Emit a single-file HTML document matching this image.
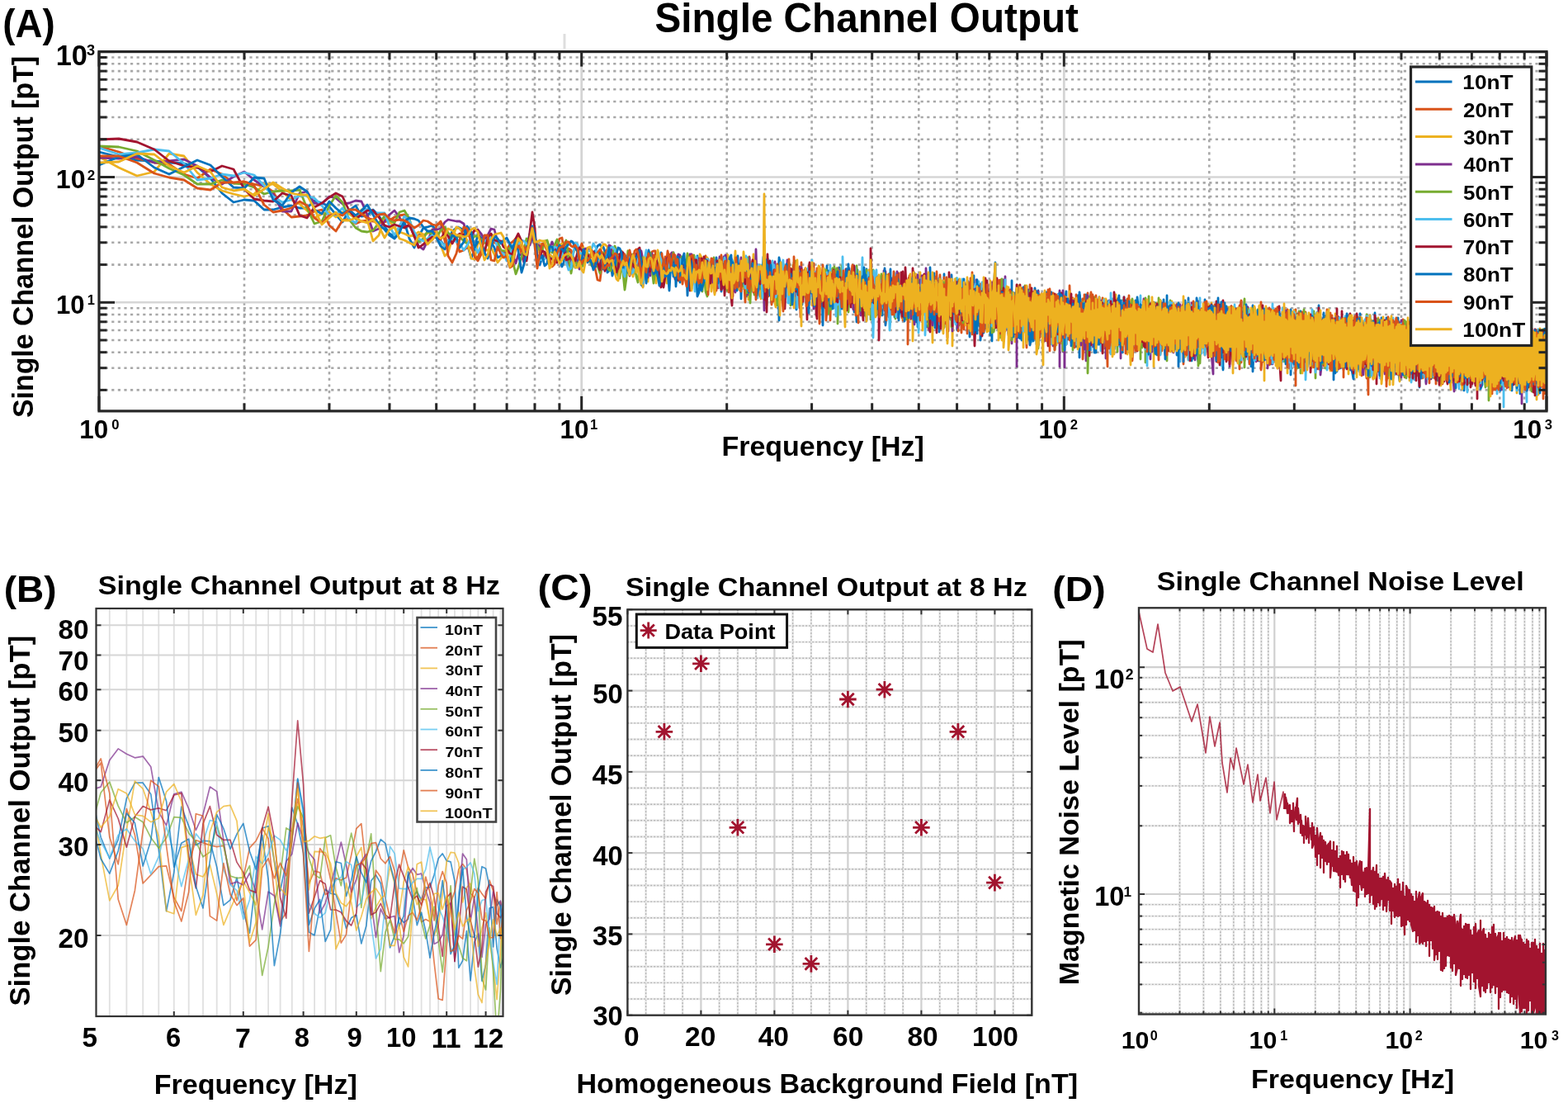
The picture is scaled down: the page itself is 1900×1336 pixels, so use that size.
<!DOCTYPE html>
<html><head><meta charset="utf-8"><title>Single Channel Output</title>
<style>html,body{margin:0;padding:0;background:#fff;overflow:hidden;}svg{display:block;}</style>
</head><body>
<svg width="1900" height="1336" viewBox="0 0 1900 1336" font-family="'Liberation Sans', Arial, Helvetica, sans-serif" font-weight="bold" fill="#000">
<defs>
<clipPath id="clipA"><rect x="120" y="62.6" width="1754" height="435.3"/></clipPath>
<clipPath id="clipB"><rect x="116.5" y="737" width="493" height="494"/></clipPath>
<clipPath id="clipD"><rect x="1380" y="736.3" width="492.9" height="492.2"/></clipPath>
</defs>
<rect width="1900" height="1336" fill="#fff"/>
<line x1="296" y1="62.6" x2="296" y2="497.9" stroke="#a8a8a8" stroke-width="2.6" stroke-dasharray="3.2 4.4"/>
<line x1="399" y1="62.6" x2="399" y2="497.9" stroke="#a8a8a8" stroke-width="2.6" stroke-dasharray="3.2 4.4"/>
<line x1="472" y1="62.6" x2="472" y2="497.9" stroke="#a8a8a8" stroke-width="2.6" stroke-dasharray="3.2 4.4"/>
<line x1="528.7" y1="62.6" x2="528.7" y2="497.9" stroke="#a8a8a8" stroke-width="2.6" stroke-dasharray="3.2 4.4"/>
<line x1="575" y1="62.6" x2="575" y2="497.9" stroke="#a8a8a8" stroke-width="2.6" stroke-dasharray="3.2 4.4"/>
<line x1="614.1" y1="62.6" x2="614.1" y2="497.9" stroke="#a8a8a8" stroke-width="2.6" stroke-dasharray="3.2 4.4"/>
<line x1="648" y1="62.6" x2="648" y2="497.9" stroke="#a8a8a8" stroke-width="2.6" stroke-dasharray="3.2 4.4"/>
<line x1="677.9" y1="62.6" x2="677.9" y2="497.9" stroke="#a8a8a8" stroke-width="2.6" stroke-dasharray="3.2 4.4"/>
<line x1="880.7" y1="62.6" x2="880.7" y2="497.9" stroke="#a8a8a8" stroke-width="2.6" stroke-dasharray="3.2 4.4"/>
<line x1="983.6" y1="62.6" x2="983.6" y2="497.9" stroke="#a8a8a8" stroke-width="2.6" stroke-dasharray="3.2 4.4"/>
<line x1="1056.7" y1="62.6" x2="1056.7" y2="497.9" stroke="#a8a8a8" stroke-width="2.6" stroke-dasharray="3.2 4.4"/>
<line x1="1113.3" y1="62.6" x2="1113.3" y2="497.9" stroke="#a8a8a8" stroke-width="2.6" stroke-dasharray="3.2 4.4"/>
<line x1="1159.6" y1="62.6" x2="1159.6" y2="497.9" stroke="#a8a8a8" stroke-width="2.6" stroke-dasharray="3.2 4.4"/>
<line x1="1198.8" y1="62.6" x2="1198.8" y2="497.9" stroke="#a8a8a8" stroke-width="2.6" stroke-dasharray="3.2 4.4"/>
<line x1="1232.7" y1="62.6" x2="1232.7" y2="497.9" stroke="#a8a8a8" stroke-width="2.6" stroke-dasharray="3.2 4.4"/>
<line x1="1262.6" y1="62.6" x2="1262.6" y2="497.9" stroke="#a8a8a8" stroke-width="2.6" stroke-dasharray="3.2 4.4"/>
<line x1="1465.3" y1="62.6" x2="1465.3" y2="497.9" stroke="#a8a8a8" stroke-width="2.6" stroke-dasharray="3.2 4.4"/>
<line x1="1568.3" y1="62.6" x2="1568.3" y2="497.9" stroke="#a8a8a8" stroke-width="2.6" stroke-dasharray="3.2 4.4"/>
<line x1="1641.3" y1="62.6" x2="1641.3" y2="497.9" stroke="#a8a8a8" stroke-width="2.6" stroke-dasharray="3.2 4.4"/>
<line x1="1698" y1="62.6" x2="1698" y2="497.9" stroke="#a8a8a8" stroke-width="2.6" stroke-dasharray="3.2 4.4"/>
<line x1="1744.3" y1="62.6" x2="1744.3" y2="497.9" stroke="#a8a8a8" stroke-width="2.6" stroke-dasharray="3.2 4.4"/>
<line x1="1783.4" y1="62.6" x2="1783.4" y2="497.9" stroke="#a8a8a8" stroke-width="2.6" stroke-dasharray="3.2 4.4"/>
<line x1="1817.3" y1="62.6" x2="1817.3" y2="497.9" stroke="#a8a8a8" stroke-width="2.6" stroke-dasharray="3.2 4.4"/>
<line x1="1847.2" y1="62.6" x2="1847.2" y2="497.9" stroke="#a8a8a8" stroke-width="2.6" stroke-dasharray="3.2 4.4"/>
<line x1="120" y1="472.4" x2="1874" y2="472.4" stroke="#a8a8a8" stroke-width="2.6" stroke-dasharray="3.2 4.4"/>
<line x1="120" y1="445.7" x2="1874" y2="445.7" stroke="#a8a8a8" stroke-width="2.6" stroke-dasharray="3.2 4.4"/>
<line x1="120" y1="426.7" x2="1874" y2="426.7" stroke="#a8a8a8" stroke-width="2.6" stroke-dasharray="3.2 4.4"/>
<line x1="120" y1="412" x2="1874" y2="412" stroke="#a8a8a8" stroke-width="2.6" stroke-dasharray="3.2 4.4"/>
<line x1="120" y1="400" x2="1874" y2="400" stroke="#a8a8a8" stroke-width="2.6" stroke-dasharray="3.2 4.4"/>
<line x1="120" y1="389.8" x2="1874" y2="389.8" stroke="#a8a8a8" stroke-width="2.6" stroke-dasharray="3.2 4.4"/>
<line x1="120" y1="381" x2="1874" y2="381" stroke="#a8a8a8" stroke-width="2.6" stroke-dasharray="3.2 4.4"/>
<line x1="120" y1="373.2" x2="1874" y2="373.2" stroke="#a8a8a8" stroke-width="2.6" stroke-dasharray="3.2 4.4"/>
<line x1="120" y1="320.6" x2="1874" y2="320.6" stroke="#a8a8a8" stroke-width="2.6" stroke-dasharray="3.2 4.4"/>
<line x1="120" y1="293.8" x2="1874" y2="293.8" stroke="#a8a8a8" stroke-width="2.6" stroke-dasharray="3.2 4.4"/>
<line x1="120" y1="274.9" x2="1874" y2="274.9" stroke="#a8a8a8" stroke-width="2.6" stroke-dasharray="3.2 4.4"/>
<line x1="120" y1="260.2" x2="1874" y2="260.2" stroke="#a8a8a8" stroke-width="2.6" stroke-dasharray="3.2 4.4"/>
<line x1="120" y1="248.1" x2="1874" y2="248.1" stroke="#a8a8a8" stroke-width="2.6" stroke-dasharray="3.2 4.4"/>
<line x1="120" y1="238" x2="1874" y2="238" stroke="#a8a8a8" stroke-width="2.6" stroke-dasharray="3.2 4.4"/>
<line x1="120" y1="229.2" x2="1874" y2="229.2" stroke="#a8a8a8" stroke-width="2.6" stroke-dasharray="3.2 4.4"/>
<line x1="120" y1="221.4" x2="1874" y2="221.4" stroke="#a8a8a8" stroke-width="2.6" stroke-dasharray="3.2 4.4"/>
<line x1="120" y1="168.7" x2="1874" y2="168.7" stroke="#a8a8a8" stroke-width="2.6" stroke-dasharray="3.2 4.4"/>
<line x1="120" y1="142" x2="1874" y2="142" stroke="#a8a8a8" stroke-width="2.6" stroke-dasharray="3.2 4.4"/>
<line x1="120" y1="123" x2="1874" y2="123" stroke="#a8a8a8" stroke-width="2.6" stroke-dasharray="3.2 4.4"/>
<line x1="120" y1="108.3" x2="1874" y2="108.3" stroke="#a8a8a8" stroke-width="2.6" stroke-dasharray="3.2 4.4"/>
<line x1="120" y1="96.3" x2="1874" y2="96.3" stroke="#a8a8a8" stroke-width="2.6" stroke-dasharray="3.2 4.4"/>
<line x1="120" y1="86.1" x2="1874" y2="86.1" stroke="#a8a8a8" stroke-width="2.6" stroke-dasharray="3.2 4.4"/>
<line x1="120" y1="77.3" x2="1874" y2="77.3" stroke="#a8a8a8" stroke-width="2.6" stroke-dasharray="3.2 4.4"/>
<line x1="120" y1="69.5" x2="1874" y2="69.5" stroke="#a8a8a8" stroke-width="2.6" stroke-dasharray="3.2 4.4"/>
<line x1="704.7" y1="62.6" x2="704.7" y2="497.9" stroke="#d4d4d4" stroke-width="2.8"/>
<line x1="1289.3" y1="62.6" x2="1289.3" y2="497.9" stroke="#d4d4d4" stroke-width="2.8"/>
<line x1="120" y1="366.3" x2="1874" y2="366.3" stroke="#d6d6d6" stroke-width="2.6"/>
<line x1="120" y1="214.5" x2="1874" y2="214.5" stroke="#d6d6d6" stroke-width="2.6"/>
<path d="M120 184l24 6 22 4 21 1 18 2 18 1 16 4 16 14 14 18 14 11 13-3 12 1 12 11 11 0 11-3 11-2 10 3 9 0 9-9 9 3 9 4 8 10 8 9 8-14 8-6 7 13 7-1 7-7 7 7 7 13 6 9 6 3 6-10 6-7 6 20 6 11 5-13 6-11 5-1 6-2 5 7 5 12 5 6 4-6 5-12 5-4 4 0 5 3 4 16 5 18 4-11 4-19 4 5 4 6 4-1 4 0 4 7 4 12 4-2 3-6 4 9 4 7 3-17 4-14 3-1 4 11 3 8 3-8 4-16 3 5 3 8 3 24 3 1 3-9 3-5 3 1 3 0 3 5 3 5 3-3 3 0 3 8 2-5 3-14 3-1 3 2 2 10 3 9 3-3 2-6 3 2 2-1 3-7 2-1 3 2 2-4 2 0 3-3 2-5 3-2 2 3 2 0 2 6 3 25 2-2 2-9 2 15 3-11 2-3 2 14 2-5 2-16 2-1 2 12 2 6 2-4 2-6 2 11 2-4 2 4 2-17 2-3 2 2 2 32 2 2 2-19 2-17 2 15 1-15 2 5 2 1 2-1 2 16 1 1 2 3 2-16 2-14 1 15 2-4 2 0 2 3 1 2 2-12 2 11 1 6 2-15 2 1 1 6 2 3 1-13 2 14 2 7 1-11 2 8 1-1 2 3 1 1 2 16 1-8 2-1 1 7 2-13 1-6 2 11 1-26 2 17 1-3 2 17 1-3 2-25 1 7 1 10 2 14 1-30 1 26 2-5 1-4 2-6 1 4 1 0 2-17 1 16 1-3 2 23 1-26 1 31 2-14 1-27 1 29 1-10 2 16 1 0 1-29 1 19 2-4 1 3 1 17 1-19 2-15 1 24 1-16 1-7 1 30 2-28 1 40 1-37 1 13 1 11 2-13 1 7 1 16 1-38 1 0 1 28 1-8 2 1 1-3 1 15 1-30 1 11 1 14 1-6 1 4 1-8 2-11 1 0 1 24 1-17 1 14 1 14 1-10 1-16 1 23 1-12 1-16 1 16 1 0 1 4 1 15 1-25 1-4 1-1 1 17 1-1 1-24 1 24 1-9 1 44 1-33 1 0 1 8 1-41 1 23 1 25 1-30 1 1 1 0 1-17 1 18 1-1 1 10 1 5 1-14 1 1 1 12 1-6 0-8 1-1 1 10 1 25 1-35 1 8 1 8 1-6 1 10 1-20 0 9 1 20 1-30 1-1 1 8 1-9 1 30 1-39 0 12 1-9 1 36 1-14 1-4 1-27 1 23 0 18 1-25 1 5 1 13 1-21 1-4 0 18 1 11 1-23 1 4 1 9 1 8 0-8 1-10 1 6 1 48 1-56 0-13 1 17 1-6 1 11 1-25 0 25 1-18 1-1 1 21 1-13 0 34 1-28 1 29 1-30 0 13 1-3 1 10 1-16 0-6 1 23 1-9 1-8 0 12 1-24 1-9 1 22 0 4 1-3 1 14 1 10 0-11 1-14 1 8 0 8 1 3 1-15 1 5 0-15 1 25 1-45 1 32 0-27 1 30 1-11 0 14 1-29 1 13 0 19 1-7 1-12 0 36 1-16 1-2 1 30 0-42 1-21 1 53 0-10 1-19 1-4 0 1 1 8 1 4 0 19 1-49 1 6 0 26 1-9 1 4 0 2 1 10 1-43 0 30 1-12 1 12 0-6 1-16 0 18 1-17 1 28 0-18 1-9 1 8 0 19 1 4 1-8 0 4 1-13 0 7 1 8 1 8 0-9 1-9 1-10 0 4 1-3 0-7 1 10 1 28 0-19 1 18 0-23 1 29 1-26 0-2 1-6 0 8 1-31 1 37 0-17 1 17 0 8 1-8 1 16 0-25 1 31 0-39 1 12 1-10 0 26 1-36 0 4 1 3 0 14 1-12 1 11 0-16 1 43 0-28 1-17 0 7 1-1 1 1 0 8 1 16 0-20 1 13 0-2 1-3 0-1 1 14 1-23 0 6 1-12 0-10 1 15 0 9 1 21 0-19 1-3 1-2 0 4 1 8 0-19 1 9 0-11 1 24 0-15 1-11 1 32 0-15 1 4 0-20 1 9 1 15 0-9 1 7 0-7 1 6 0-9 1-12 0-12 1 17 0-12 1 54 0-40 1-1 0 3 1 8 0 36 1-22 0-12 1-8 0 18 1-13 0 2 1 0 0-2 1-8 0 13 1-3 0 12 1-8 0 6 1-17 0-19 1 2 0 32 1-15 0 5 1 29 0 8 1-26 0-7 1 19 0-6 1-2 0 2 1 5 0-16 1-13 0 5 1 18 0-11 1-3 0 31 0-43 1 33 1-51 0 46 1-11 0 7 1-24 0 17 1 19 0 13 1-28 0-32 1 40 1-32 0 40 0 16 1-37 0-6 1 5 0 32 1-24 0-14 1 13 0-14 1 27 1-52 0 47 0-14 1-13 0 16 1-6 0 2 1-7 1 7 0-12 0-7 1 28 0-1 1 0 0 2 1-1 1-19 0 19 0-15 1 12 0-37 1 28 0-7 0 25 1-17 1 13 0-10 1-15 1 27 0-14 0 6 1-12 0 10 1 14 0 19 0-39 1 3 1 30 0-17 0-25 1 0 1-2 0 16 1-13 1 8 0 12 0 5 1-25 1 13 0 11 0-34 1 45 1-40 0 41 0-40 1 26 0-14 1-11 0 17 1 4 1 0 0-23 0 15 1 45 1-36 0 1 0-32 2 44 0-29 0 24 1-24 1 6 0-28 0 34 1-13 1 20 0-16 0 2 1-13 1 42 0-10 0-26 0 16 1-5 1 3 0 26 0-37 1 1 1-4 0 6 0 52 2-22 0-44 0 25 1-14 1 4 0-9 0 19 0-14 1 31 1-9 0 15 0-31 2 29 0-35 0 32 0-24 1 19 1-22 0-1 0 37 2-38 0 46 0-19 0-33 1 8 1 51 0-30 0-33 2 20 0 27 0-12 0-31 2-36 0 71 0 2 0-40 1 37 1-35 0 12 0-4 2 6 0 31 0-5 0-28 2 18 0-22 0-8 0-1 2 17 0 13 0-13 0 13 2 20 0-47 0 33 0-25 2 18 0-22 0 3 0 24 2-8 0-15 0-12 0 3 2 37 0-39 0 11 0 23 2-15 0 24 0-37 0 21 2 21 0-60 0 52 0-37 2 25 0 8 0 5 0-19 2 17 0-35 0-1 0 33 2-12 0-25 0 1 0 33 2 16 0-37 0-15 0 31 2-10 0 37 0-6 0-25 2 18 0-35 0 14 0 39 2-21 0-19 0 15 0-32 2 34 0-17 0-10 0 26 2-37 0 33 0-10 0-1 2 5 0 33 0-40 0 19 2-15 0 10 0-19 0 38 2-21 0 28 0-12 0-16 2-13 0 19 0-27 0 27 2-26 0 16 0 12 0-23 2 6 0 15 0 28 0-35 2 10 0-40 0 6 0 47 2-41 0 36 0-12 0-19 2 17 0-20 0 29 0-25 2 17 0-19 0 46 0-24 2 7 0-27 0 11 0-23 2 5 0 22 0-31 0 44 2-33 0 24 0-16 0 26 2 2 0-25 0-8 0 17 2-19 0 10 0 2 0 10 2-31 0 43 0-4 0-23 2 46 0-44 0 26 0-37 2 19 0-3 0 15 0-12 2-26 0 26 0-5 0 19 2-26 0 32 0-10 0-29 2 12 0 9 0-11 0 12 2 8 0-28 0 17 0 18 2-26 0 20 0-12 0-16 2-14 0 64 0-38 0 18 2 7 0-28 0-5 0 40 2-39 0 21 0 14 0-39 2 6 0 17 0 4 0-30 2 14 0 26 0-27 0 33 2-11 0-37 0 35 0-26 2-11 0 59 0-30 0-12 2 1 0 27 0-33 0 23 2-25 0 62 0-26 0-50 2 10 0 15 0 23 0-27 2 1 0 36 0-15 0-31 2 28 0-9 0-10 0 33 2-14 0-28 0 38 0-50 2 45 0-39 0 12 0 43 2-58 0 38 0 18 0-31 2 13 0-36 0 15 0 25 2-1 0-37 0 38 0-17 2 11 0-19 0-6 0 23 2-23 0 26 0 19 0-43 2 22 0-23 0 3 0 23 2-7 0-31 0 20 0 28 2 1 0-36 0-3 0 24 2-26 0 18 0-9 0 16 2-17 0 36 0-7 0-25 2 14 0-14 0 12 0-21 2 28 0-34 0 10 0 10 2 28 0-36 0-9 0 37 2 4 0-28 0 18 0-22 2-3 0 12 0 5 0-27 2 2 0 57 0-2 0-59 2 18 0 35 0-40 0 29 2 4 0-31 0 18 0-24 2-1 0 16 0 7 0-24 2 15 0 16 0 11 0-30 2 17 0-21 0 28 0-21 2 22 0-41 0-5 0 49 2-37 0 27 0-35 0 49 2-7 0-27 0 18 0 12 2-46 0 29 0-14 0 23 2 6 0-19 0 28 0-33 2 26 0-35 0 38 0-27 2 23 0-17 0 8 0-25 2 1 0 30 0 3 0-29 2-1 0 28 0 5 0-51 2 19 0 28 0 14 0-40 2 18 0-13 0-16 0 29 2 5 0-34 0 12 0 34 2-44 0 34 0-27 0 31 2-19 0 16 0-32 0 25 2-23 0 43 0-4 0-48 2 41 0-39 0 56 0-42 2-16 0 48 0-9 0-24 2 28 0-36 0 6 0 27 2 0 0-30 0-10 0 38 2-39 0 24 0-9 0 23 2-7 0-28 0 38 2-28 0 32 0-2 0-27 2-19 0 41 0-25 0 18 2 8 0-30 0 23 0-26 2 39 0-29 0-20 0 50 2-8 0-31 0 12 0 21 2-30 0 33 0 9 0-40 2 27 0-30 0 42 0-43 2 38 0-34 0-3 0 47 2-30 0 6 0-8 0 17 2-40 0 40 0-23 0 25 2-2 0-33 0 13 0 19 2-15 0 31 0-3 0-38 2-6 0 54 0-55 0 52 2-50 0 29 0-28 0 27 2-27 0 43 0-37 0 28 2-10 0-28 0 16 0 26 2-44 0 38 0-29 0 45 2-41 0 23 0 6 0-37 2 5 0 17 0-38 0 54 2 0 0-31 0 29 0-31 2-1 0 56 0-59 0 29 2 8 0-44 0 63 0-56 2 33 0-28 0 21 0-35 2 49 0-18 0-31 0 55 2 14 0-63 0 5 0 58 2-39 0 20 0-43 0 50 2-43 0 40 0-37 0 34 2-38 0 33 0-33 0 24 2 3 0-34 0 6 0 31 2-44 0 35 0 6 0-28 2 46 0-55 0 7 0 30 2-25 0 32 0-3 0-29 2-4 0 31 0-21 0 29 2-33 0 25 0-40 2 31 0-21 0 38 2-50 0 47 0-39 0 35 2-3 0-32 0 41 0-40 2 6 0 40 0-50 0 28 2-31 0 34 0 24 0-44 2 45 0-48 0 66 0-60 2 23 0-34 0 11 0 36 2-11 0-23 0 14 0-18 2-7 0 33 0 11 0-40 2 31 0-39 0 53 0-46 2 2 0 32 0 12 0-42 2 25 0-34 0 9 0 27 2 18 0-58 0 43 0-28 2 29 0-30 0-6 0 53 2-54 0 59 0-9 0-51 2-4 0 40 0-22 0 34 2 3 0-44 0-5 0 42 2-4 0-30 0 35 0-41 2 1 0 38 0-3 0-28 2 40 0-42 0 29 0-30 2 36 0-44 0 47 0-31 2 22 0-40 0 2 0 59 2-47 0 24 0-35 0 39 2-39 0 33 0-44 0 80 2-41 0-26 0 46 0-39 2 44 0-51 0 22 0-18 2-3 0 40 0-35 0 35 2-42 0 33 0-38 0 31 2 4 0-25 0-3 0 37 2-27 0 28 0-36 0 48 2-11 0-40 0-6 0 37 2 4 0-35 0 29 0-28 2 3 0 43 0-13 0-24 2 18 0-34 0 41 0-34 2 42 0-38 0 53 0-44 2-12 0 44 0-1 0-46 2 1 0 37 0-31 0 47 2-43 0 38 0-36 0 43 2-58 0 49 0-40 0 54 2-61 0 45 0-43 0 41 2-35 0 32 0 12 0-41 2 32 0-31 0-16 0 42 2-2 0-25 0 32 0-44 2 10 0 35 0-41 0 43 2-44 0 38 0 10 0-52 2 56 0-49 0-4 0 46 2-47 0 52 0-52 0 72 2-76 0 53 0-44 0 42 2-7 0-37 0 9 0 43 2-13 0-38 0 35 0-39 2 9 0 37 0-17 0-23 2-2 0 34 0-28 0 41 2-49 0 46 0-17 0-36 2 47 0-25 0 24 0-39 2 10 0 45 0-57 0 46 2-43 0 47 0 7 0-52 2 42 0-38 0 2 0 35 2 8 0-37 0 31 0-33 2-8 0 33 0-29 0 38 2-38 0 29 0-34 0 39 2 11 0-44 0 40 0-38 2 42 0-54 0 5 0 38 2 14 0-42 0-3 0 32 2-4 0-54 0 60 0-50 2 65 0-55 0-5 0 40 2-37 0 39 0-38 0 35 2 3 0-43 0 8 0 29 2 4 0-31 0-11 0 56 2-55 0 45 0-32 0 34 2 4 0-48 0 48 0-50 2 13 0 27 0 21 0-52 2 0 0 47 0-51 0 43 2-43 0 38 0-32 0 29 2 10 0-42 0 59 0-57 2 55 0-56 0-4 0 41 2-39 0 47 0-10 0-29 2 46 0-52 0 2 0 32 2 8 0-33 0 36 0-52 2 12 0 34 0-10 0-24 2 28 0-34 0 52 0-45 2 25 0-36 0 3 0 38 2-34 0 37 0 1 0-42 2 37 0-38 0-8 0 65 2-13 0-48 0 9 0 52 2 11 0-68 0 35 0-32 2 4 0 32 0-38 2 49 0-50 0 1 0 53 2-51 0 30 0-39 0 37 2 7 0-49 0 66 0-51 2 2 0 53 0-60 0 51 2-44 0 34 0-39 0 44 2-15 0-30 0 2 0 30 2-28 0 53 0-57 0 46 2-45 0 47 0-42 0 34 2 17 0-54 0 50 0-62 2 61 0-37 0-11 0 48 2-50 0 43 0-39 0 47 2 6 0-71 0 9 0 46 2-48 0 53 0-41 0 37 2-32 0 36 0-39 0 29 2-36 0 45 0-5 0-37 2 5 0 38 0-1 0-53 2 49 0-33 0 33 0-35 2-9 0 41 0 6 0-43 2 1 0 41 0 6 0-57 2 12 0 49 0-2 0-57 2 1 0 56 0-49 0 40 2-39 0 57 0-57 0 50 2-6 0-38 0 33 0-42 2-3 0 50 0-45 0 41 2 5 0-41 0 33 0-37 2 37 0-29 0-5 0 48 2 14 0-65 0 6 0 52 2-24 0-35 0 5 0 48 2-48 0 51 0-17 0-42 2 11 0 28 0-24 0 34 2-46 0 49 0-44 0 36 2 10 0-48 0 47 0-47 2 36 0-38 0 49 0-51 2 44 0-44 0 50 0-41 2 36 0-38 0 46 0-56 2 10 0 50 0-52 0 48 2-15 0-37 0 52 0-52 2 10 0 36 0-42 0 42 2 1 0-34 0 61 0-66 2-2 0 35 0 6 0-39 2 45 0-49 0 48 0-46 2 41 0-39 0 44 0-46 2 4 0 44 0-50 0 64 2-64 0 35 0-4 0-34 2 47 0-43 0 52 0-52 2 35 0-31 0-3 0 45 2-8 0-29 0-17 0 57 2-56 0 50 0-39 0 41 2-40 0 33 0-9 0-27 2 59 0-61 0 38 0-36 2-8 0 58 0-3 0-54 2 5 0 54 0-51 0 46 2-47 0 50 0-1 0-51 2 5 0 56 0-25 0-41 2 53 0-50 0 38 2 8 0-44 0 45 0-48 2 7 0 46 0-47 0 50 2 0 0-52 0 2 0 37 2-44 0 48 0-42 0 41 2-42 0 66 0-67 0 30 2 33 0-62 0-7 0 54 2 4 0-50 0-7 0 50 2 5 0-56 0 43 0-37 2 58 0-56 0-1 0 64 2-7 0-55 0 34 0-25 2 41 0-49 0-3 0 72 2-72 0 50 0-39 0 30 2-32 0 49 0 6 0-63 2 46 0-44 0 44 0-40 2 37 0-35 0 48 0-50 2 45 0-48 0-9 0 60 2-4 0-48 0 49 0-54 2 37 0-28 0 55 0-59 2 45 0-44 0-6 0 49 2-45 0 47 0-43 0 49 2-48 0 62 0-70 0 71 2-5 0-53 0 53 0-61 2 50 0-48 0-6 0 54 2-6 0-48 0 5 0 46 2 4 0-51 0-4 0 41 2 17 0-49 0 31 0-29 2 42 0-54 0 50 2 8 0-60 0 1 0 46 2-38 0 44 0 7 0-57 2 11 0 36 0-40 0 39 2-43 0 47 0 1 0-44 2-7 0 60 0-58 0 58 2-56 0 50 0-45 0 63 2-13 0-59 0 57 0-50 2-4 0 48 0-44 0 51 2-54 0 48 0-2 0-48 2 1 0 35 0 19 0-54 2 7 0 46 0-52 0 47 2-3 0-54 0 14 0 43 2-43 0 48 0-50 2 1 0 50 0-52 0 47 2 12 0-52 0 1 0 33 2-31 0 47 0-53 0 40 2-40 0 49 0-59 0 48 2 12 0-54 0 1 0 70 2-66 0 50 0-50 0 53 2-56 0 44 0 6 0-55 2 1 0 54 0-2 0-53 2 51 0-47 0-2 0 56 2 5 0-61 0 54 0-46 2 40 0-39 0-2 0 48 2-1 0-52 0 45 0-37 2-12 0 51 0-42 0 42 2-40 0 39 0-43 0 58 2-59 0 38 0-47 0 67 2-6 0-48 0 44 2 7 0-62 0 52 0-53 2 66 0-64 0 5 0 46 2-4 0-40 0 47 2-47 0 58 0-14 0-39" fill="none" stroke="#0072BD" stroke-width="2.8" stroke-linejoin="round" clip-path="url(#clipA)"/>
<path d="M120 177l24 7 22 8 21 5 18 2 18 12 16 5 16-11 14 6 14 11 13-2 12 3 12 3 11 6 11 21 11 10 10-1 9-1 9-5 9-2 9 19 8 7 8-13 8-2 8 6 7-3 7-1 7 1 7 2 7-1 6-2 6-4 6-2 6-1 6 11 6 16 5-2 6 1 5 8 6-4 5-17 5-3 5 22 4 8 5-17 5 8 4 14 5-2 4-3 5 0 4 9 4 4 4-14 4-6 4 0 4 1 4 0 4 0 4 9 3 7 4-6 4-9 3-2 4-4 3 3 4 16 3 9 3-3 4-24 3-10 3 9 3 16 3-3 3 0 3 7 3-1 3-4 3 0 3 0 3-7 3-8 3-1 2 13 3 14 3-14 3 2 2 7 3 5 3 5 2-17 3-8 2 6 3 1 2 6 3 9 2-1 2 1 3 12 2 10 3 1 2-16 2-13 2-3 3-7 2-1 2 1 2 7 3 1 2-2 2 1 2 2 2-6 2 3 2 10 2-6 2 9 2-2 2-10 2 6 2 0 2-4 2 14 2 4 2-1 2-8 2 6 2 3 2-11 1-4 2 0 2-8 2-1 2 0 1 10 2 7 2 18 2-19 1-13 2 18 2-14 2 3 1-10 2 10 2 14 1-18 2 7 2-3 1 18 2 1 1 7 2-8 2-18 1 1 2 12 1-4 2 10 1-15 2 20 1-2 2 0 1-23 2 24 1-17 2 5 1-1 2 22 1-15 2-8 1-6 2 16 1-3 1-20 2 24 1-5 1 0 2-3 1-3 2 1 1 8 1 23 2-24 1 2 1 8 2-4 1-16 1 7 2 20 1-16 1-15 1 12 2-20 1 10 1 13 1 8 2 2 1-16 1 33 1-35 2-3 1 5 1 9 1 11 1 1 2 5 1-12 1-17 1 6 1 0 2 37 1-44 1 1 1 9 1-10 1-11 1 31 2-18 1 15 1 5 1-13 1-7 1-3 1 16 1-15 1 31 2 6 1-27 1 4 1-13 1 15 1-19 1 2 1 16 1 0 1 6 1 16 1-6 1-5 1-11 1 18 1-17 1-19 1 13 1 6 1-10 1 11 1-4 1-10 1 27 1-10 1-13 1 21 1-10 1 8 1-15 1 9 1 14 1-7 1-15 1 2 1 27 1-35 1-3 1 14 1 19 1-10 1-22 0 24 1-11 1-11 1 7 1 4 1 4 1-5 1 5 1 41 1-66 0 33 1 11 1-22 1 4 1 7 1 4 1-2 1-5 0-9 1 33 1-50 1 18 1 2 1-5 1-15 0 4 1 9 1-16 1 50 1-15 1-1 0-18 1 1 1 14 1-20 1 13 1 15 0-13 1 20 1-34 1 7 1 16 0-12 1-2 1 3 1-11 1-2 0 36 1-16 1-12 1 27 1-27 0 50 1-39 1-5 1-16 0 15 1-11 1 10 1 19 0-27 1 4 1 12 1 7 0-1 1-23 1-5 1 1 0 10 1 10 1-23 1 19 0 7 1 15 1-2 0-27 1 15 1 20 1-42 0 20 1 15 1-25 1 27 0-6 1 3 1-4 0 5 1 0 1-45 0 21 1 9 1 5 0 13 1-27 1-10 1 17 0 3 1 7 1-16 1 3 1-6 0 19 1 3 1-26 0 7 1 0 1 24 0-27 1-3 1 15 0 10 1-14 1 15 0-1 1-21 1 16 0 23 1-29 0-1 1 11 1 6 0-10 1 7 1-18 0-12 1 21 1-13 0 16 1-20 0 18 1 8 1 12 0-25 1-7 1-7 0 5 1 9 0-17 1 29 1-19 0 14 1 0 0-18 1-3 1 28 0-29 1 2 0 24 1-11 1 23 0 18 1-42 0 6 1 4 1-11 0 17 1-15 0-12 1-7 1 25 0 10 1-8 0-6 1-3 0 24 1-36 1-2 0 16 1 9 0-6 1-18 0 7 1 4 1 31 0-14 1-4 0 15 1-45 0 28 1-12 0 4 1 13 1-7 0 14 1-23 0 37 1-7 0 10 1-17 0-28 1 13 1 2 0-6 1 13 0 5 1-26 0 33 1-9 0 49 1-77 0 6 1 9 0 29 1-40 0 14 1-4 1 10 0-13 1 19 0-22 1-19 0 32 1 22 0-20 1 5 0-18 1 10 0-8 1 9 0 5 1-9 0-9 1 39 0-46 1 28 0 18 1-47 0-7 1 11 0 11 1-6 0 9 1 2 0 11 1-21 0 9 1 14 0-2 1-18 0 21 1-36 0-5 1 20 0-21 1 21 0 16 1 29 0-24 1-32 0 33 1-12 0-14 1 14 0-7 1-7 0 11 1-4 0 23 0-25 1 2 1 11 0-7 1 4 0-13 1-16 0 14 1 11 0-31 1 47 0-17 1 19 1-14 0-19 0 13 1 15 0-19 1 23 0-15 1 6 0-23 1 2 0 17 1 11 1 21 0-36 0-24 1 25 0 7 1-7 0-6 1 16 1 38 0-48 0 6 1 4 0-12 1 9 0-11 1-8 1 10 0-13 0 12 1 11 0-14 1 20 0 12 0-26 1 17 1-10 0-2 1 3 1-16 0 18 0-22 1 43 0-41 1 14 0-11 0-9 1 56 1-46 0 38 0-32 1-10 1 32 0-20 1 40 1-41 0 35 0-15 1-8 1-22 0 23 0 24 1-43 1 15 0-7 0 22 1-35 0 18 1-24 0 7 0 52 1-37 1-5 0-2 0 18 1 4 1-7 0-19 0 41 2-21 0-46 0 58 1-27 1-15 0 26 0 2 1-18 1 23 0-34 0 4 1 14 1-3 0 14 0-13 0 8 1-2 1 4 0-18 0 6 1 14 1 29 0-20 0-38 2 27 0-15 0 18 1-12 1 16 0-20 0-9 0 44 1-21 1-3 0 29 0-42 2 29 0-17 0-3 0 5 1-5 1 9 0 10 0 9 2-20 0-9 0 1 0 16 1-28 1-4 0 24 0-24 2 22 0-25 0 55 0-43 2 23 0-20 0 35 0-28 1 10 1 2 0-15 0 15 2-17 0 15 0 5 0-43 2-1 0 38 0-20 0 30 2-11 0-6 0 18 0-25 2 25 0-20 0-2 0 11 2-20 0 10 0 3 0 17 2-7 0-6 0 16 0-31 2 6 0 18 0 23 0-35 2 31 0-29 0 25 0-39 2 22 0 13 0-12 0-17 2 13 0-13 0 33 0-28 2 1 0 5 0-10 0-5 2 14 0 18 0-35 0 44 2-35 0 25 0 10 0-49 2 38 0-28 0 9 0 8 2-22 0 42 0-20 0-22 2 25 0-34 0 33 0 9 2-19 0 19 0-29 0 16 2 43 0-44 0-8 0 16 2-13 0 35 0-27 0 10 2-10 0-11 0-24 0 72 2-60 0 32 0-2 0-11 2-16 0 43 0-6 0-23 2 24 0-30 0 1 0 14 2 13 0-34 0-6 0 31 2 8 0-23 0 20 0-33 2 23 0-15 0 15 0 25 2-20 0-29 0 5 0 22 2-18 0 21 0-4 0-11 2-16 0 21 0-9 0 8 2-21 0 56 0-48 0 27 2-19 0-6 0 20 0-30 2 42 0-11 0-5 0-32 2 43 0-5 0 28 0-45 2 3 0 13 0-17 0 24 2-31 0 24 0-23 0 39 2-20 0 23 0-44 0 30 2 23 0-43 0 17 0-16 2 1 0 19 0-8 0-23 2 34 0-31 0 6 0 24 2-5 0-15 0 14 0 34 2-41 0 14 0-13 0 29 2 5 0-50 0 38 2-7 0-27 0 34 0-31 2 24 0-22 0 18 0-48 2 65 0-35 0 22 0 17 2-17 0-29 0-8 0 48 2 5 0-50 0 32 0-33 2 45 0-40 0 1 0 26 2-22 0 24 0-7 0 21 2-44 0 45 0-21 0-12 2 8 0 29 0-33 0 24 2-45 0 37 0-8 0 44 2-33 0-45 0 30 0-12 2 29 0-26 0 31 0-39 2 39 0-36 0-18 0 35 2 14 0-30 0-4 0 17 2 2 0-18 0 24 0-32 2 4 0 41 0-35 0 24 2-23 0 45 0-15 0-30 2-4 0 45 0-28 0-15 2 16 0 24 0-22 0-15 2 13 0-9 0 21 0-21 2 18 0-19 0-12 0 22 2 0 0-27 0 20 0 21 2-31 0 25 0-15 0 41 2-43 0 13 0-24 0 38 2-32 0 39 0 5 0-44 2 12 0-12 0 43 0-31 2 2 0-20 0 16 0 44 2-45 0 37 0-40 0 27 2-26 0 15 0-29 0 39 2 11 0-46 0 12 0 11 2 8 0-24 0-16 0 47 2 5 0-45 0 19 0 16 2-1 0-24 0-6 0 26 2-8 0-17 0 28 0-15 2-11 0 34 0-9 0-36 2 46 0-32 0 39 0-49 2 5 0 18 0 11 0-17 2-28 0 34 0 4 0-25 2 10 0 17 0-28 0 36 2-17 0 15 0-28 0 61 2-26 0-36 0 39 0-47 2 9 0 20 0 29 0-47 2 37 0-37 0 42 0-45 2 36 0-32 0 2 0 19 2 20 0-44 0 24 0-19 2 18 0-17 0-9 0 39 2-31 0 18 0-22 0 33 2-33 0 30 0-38 0 36 2 1 0-40 0 10 0 50 2-47 0 33 0-39 2 31 0-27 0 1 0 43 2-28 0-26 0 7 0 29 2-13 0 23 0-36 2 22 0-29 0 2 0 26 2-27 0 45 0-1 0-41 2 34 0-30 0 32 0-31 2 36 0-31 0 30 0-34 2 28 0-29 0 46 0-51 2 43 0-38 0 25 0-25 2 1 0 25 0-12 0-21 2 7 0 15 0-16 0 33 2-11 0-13 0 21 0-27 2 2 0 26 0 9 0-31 2 38 0-50 0 28 0-33 2 42 0-34 0 30 0-32 2 31 0-24 0 25 0-34 2 3 0 35 0-32 0 42 2-16 0-19 0 40 0-46 2 26 0-25 0 43 0-44 2 3 0 38 0-32 0 21 2-30 0 20 0 40 0-69 2 60 0-60 0 45 0-32 2-3 0 35 0-44 0 32 2-26 0 30 0-30 0 55 2-8 0-34 0-14 0 25 2 0 0-28 0 41 0-34 2 38 0-41 0 23 0-13 2 28 0-34 0 33 0-18 2 9 0-30 0 39 0-38 2 3 0 26 0-39 0 35 2 16 0-35 0 28 0-34 2 30 0-29 0 39 0-38 2 26 0-29 0 36 0-37 2-5 0 59 0-19 0-28 2-11 0 50 0-42 0 29 2 18 0-43 0 45 0-54 2 9 0 41 0-54 0 40 2-7 0-22 0 39 0-36 2-1 0 27 0-24 0 19 2-18 0 23 0-42 0 51 2-44 0 48 0-18 0-23 2 26 0-40 0 15 0 35 2-46 0 47 0-40 0 30 2 14 0-49 0 15 0 26 2-3 0-26 0-8 0 36 2-37 0 30 0-18 0 26 2 13 0-51 0 28 0-27 2 33 0-15 0 28 0-40 2 7 0 32 0 2 0-46 2-4 0 34 0-25 0 40 2-15 0-28 0 37 2-42 0 30 0 9 0-39 2 39 0-29 0 1 0 32 2-28 0 37 0 2 0-48 2 64 0-63 0 38 0-26 2-3 0 46 0-5 0-52 2-1 0 43 0-49 0 41 2 1 0-34 0-2 0 35 2 8 0-47 0 53 2-48 0 40 0-39 0 24 2-25 0 43 0-40 0 38 2 9 0-51 0-5 0 56 2-18 0-29 0 1 0 23 2 2 0-26 0-9 0 47 2-31 0 34 0-38 0 31 2-38 0 53 0-44 0 40 2-13 0-46 0 46 0-31 2 41 0-52 0-9 0 48 2-30 0 51 0-48 0 33 2-25 0 34 0-20 0-21 2-7 0 43 0 3 0-41 2-10 0 45 0-46 0 52 2-34 0 20 0-31 0 60 2-3 0-52 0 1 0 18 2 9 0-33 0 45 0-45 2 42 0-33 0-12 0 59 2-13 0-44 0 51 0-51 2 43 0-39 0-13 0 60 2-52 0 61 0-24 0-35 2 12 0 52 0-30 0-34 2 44 0-38 0 38 0-42 2-2 0 31 0 20 0-61 2 65 0-49 0 2 0 36 2 16 0-53 0-14 0 36 2-19 0 54 0-26 0-35 2 40 0-40 0 39 0-45 2 1 0 29 0-26 0 32 2 17 0-46 0-4 0 49 2-7 0-49 0 74 0-65 2 41 0-32 0-9 0 45 2-10 0-32 0 5 0 33 2 8 0-37 0 33 0-46 2 39 0-44 0 12 0 48 2-10 0-31 0-13 0 46 2-52 0 54 0-39 0 26 2 12 0-46 0 5 0 40 2 4 0-49 0 1 0 38 2-30 0 34 0-35 0 38 2-2 0-34 0-8 0 40 2-3 0-31 0-4 0 52 2-60 0 62 0-12 0-32 2 44 0-53 0 3 0 41 2-42 0 38 0-38 0 32 2-29 0 29 0 10 0-50 2 32 0-18 0-8 0 43 2 10 0-57 0 57 0-53 2 45 0-46 0 40 0-33 2 1 0 35 0-39 0 37 2 9 0-50 0 9 0 42 2-11 0-39 0-2 0 47 2-53 0 58 0-43 0 30 2-37 0 33 0-34 0 58 2-13 0-39 0 48 0-54 2 56 0-53 0 5 0 48 2-10 0-43 0 45 0-46 2 46 0-44 0 38 0-40 2 35 0-34 0 37 0-30 2-13 0 71 0-61 0 48 2-51 0 50 0-13 0-28 2-11 0 39 0 5 0-39 2 34 0-33 0-7 0 52 2-54 0 35 0 15 0-43 2-6 0 49 0-38 0 42 2-44 0 33 0-40 0 41 2-31 0 34 0-1 0-45 2 43 0-43 0-5 0 48 2 4 0-44 0 5 0 50 2-48 0 36 0 8 0-47 2 36 0-38 0-5 0 66 2-61 0 46 0-43 0 42 2-40 0 35 0-42 0 50 2 16 0-73 0 48 0-46 2 91 0-75 0-17 0 50 2-45 0 49 0-38 0 33 2 1 0-39 0-8 0 53 2 17 0-62 0-8 0 67 2-59 0 41 0-39 0 36 2 3 0-51 0 58 0-41 2-10 0 56 0-19 0-40 2 46 0-46 0 6 0 35 2 28 0-55 0-7 0 31 2 9 0-44 0 5 0 42 2-48 0 53 0-6 0-49 2 6 0 49 0-49 0 71 2-84 0 74 0-60 0 55 2-63 0 54 0-46 0 39 2 15 0-47 0 33 0-40 2-9 0 50 0 3 0-42 2-9 0 58 0-6 0-36 2 22 0-32 0 47 0-58 2 56 0-37 0 34 0-42 2 59 0-59 0-1 0 50 2-40 0 21 0-25 0 39 2-35 0 40 0-59 0 57 2-42 0 55 0-6 0-58 2-2 0 48 0-38 0 36 2 10 0-48 0-1 0 53 2-20 0-32 0 4 0 33 2 12 0-52 0 7 0 43 2-42 0 55 0-57 0 34 2 1 0-42 0 47 2 6 0-51 0 36 0-37 2 51 0-50 0-6 0 55 2-43 0 36 0-41 0 55 2 5 0-58 0 38 0-39 2 59 0-57 0 43 0-47 2 37 0-36 0 5 0 39 2 3 0-44 0 36 2-40 0 50 0-45 0 47 2-11 0-34 0-12 0 52 2-1 0-46 0 6 0 44 2-4 0-36 0 24 0-25 2 2 0 49 0 1 0-66 2 10 0 63 0-18 0-55 2 51 0-37 0 47 0-58 2 11 0 53 0-52 0 37 2-35 0 39 0 3 0-50 2 43 0-47 0 37 0-32 2 47 0-46 0-6 0 45 2-3 0-40 0 7 0 42 2-3 0-44 0 51 0-55 2 13 0 32 0 6 0-48 2 38 0-39 0 4 0 41 2-45 0 47 0-41 0 51 2-62 0 49 0-2 0-40 2 5 0 33 0-30 0 33 2-36 0 44 0-45 0 38 2-42 0 41 0-36 0 31 2-37 0 44 0 11 0-48 2-1 0 41 0-9 0-28 2 40 0-47 0 47 0-51 2 50 0-49 0 6 0 34 2 6 0-44 0 45 0-49 2 6 0 43 0 4 0-43 2-3 0 56 0-52 0 49 2-50 0 51 0-57 0 52 2-12 0-44 0 64 0-55 2-3 0 42 0 19 0-54 2-4 0 45 0-4 0-41 2 2 0 32 0 15 0-48 2-6 0 49 0-51 0 55 2-6 0-40 0 34 0-41 2 8 0 40 0-47 0 50 2-47 0 57 0-60 0 49 2 15 0-61 0 47 0-49 2 55 0-54 0 49 0-48 2-4 0 74 0-39 0-34 2 64 0-59 0 4 0 51 2-11 0-43 0-11 0 51 2-40 0 50 0-1 0-52 2 65 0-63 0 2 0 57 2-70 0 67 0-22 0-40 2 48 0-43 0-9 0 62 2 2 0-55 0 39 0-38 2 49 0-57 0 11 0 43 2-45 0 59 0-60 0 53 2-11 0-41 0 58 0-58 2 52 0-50 0-8 0 45 2-50 0 53 0-39 0 40 2-44 0 49 0 13 0-65 2 8 0 41 0-46 0 38 2-42 0 60 0-59 0 52 2-63 0 65 0-2 0-51 2-2 0 48 0 6 0-46 2 46 0-47 0-1 0 40 2 7 0-50 0 50 0-46 2-3 0 52 0-53 2 4 0 39 0-36 0 56 2-58 0 45 0-43 0 39 2-43 0 51 0-51 0 43 2-40 0 52 0-56 0 52 2-53 0 54 0-3 0-51 2 5 0 40 0-1 0-39 2 60 0-63 0 40 0-45 2-5 0 66 0-55 0 47 2 19 0-68 0 3 0 60 2-3 0-54 0-2 0 43 2 5 0-52 0 6 0 42 2 10 0-53 0 39 0-44 2 51 0-48 0 57 0-54" fill="none" stroke="#D95319" stroke-width="2.8" stroke-linejoin="round" clip-path="url(#clipA)"/>
<path d="M120 190l24 13 22 10 21-5 18-22 18 3 16 20 16 14 14 8 14 4 13 3 12-3 12-12 11 0 11 9 11 10 10 5 9 8 9 9 9-5 9-2 8 6 8-6 8 2 8 6 7-11 7 12 7 26 7-7 7-21 6 4 6 8 6 5 6 2 6 3 6-1 5-4 6 3 5-1 6-5 5 2 5 17 5 13 4-4 5-17 5-14 4 2 5 7 4 7 5 22 4 1 4-19 4-1 4 9 4 0 4-3 4 8 4 10 4-5 3-5 4-3 4 3 3 4 4-18 3-9 4 14 3 18 3-13 4-12 3-10 3 4 3 21 3-11 3 0 3 0 3 3 3 9 3 3 3 1 3-2 3-13 3-2 2 11 3 10 3-4 3-2 2-1 3-9 3 5 2 9 3-9 2-5 3 7 2 5 3-2 2 0 2 6 3 5 2-3 3-10 2-9 2-3 2 0 3 3 2 12 2-4 2-2 3 6 2 13 2-6 2-4 2 8 2 7 2 11 2-15 2-21 2 7 2 10 2 14 2-11 2-1 2 4 2-17 2 8 2 30 2-22 2-10 2 25 1-11 2-17 2 12 2 4 2-1 1 15 2-15 2 3 2 6 1 0 2-12 2 1 2 17 1-11 2 11 2-27 1 2 2 9 2 5 1 0 2-15 1 1 2 14 2-17 1 5 2 11 1-8 2 10 1-24 2 6 1 2 2 3 1 25 2-16 1 3 2-17 1 14 2-2 1-19 2 4 1 7 2-4 1 0 1 9 2-12 1 19 1 6 2 1 1 15 2-14 1-11 1 3 2 0 1 10 1-4 2-24 1 8 1 16 2-14 1 24 1-17 1-8 2 29 1-42 1 5 1 9 2 18 1-19 1 9 1-1 2-26 1 32 1 9 1 3 1 2 2 0 1-33 1 14 1 18 1-22 2 13 1 5 1 2 1-28 1 44 1-28 1-14 2-4 1 13 1-22 1 27 1-7 1 4 1-3 1-3 1 4 2 14 1 18 1-38 1 2 1 10 1-36 1 13 1 31 1-8 1 7 1-11 1 8 1 11 1-7 1-1 1 2 1-24 1 34 1 12 1 5 1-40 1-1 1 2 1 2 1-12 1 20 1-17 1 35 1-4 1 6 1-29 1-2 1 2 1 21 1-27 1 15 1-2 1 19 1 0 1-16 1-23 1 20 0 32 1-43 1-4 1 6 1 32 1-4 1-18 1 4 1-4 1 20 0-31 1 15 1-15 1 19 1-10 1-9 1 8 1-6 0-2 1 13 1-18 1 26 1 6 1-13 1 17 0 8 1-29 1 15 1-8 1-5 1 8 0-10 1-11 1 15 1 15 1-37 1 4 0 36 1-7 1 9 1-29 1 8 1 27 1-16 1-14 1-9 0 20 1 4 1-4 1 7 1-18 0 16 1-11 1-20 1 14 0 10 1-15 1-4 1 9 0-8 1 6 1 21 1-12 0-22 1 19 1 2 1 7 1-6 1 19 1-11 0-6 1-7 1 34 0-22 1-19 1 6 1 16 0-4 1 4 1-4 1-9 0 3 1 6 1-3 0-12 1 2 1 3 0 21 1-16 1 1 0 19 1 2 1-26 1-3 0 23 1-3 1-27 0 23 1 4 1-8 0-22 1 19 1 11 0 14 1-10 1-12 0 10 1-28 1 26 0 20 1 2 1-36 0 22 1-18 1 5 0-5 1-24 0 17 1 16 1-3 0-14 1 27 1-40 0 30 1-7 1-18 0 39 1-43 0 37 1-9 1-7 0 18 1-23 1 1 0 12 1 19 0-28 1 14 1 16 0-13 1 6 0-8 1 3 1-7 0-20 1 11 1-8 1 9 0-1 1-8 0 33 1-12 1-26 0 10 1 21 0 3 1-11 1-12 0-1 1-5 0 11 1 1 0 19 1-15 1-18 0-8 1 31 0 4 1-15 0 1 1 18 1 3 0-24 1 26 0-38 1 10 0 25 1-25 0 4 1 7 1 1 0-14 1-13 0 35 1-27 1 23 0 20 1-35 1 22 0-21 1 11 0-8 1 4 0-17 1 14 0 5 1-17 0-2 1 26 0-30 1 48 0-35 1 4 1-4 0 28 1-29 0 62 1-53 1-6 0 18 1 1 0-20 1-21 0 21 1 0 0 14 1-13 0 3 1 3 0-15 1 12 0 15 1-42 0 33 1-18 0 34 1-29 0 14 1 7 0 11 1-1 0-39 1 24 0-7 1-9 0 20 1 1 0-24 1 1 0 7 1 26 0 11 1-27 0 10 1-19 0-1 1 1 1 4 0 4 1-9 0 12 1 48 0-76 0 11 1 12 1 1 0 8 1 6 0-10 1 4 0-4 1 0 0-9 1 15 0-32 1 25 1 18 0-46 0 37 1-2 0 6 1-29 0-5 1 26 0-29 1 19 0 6 1-19 1-8 0 25 0-20 1 0 0 21 1-13 0 23 1-2 1 5 0-26 0 3 1 7 0-16 1 32 0-22 1-17 1 37 0-34 0 3 1 17 0-7 1 21 0-15 0 57 1-71 1 7 0-4 1-4 1 4 0 25 0 9 1-17 0 3 1-19 0 3 0 21 1-20 1 33 0-2 0-20 1 4 1-5 0 4 1-14 1 1 0 15 0-6 1 7 1-22 0 18 0-15 1 22 1-14 0 32 0-21 1-18 0-12 1 21 0 20 0-48 1 27 1 13 0 22 0-24 1-15 1 20 0-13 0 20 2-15 0-25 0 17 1-16 1-2 0 35 0-15 1-7 1-2 0 32 0-11 1-30 1 15 0 21 0-28 0 7 1-2 1 5 0-9 0 15 1 9 1 14 0-35 0 16 2-10 0-7 0 10 1-26 1 24 0 15 0-36 0 44 1-20 1 4 0-2 0-18 2 24 0-26 0 26 0-21 1 1 1 7 0-6 0 43 2-48 0 12 0-5 0 19 1-8 1-12 0 3 0 11 2-14 0 26 0-3 0-12 2-1 0 28 0-29 0 20 1-3 1-25 0 25 0-9 2-13 0-9 0 29 0-39 2 47 0-15 0-6 0 7 2 2 0 22 0-42 0 17 2-9 0 2 0 8 0-21 2 9 0 14 0 15 0-33 2 19 0-14 0 5 0 3 2 11 0-37 0 33 0-18 2 25 0-8 0-9 0 3 2 33 0-46 0 11 0 24 2-3 0-15 0-22 0 35 2 1 0 22 0-24 0-23 2 1 0 21 0-20 0 22 2-33 0 33 0-45 0 20 2 3 0 14 0-8 2 1 0-12 0 20 0-7 2 13 0-27 0 58 0-67 2 28 0 18 0-29 0 31 2-14 0-27 0 17 0-22 2 25 0-24 0 16 0 15 2-28 0 40 0-10 0-19 2-15 0 40 0-16 0-28 2 24 0 10 0-11 0 15 2-22 0 15 0 3 0-14 2 24 0-21 0 13 0-17 2-1 0 30 0-46 0 36 2-20 0 27 0-30 0 29 2 5 0-25 0-13 0 14 2-20 0 32 0-28 0 23 2 8 0-31 0 14 0 13 2 11 0-39 0 27 0-11 2-1 0-7 0 29 0-33 2 38 0-39 0 6 0 19 2-17 0 26 0-20 0-17 2-1 0 45 0-35 0 13 2 6 0-28 0 40 0-38 2 28 0-24 0 6 0 46 2-41 0-15 0-3 0 28 2-12 0 35 0-52 0 41 2-28 0 17 0 28 0-42 2 11 0-21 0 7 0 21 2-23 0 19 0-26 0 27 2-29 0 38 0-9 0-15 2-7 0 20 0 7 0-26 2 13 0 14 0-42 0 34 2 22 0-38 0 31 0-17 2-14 0 37 0-46 0 27 2 22 0-28 0 11 0-18 2 10 0-18 0 4 0 32 2 5 0-42 0 32 0-33 2 2 0 52 0-33 0 19 2-12 0-26 0 28 0-31 2 25 0-19 0-1 0 43 2-48 0 54 0-35 0 24 2-17 0-10 0 20 0-23 2 28 0-39 0 12 0 13 2 37 0-56 0-2 0 23 2-18 0 32 0-8 0-29 2 31 0-37 0 5 0 25 2 7 0-40 0 57 0-42 2-2 0 25 0-7 0-27 2 9 0 26 0 6 0-37 2 14 0 10 0-16 0 33 2-20 0-21 0 8 0 18 2 30 0-51 0-10 0 25 2-28 0 46 0-37 0 28 2-7 0-29 0 37 0-32 2 39 0-33 0 32 0-30 2 28 0-23 0-6 0 26 2-6 0-25 0 32 2 10 0-40 0 38 0-38 2 27 0-37 0 36 0-23 2-6 0 35 0-47 0 47 2-32 0 37 0-29 0 28 2-42 0 42 0-1 0-39 2-2 0 37 0-35 0 21 2 14 0-20 0-3 0 35 2-34 0 33 0-16 0-20 2 10 0-10 0-3 0 45 2-46 0 46 0-55 0 64 2-16 0-36 0 37 0-40 2 46 0-38 0 14 0-32 2 6 0 40 0-15 0-32 2 33 0-30 0 34 0-21 2 11 0-15 0-5 0 19 2 36 0-53 0 9 0 14 2-16 0 20 0 14 0-31 2-1 0 13 0-24 0 38 2-22 0 12 0-8 0-18 2 43 0-35 0-3 0 35 2 9 0-43 0-3 0 35 2-27 0 23 0-31 0 46 2-16 0-20 0 14 0-22 2 1 0 19 0-18 0 18 2-10 0 37 0-36 0 18 2-35 0 73 0-46 0-32 2 61 0-47 0-11 0 30 2 9 0-41 0 39 0-26 2 8 0 41 0-18 0-38 2-5 0 43 0-37 0 30 2 13 0-36 0 17 0-26 2 2 0 27 0 3 0-23 2 31 0-32 0 47 0-51 2 33 0-23 0 3 0 33 2-39 0 30 0-18 0-14 2-10 0 35 0-23 0 32 2 5 0-34 0-21 0 47 2-22 0 18 0 5 0-42 2 8 0 20 0 20 0-38 2 35 0-35 0-13 0 43 2-29 0 35 0-22 0-25 2 8 0 28 0-34 0 30 2 8 0-30 0 32 0-38 2 35 0-28 0 41 0-49 2 3 0 26 0 30 0-52 2 36 0-30 0 29 0-44 2 36 0-41 0 18 0 52 2-21 0-33 0 22 0-34 2 14 0 25 0 4 0-38 2 14 0 26 0-40 0 32 2 8 0-48 0 61 0-47 2-1 0 22 0-21 0 31 2-1 0-36 0 37 0-34 2 35 0-28 0-12 0 46 2-28 0 13 0-3 0-27 2 40 0-40 0 43 0-33 2-15 0 52 0-36 0 28 2 9 0-34 0-9 0 32 2-43 0 43 0-4 0-15 2-17 0 30 0 15 0-39 2 2 0 42 0-9 0-49 2 53 0-39 0 32 0-34 2 2 0 34 0 8 0-48 2 4 0 44 0-50 0 42 2 5 0-41 0 39 0-38 2 24 0-22 0 6 0 32 2-39 0 25 0-28 0 40 2-13 0-32 0 5 0 49 2-49 0 29 0 4 0-21 2 14 0-20 0 29 0-26 2-15 0 62 0-49 0 31 2 14 0-39 0 27 0-42 2 30 0-23 0-12 0 51 2-47 0 46 0-2 0-38 2 9 0 27 0-31 0 37 2-41 0 37 0-5 0-29 2 36 0-29 0-14 0 36 2-6 0-24 0-3 0 36 2-41 0 39 0 1 0-23 2-20 0 48 0-3 0-34 2 35 0-30 0-11 0 56 2-46 0 28 0 3 0-29 2-16 0 24 0 25 0-35 2 36 0-31 0-4 0 35 2-40 0 45 0-4 0-41 2 1 0 32 0 7 0-38 2-10 0 51 0-39 0 36 2-32 0 17 0-24 0 32 2-34 0 46 0 1 0-40 2 37 0-53 0 61 0-48 2-13 0 36 0-15 0 30 2-41 0 26 0 22 0-39 2-3 0 37 0 34 0-73 2 26 0-30 0 1 0 37 2 20 0-49 0-7 0 27 2 17 0-54 0 51 0-52 2 4 0 47 0-4 0-37 2 1 0 39 0-37 0 46 2 0 0-47 0 29 0-25 2-5 0 45 0-46 0 33 2-36 0 34 0-3 0-27 2 2 0 40 0-46 0 35 2-33 0 26 0-14 0 27 2 4 0-36 0 46 0-55 2-3 0 54 0-9 0-29 2 27 0-35 0 33 0-29 2 44 0-53 0 70 0-59 2 44 0-55 0-4 0 46 2-5 0-30 0 27 0-33 2 7 0 33 0-40 0 46 2 10 0-50 0-13 0 36 2 11 0-44 0 13 0 42 2 4 0-43 0 35 0-48 2 19 0 23 0-27 0 28 2 8 0-46 0 44 0-44 2-2 0 47 0-40 0 41 2-43 0 27 0 8 0-41 2 10 0 31 0-30 0 21 2-31 0 35 0-29 0 53 2-29 0-21 0-7 0 44 2-47 0 42 0 9 0-47 2-2 0 45 0-44 0 58 2-24 0-29 0-4 0 36 2-36 0 37 0-38 0 53 2-15 0-37 0 6 0 37 2 3 0-39 0-4 0 43 2-42 0 36 0-34 0 32 2-34 0 26 0-25 0 30 2-32 0 38 0-4 0-32 2-3 0 41 0-47 0 47 2 8 0-40 0 33 0-38 2-3 0 45 0-4 0-32 2-3 0 52 0-3 0-51 2-8 0 44 0 6 0-47 2 3 0 46 0-4 0-42 2 43 0-40 0 29 0-45 2 11 0 43 0-44 0 54 2-15 0-36 0-3 0 40 2-36 0 36 0-1 0-40 2 5 0 40 0-42 0 37 2 1 0-41 0-2 0 48 2-18 0-24 0 43 0-36 2-8 0 49 0-10 0-38 2 32 0-31 0 59 0-56 2-1 0 40 0-41 0 41 2-5 0-33 0 30 0-42 2 4 0 41 0 1 0-47 2 62 0-43 0 25 0-34 2 3 0 43 0-58 0 43 2 7 0-34 0 42 0-52 2 18 0 33 0-56 0 41 2 17 0-54 0 52 0-48 2 42 0-45 0 11 0 46 2-55 0 43 0-38 0 45 2-16 0-41 0 72 0-59 2 2 0 55 0-25 0-37 2 32 0-34 0 53 0-47 2 6 0 35 0-5 0-44 2 8 0 63 0-67 0 38 2 3 0-39 0 45 0-42 2-9 0 48 0-37 0 37 2-44 0 41 0-48 0 62 2-18 0-31 0-6 0 38 2-40 0 43 0 2 0-36 2 47 0-62 0 58 0-45 2 31 0-28 0-4 0 45 2-8 0-34 0 30 0-38 2 60 0-56 0 45 0-49 2-5 0 80 0-69 0 47 2-6 0-35 0-2 0 34 2-38 0 38 0-41 0 51 2-1 0-39 0 34 0-39 2-10 0 55 0-7 0-37 2 51 0-47 0-13 0 61 2-55 0 64 0-67 0 46 2-44 0 37 0-44 0 50 2 9 0-53 0 36 0-33 2 34 0-35 0 54 0-51 2 3 0 32 0 2 0-47 2 53 0-53 0 64 0-61 2 5 0 42 0 20 0-70 2 10 0 44 0 10 0-64 2 53 0-39 0-1 0 29 2 14 0-54 0 2 0 63 2-11 0-50 0-11 0 56 2 1 0-43 0-9 0 48 2-42 0 57 0-50 0 46 2-52 0 58 0 1 0-47 2-4 0 46 0-47 0 37 2-43 0 48 0-42 0 40 2 13 0-66 0 3 0 42 2-40 0 36 0-36 0 36 2 6 0-41 0 51 0-50 2 51 0-60 0 7 0 53 2 0 0-52 0-3 0 43 2-38 0 41 0 12 0-50 2 37 0-46 0 57 0-55 2 49 0-39 0-11 0 51 2-44 0 61 0-71 0 60 2-54 0 69 0-76 0 56 2-52 0 64 0-59 0 45 2-42 0 42 0-46 0 33 2 27 0-54 0 44 0-43 2-1 0 42 0-47 0 63 2-9 0-55 0 47 2 26 0-81 0 54 0-38 2-6 0 62 0-64 0 44 2 21 0-58 0-3 0 41 2-44 0 52 0-6 0-47 2 0 0 50 0-54 0 50 2-46 0 62 0-12 0-41 2 3 0 54 0-65 0 53 2 18 0-66 0 43 0-47 2 44 0-46 0 3 0 56 2-8 0-48 0 39 0-38 2 53 0-43 0 36 0-43 2 53 0-50 0-8 0 55 2-54 0 56 0-51 0 42 2-41 0 42 0-47 0 57 2-59 0 47 0-5 0-45 2-1 0 44 0-41 0 62 2-14 0-39 0-7 0 45 2-46 0 49 0-39 0 36 2-38 0 57 0-59 0 52 2-11 0-39 0-11 0 51 2-43 0 53 0-56 0 47 2-39 0 39 0 8 0-50 2 38 0-44 0 53 0-46 2 56 0-60 0 4 0 34 2-37 0 46 0-38 0 54 2-21 0-40 0-13 0 58 2 9 0-50 0 51 0-63 2 2 0 48 0 4 0-44 2 41 0-43 0-2 0 51 2-61 0 55 0-44 0 51 2-6 0-39 0 47 0-55 2 55 0-60 0 56 0-55 2 66 0-63 0 6 0 54 2-50 0 39 0-47 0 48 2 6 0-53 0 49 0-53 2 1 0 60 0-6 0-48 2-8 0 71 0-9 0-54 2-4 0 42 0-36 0 39 2 5 0-42 0 28 0-33 2 45 0-43 0 37 0-37 2-6 0 72 0-17 0-57 2 53 0-53 0 1 0 61 2-54 0 53 0-11 0-44 2 2 0 47 0-46 0 52 2-59 0 46 0-37 0 47 2-52 0 53 0-7 0-43 2-7 0 56 0-53 0 40 2 13 0-50 0-12 0 46 2-43 0 59 0 11 0-56 2 46 0-53 0 53 0-57 2 48 0-50 0 17 0 40 2-50 0 57 0-58 0 42 2-38 0 72 0-28 0-42 2 64 0-64 0 41 2 6 0-52 0 56 2-65 0 61 0-9 0-40 2-3 0 54 0-44 0 43 2 8 0-61 0 2 0 49" fill="none" stroke="#EDB120" stroke-width="2.8" stroke-linejoin="round" clip-path="url(#clipA)"/>
<path d="M120 191l24 1 22-2 21 7 18-2 18-2 16 8 16 14 14 8 14-9 13-6 12 10 12 8 11 9 11 21 11 0 10-22 9-2 9 14 9 1 9-9 8 2 8 7 8-1 8-3 7 1 7 16 7 20 7-3 7-9 6-8 6-5 6 8 6 12 6-2 6 10 5 15 6 4 5-10 6-14 5 0 5-1 5-8 4-3 5 1 5 1 4 0 5 3 4 13 5 4 4-9 4-1 4 5 4 7 4-5 4-8 4 1 4 15 4 12 3 0 4 1 4-4 3 6 4 11 3-11 4 1 3 9 3-19 4-2 3-10 3 5 3 4 3 2 3 16 3-3 3-5 3-6 3-7 3 7 3 8 3-4 3-5 2-2 3 14 3 10 3-8 2 3 3-1 3 0 2 11 3-5 2-18 3-2 2 2 3-1 2 5 2 4 3 12 2-1 3-2 2-8 2-1 2 17 3-18 2-13 2 1 2 18 3-7 2 10 2 8 2-10 2-1 2-8 2 4 2-2 2 7 2 11 2-2 2-10 2 4 2 9 2-2 2-11 2-12 2 11 2-2 2 9 2 14 1-13 2 11 2-27 2 10 2 14 1-2 2-3 2 1 2 8 1-13 2 3 2 0 2-12 1 13 2-5 2-13 1-2 2 0 2 14 1-3 2-6 1-3 2 1 2 12 1-2 2-5 1 1 2 3 1 8 2 4 1-22 2 0 1 17 2-3 1-1 2-6 1 1 2-3 1 15 2 8 1 7 2-5 1 3 1 4 2-19 1 22 1-15 2-11 1 5 2 15 1-9 1-17 2 15 1 5 1 13 2-38 1 4 1 30 2 4 1-38 1 3 1-5 2 11 1 1 1 17 1-11 2-14 1 3 1 16 1 19 2 3 1-20 1-7 1 11 1 9 2-28 1-7 1 20 1 7 1 6 2-20 1-13 1 9 1 36 1-41 1-4 1 31 2-7 1 13 1-5 1-18 1 25 1-49 1 30 1 0 1 20 2-10 1 5 1-4 1-1 1-20 1 54 1-29 1-32 1 7 1 8 1-5 1 15 1-6 1 6 1 0 1-22 1 28 1 12 1-41 1 32 1-6 1-6 1-5 1-8 1 29 1-31 1 14 1 3 1 3 1 19 1-35 1 14 1-4 1-21 1 34 1 3 1-7 1 8 1-12 1 6 1-5 1 1 0-9 1-11 1 19 1 17 1 0 1-2 1-22 1-12 1 21 1 7 0-27 1 23 1-10 1 13 1-16 1 4 1 1 1-5 0 17 1-25 1 35 1-26 1 8 1-8 1 4 0 19 1-16 1 32 1-11 1-27 1 20 0 3 1 11 1-31 1-5 1 2 1 10 0-6 1 6 1-12 1 21 1-5 0 20 1-16 1-19 1 18 1-19 0 4 1 12 1 22 1-25 1 18 0-15 1 10 1 4 1-13 0 22 1-33 1 3 1 1 0 12 1-14 1-4 1-13 0 44 1-1 1-1 1-23 0 17 1-12 1 1 1 14 0-6 1-26 1 27 0-4 1-11 1 10 1-3 0 2 1-1 1-20 1 20 0 2 1-22 1 5 0 6 1 6 1 11 0-25 1 40 1-31 0 17 1-30 1 26 1 6 0 7 1-15 1 13 0-15 1-12 1 2 0 7 1 32 1-10 0-18 1-21 1 22 0-3 1 25 1-28 0-2 1 6 1 21 0-18 1 8 1-23 0 13 1 2 0-5 1-3 1-7 0-1 1 15 1 3 0 21 1-29 1-16 0 28 1-4 0 2 1 14 1-23 0 1 1 21 1-17 0 5 1-1 0-7 1-12 1 34 0-13 1-15 0 7 1-8 1 14 0 11 1-23 0-20 1 48 1-47 0 7 1 25 0 12 1-9 1-11 0-11 1 14 1-20 1 15 0 9 1 6 0-22 1-6 0 18 1-16 1 21 0-11 1-19 0 33 1 2 0-31 1 43 1-28 0-21 1 17 0 39 1-21 1-4 0-1 1 2 1 5 0-2 1-18 0 1 1 3 0 12 1-19 0 9 1-16 1 35 0-12 1-20 0 29 1-4 0-6 1-6 0 2 1-11 0 13 1 17 0-32 1-6 0 6 1 45 1-43 0-2 1 11 0 19 1-2 0-13 1 37 0-24 1-7 0-16 1 32 0-38 1 10 0 8 1-1 0-24 1 57 0-33 1 4 0-5 1 9 0-26 1 25 0 10 1-13 0-27 1 31 0-30 1 31 0-8 1 4 0-6 1 18 0-9 1-15 0-25 1 28 0 37 1-42 0 7 1-13 0 18 1-2 0 42 1-9 0-31 1 1 0 12 1-27 0 31 1-21 0-16 0 54 1-40 1-6 0 18 1-9 0-1 1-6 0 13 1 12 0-16 1-15 0 34 1 8 1-28 0 15 0-33 1 18 0 15 1-33 0 5 1 13 0 7 1-8 0-1 1-7 1 24 0-28 0 7 1 7 0 19 1-27 1 13 1-18 0 23 0-5 1 17 0-36 1 17 0 8 1-14 1 30 0-18 0-13 1-3 0 9 1-7 0 47 0-52 1-1 1 18 0-2 1-6 1-4 0 24 0 9 1-25 0-10 1 23 0 22 0-47 1 23 1-7 0-3 0-16 1-2 1 25 0-5 1-9 1-6 0 12 0 13 1-28 1 28 0-12 0 17 1-17 1 14 0-19 0 3 1-16 0 7 1 17 0-10 0-7 1-11 1 24 0-9 0 18 1-2 1-18 0 38 0-21 2 11 0-35 0 48 1-24 1-26 0 51 0-30 1-10 1-1 0 45 0-31 1-30 1 25 0 14 0-18 0 18 1-8 1 23 0-44 0 29 1-10 1-10 0 9 0 29 2-25 0 10 0-20 1 8 1 9 0 6 0 11 0-31 1 15 1 12 0-17 0-15 2 10 0 18 0-25 1 15 1-7 0 13 0-13 2-26 0 33 0 10 0-26 1 4 1-5 0-18 0 25 2 13 0-2 0-1 0-15 2 24 0-36 0 13 0-6 1 14 1-20 0 12 0 21 2-7 0-25 0 10 0 31 2-19 0-22 0-1 0 35 2-1 0-16 0-14 0 10 2 2 0-28 0 29 0 13 2-8 0-38 0 26 0 38 2-25 0 25 0-46 0 24 2 1 0 18 0-13 0-27 2 33 0-28 0 16 0-26 2 65 0-21 0-39 0 21 2 14 0 14 0-17 0-33 2 14 0 16 0-1 0 13 2-23 0 70 0-77 0 22 2-29 0 19 0 1 0-10 2 15 0-3 0 9 0-38 2 12 0 19 0-11 0 18 2-30 0 6 0 23 0-27 2 16 0-31 0 51 0-40 2 34 0-28 0-6 0 12 2 2 0-22 0 41 0-24 2 42 0-39 0-11 0 54 2-39 0 8 0 22 0-38 2 26 0-29 0 3 0 22 2-10 0-16 0 18 0-4 2 4 0-2 0 3 0-25 2 13 0-17 0 21 0 10 2-12 0 22 0-31 0 14 2 0 0 18 0-18 0-15 2 10 0 23 0-26 0 8 2-19 0 27 0 28 0-44 2 37 0-40 0-2 0 18 2 1 0-19 0 19 0-10 2 37 0-34 0-8 0 44 2-50 0 23 0-22 0 33 2-18 0 41 0-45 0 19 2-6 0-12 0 17 0-26 2 40 0-40 0 9 0 17 2 2 0 11 0-48 0 40 2-45 0 92 0-72 0 13 2-4 0-7 0 19 0-30 2-3 0 66 0-39 0-35 2 70 0-36 0 59 0-73 2-1 0 24 0-21 0 33 2-9 0-18 0-12 0 26 2-4 0-22 0-3 0 27 2 1 0-20 0 18 0 13 2-21 0-18 0-1 0 43 2-27 0-6 0-9 0 40 2-32 0 29 0-39 0 40 2-18 0-22 0 5 0 23 2 16 0-40 0 37 0-5 2 19 0-50 0 43 0-29 2-10 0 20 0-7 0-9 2 47 0-39 0 24 0-31 2-9 0 69 0-59 0 13 2 6 0-39 0 45 0-26 2 16 0-18 0-9 0 31 2-27 0 27 0-7 0 26 2-40 0 44 0-33 0 19 2-10 0-35 0 26 0-9 2 24 0-32 0-1 0 22 2 3 0 16 0-40 0 16 2 19 0-39 0 40 0-27 2 1 0-16 0 37 0-32 2 24 0 23 0-31 0 9 2-23 0 32 0 4 0-19 2 0 0 46 0-69 0 43 2-30 0 22 0 15 0-42 2 11 0 19 0-39 0 43 2-43 0 51 0-25 0-25 2 38 0-30 0 24 0-27 2 50 0-55 0 15 0 18 2 6 0-31 0 4 0 29 2-26 0 12 0 11 0-19 2 16 0-17 0-17 0 34 2-14 0 48 0-20 0-33 2-5 0 25 0-33 0 33 2-25 0 26 0 1 0-24 2 1 0 4 0 16 0-22 2-13 0 45 0-26 0 24 2 3 0-30 0-4 0 30 2 9 0-47 0 59 0-48 2 16 0-13 0 6 0 28 2-44 0 29 0-7 0-22 2 20 0-10 0 29 0-34 2 25 0-23 0 17 0-25 2 29 0-24 0-1 0 23 2 8 0-31 0 37 0-40 2 30 0-21 0 23 0-17 2 13 0-39 0 39 0-23 2-9 0 34 0-6 0-16 2 4 0 21 0-31 0 29 2-31 0 35 0 8 0-27 2 46 0-53 0 2 0 20 2-22 0 44 0-60 0 39 2-14 0 22 0-31 0 16 2 14 0-23 0 19 0-37 2 48 0-35 0-2 0 41 2-55 0 38 0 12 0-41 2 9 0 25 0-15 0-16 2-1 0 27 0 11 0-50 2 43 0-25 0 33 0-31 2 43 0-42 0 17 0-25 2-6 0 35 0-33 0 43 2-44 0 17 0 19 0-38 2 24 0-20 0 7 0 33 2-33 0 26 0-30 0 35 2-45 0 57 0-23 0-24 2 24 0-27 0-1 0 23 2-30 0 45 0-30 0 35 2 3 0-35 0 1 0 34 2 2 0-38 0 19 0-36 2 37 0-28 0 42 0-40 2 48 0-50 0 22 0-28 2 34 0-39 0 12 0 37 2-39 0 26 0-21 0 37 2-49 0 38 0-9 0-20 2 24 0-14 0 20 0-34 2 52 0-41 0-19 0 33 2 11 0-33 0 38 0-38 2 14 0 41 0 3 0-55 2 2 0 47 0-48 0 20 2 23 0-60 0 39 0-36 2 13 0 21 0 15 0-35 2 1 0 38 0-14 0-31 2 45 0-41 0 22 0-10 2 7 0-27 0 21 0 11 2 2 0-19 0-6 0 41 2-19 0-20 0-9 0 52 2-14 0-34 0 13 0 14 2-23 0 27 0-25 0 44 2 25 0-62 0-10 0 44 2-51 0 25 0 10 0-29 2 35 0-38 0 36 0-28 2 38 0-50 0 12 0 37 2-7 0-32 0 27 0-24 2 29 0-45 0 23 0 36 2-19 0-35 0 12 0 44 2-27 0-27 0 12 0 31 2-34 0 31 0-13 0-9 2-21 0 35 0-23 0 38 2-38 0 58 0-33 0-28 2 39 0-35 0 40 0-56 2 12 0 44 0-37 0 26 2 5 0-35 0-7 0 47 2-40 0 36 0-40 0 38 2-18 0-19 0 44 0-45 2-1 0 44 0-40 0 45 2-65 0 53 0-44 0 28 2-24 0 39 0-28 0 37 2 11 0-60 0 29 0-23 2 39 0-31 0-3 0 31 2-12 0-25 0-10 0 44 2-30 0 31 0 13 0-47 2 4 0 26 0 13 0-33 2-2 0 22 0-29 0 41 2-45 0 44 0-40 0 31 2 17 0-45 0 51 0-50 2 27 0-36 0 57 0-35 2-14 0 50 0-17 0-34 2 4 0 38 0-43 0 43 2-41 0 37 0 6 0-52 2 35 0-24 0 13 2-15 0 48 0-45 0 30 2-37 0 63 0-54 0 39 2-43 0 32 0 3 0-37 2 32 0-30 0 39 2-48 0 62 0-16 0-33 2 24 0-33 0-4 0 37 2-1 0-37 0 8 0 45 2-43 0 37 0-42 0 39 2-36 0 37 0-28 0 25 2 5 0-35 0-9 0 52 2-2 0-48 0 4 0 31 2 3 0-44 0 44 0-30 2-13 0 47 0-12 0-37 2 54 0-39 0 38 0-51 2 61 0-58 0 8 0 36 2-39 0 41 0 18 0-56 2-5 0 42 0-36 0 33 2 17 0-55 0 27 0-24 2 3 0 36 0 8 0-50 2-5 0 39 0 7 0-35 2 40 0-42 0 32 0-33 2 35 0-32 0-10 0 58 2-11 0-48 0 49 0-41 2-6 0 32 0-28 0 37 2-28 0 40 0-40 0 40 2-15 0-31 0 34 0-32 2 5 0 34 0 2 0-39 2 1 0 31 0-38 0 45 2-23 0-24 0 49 0-49 2 53 0-53 0 1 0 39 2-31 0 45 0-46 0 44 2 10 0-68 0 46 0-43 2 6 0 26 0-18 0 28 2-35 0 57 0-52 0 60 2-18 0-41 0 39 0-41 2 33 0-24 0-17 0 47 2-42 0 42 0 5 0-43 2 41 0-39 0-3 0 36 2 11 0-58 0 7 0 41 2-38 0 42 0-50 0 47 2 14 0-49 0 34 0-39 2 0 0 40 0-31 0 26 2 4 0-40 0 34 0-32 2-2 0 38 0 4 0-49 2 1 0 61 0 2 0-42 2 28 0-38 0-5 0 44 2 10 0-58 0 5 0 43 2 12 0-45 0 38 0-47 2 43 0-42 0-1 0 37 2 1 0-31 0 33 0-41 2 33 0-41 0 9 0 44 2-35 0 40 0-53 0 46 2-46 0 60 0-17 0-39 2-3 0 33 0-31 0 46 2-44 0 38 0-42 0 52 2 1 0-58 0-3 0 52 2-32 0 24 0 4 0-41 2 37 0-40 0 2 0 64 2-3 0-52 0-3 0 52 2 9 0-62 0 39 0-36 2 51 0-41 0-13 0 48 2-46 0 45 0-49 0 55 2-46 0 31 0-37 0 50 2-47 0 44 0-42 0 29 2 18 0-48 0-1 0 34 2-40 0 43 0-1 0-38 2 2 0 52 0 7 0-53 2-7 0 41 0-40 0 51 2-13 0-47 0 56 0-55 2 49 0-49 0 66 0-56 2-1 0 40 0-43 0 63 2-31 0-27 0-6 0 43 2 6 0-45 0 3 0 53 2-27 0-24 0 32 0-39 2 46 0-48 0 35 0-36 2 48 0-43 0 2 0 39 2 8 0-43 0 24 0-31 2-5 0 52 0-42 0 57 2-61 0 45 0-41 0 34 2-35 0 46 0-56 0 41 2 19 0-49 0-1 0 37 2-4 0-42 0 2 0 47 2 17 0-54 0-15 0 45 2 1 0-30 0 26 0-28 2 40 0-46 0 53 0-56 2 51 0-47 0-1 0 40 2-46 0 57 0-55 0 41 2-30 0 31 0 17 0-50 2 49 0-47 0-2 0 43 2-3 0-41 0-9 0 64 2 0 0-55 0-7 0 66 2-60 0 53 0-57 0 51 2-49 0 47 0-3 0-40 2 45 0-51 0 6 0 49 2-17 0-32 0 40 0-38 2-11 0 51 0-46 0 54 2-14 0-31 0-10 0 46 2-46 0 69 0-55 0 36 2 3 0-50 0-1 0 41 2-40 0 46 0-39 0 44 2-10 0-44 0-2 0 56 2-51 0 58 0-54 0 47 2-1 0-48 0-6 0 55 2-3 0-53 0 16 0 30 2 5 0-44 0-11 0 57 2-2 0-48 0 7 0 42 2 10 0-53 0-3 0 42 2 9 0-50 0 48 0-49 2 50 0-40 0 34 0-47 2 43 0-41 0 7 0 41 2-46 0 60 0-15 0-46 2 43 0-47 0 50 0-47 2 10 0 32 0-41 0 46 2-3 0-38 0-3 0 35 2 37 0-69 0-5 0 51 2-8 0-37 0 57 0-61 2 46 0-43 0-5 0 48 2-50 0 44 0-32 0 44 2-50 0 38 0-36 0 55 2-58 0 40 0-9 0-31 2 38 0-41 0 37 0-34 2 2 0 58 0-60 0 50 2-47 0 42 0-8 0-34 2 4 0 46 0 6 0-55 2 31 0-29 0-8 0 44 2-45 0 52 0-45 0 53 2-19 0-40 0 9 0 39 2-60 0 53 0 23 0-57 2-6 0 63 0-17 0-47 2 46 0-41 0 48 0-52 2 47 0-42 0-13 0 74 2-59 0 45 0-48 0 48 2-4 0-47 0 6 0 41 2-45 0 48 0-52 0 52 2-1 0-44 0-5 0 61 2-24 0-28 0 3 0 35 2-34 0 35 0 6 0-59 2 68 0-59 0 49 0-47 2 55 0-60 0-3 0 45 2 20 0-62 0 5 0 43 2-4 0-43 0 56 0-59 2 9 0 40 0-50 0 50 2-42 0 58 0-61 0 45 2-44 0 44 0 21 0-68 2 1 0 57 0-1 0-55 2-4 0 61 0-2 0-55 2 59 0-52 0-4 0 47 2-49 0 52 0 10 0-72 2 62 0-54 0-3 0 61 2-54 0 38 0 10 0-49 2-11 0 49 0-41 0 40 2 14 0-48 0-9 0 51 2-3 0-41 0-2 0 42 2 2 0-44 0 46 0-44 2-2 0 47 0-46 0 50 2-44 0 75 0-11 0-72 2 56 0-53 0-7 0 55 2-43 0 55 0-1 0-63 2 36 0-29 0 45 0-58 2 12 0 43 0-4 0-46 2 5 0 46 0 3 0-44 2 39 0-40 0-4 0 42 2-43 0 61 0-9 0-52 2-1 0 60 0-1 0-54 2 55 0-49 0 40 0-56 2 12 0 51 0-64 0 62 2 0 0-55 0 55 0-46 2 37 0-43 0 49 0-50 2 56 0-57 0 2 0 40 2-41 0 48 0-45 0 53" fill="none" stroke="#7E2F8E" stroke-width="2.8" stroke-linejoin="round" clip-path="url(#clipA)"/>
<path d="M120 177l24 1 22 5 21 11 18 10 18 8 16 11 16 0 14-5 14 4 13 1 12 4 12 8 11-3 11-1 11 0 10-1 9 22 9 19 9-3 9-19 8-12 8 8 8 21 8 10 7 4 7 1 7-2 7-9 7-8 6 5 6 3 6-13 6-2 6 10 6 21 5 7 6-4 5-9 6 4 5 4 5-9 5-4 4 7 5 5 5-1 4 1 5 5 4 3 5-3 4-6 4 0 4 4 4 3 4 4 4-1 4-8 4 6 4 9 3 1 4 0 4-4 3 15 4 17 3-8 4-13 3-8 3-14 4 1 3-7 3 3 3 12 3 5 3 1 3-12 3-1 3 10 3 5 3-9 3-7 3 8 3 14 2-14 3-7 3 21 3 19 2-11 3-4 3 6 2 0 3 1 2-2 3-10 2-4 3 9 2 6 2-4 3-6 2 10 3 9 2-12 2-13 2 14 3 4 2 3 2 1 2-20 3-10 2 6 2 29 2 4 2-19 2 13 2 20 2-14 2-33 2 2 2 15 2-13 2 12 2 15 2 7 2-21 2 0 2-9 2 5 2 7 2-3 1-9 2-6 2 20 2 17 2-17 1 6 2 3 2-20 2 2 1 7 2 2 2 9 2-20 1 10 2 2 2-13 1 3 2-11 2 17 1-4 2 3 1 9 2 0 2-20 1 6 2 16 1-6 2-9 1-11 2 9 1 11 2 11 1-23 2-6 1 13 2-9 1 8 2-3 1 6 2 23 1 6 2-33 1 21 1 12 2 6 1-36 1 3 2 7 1-12 2 11 1-20 1 24 2-4 1 0 1-12 2 1 1 2 1 6 2 7 1 7 1-5 1 4 2 10 1-25 1 4 1-5 2 23 1-4 1 5 1-8 2-16 1 6 1-11 1 15 1 0 2-5 1 2 1-6 1 20 1-14 2-10 1 11 1 21 1-43 1 33 1-12 1 34 2-47 1 7 1 13 1 17 1-9 1-20 1 4 1 1 1 12 2-23 1 28 1-12 1 23 1-31 1 4 1-3 1 0 1 39 1-32 1-7 1 10 1-5 1-8 1 12 1 1 1-20 1 9 1 0 1 9 1 17 1 14 1-5 1-41 1 22 1-8 1 20 1-24 1 37 1-10 1-31 1 10 1 12 1 5 1-9 1-30 1 36 1 16 1-35 1 0 1 3 1 5 0-25 1 3 1-5 1 12 1-3 1 29 1-11 1 8 1 1 1-18 0 31 1-3 1-27 1 19 1-24 1 30 1-14 1-4 0 15 1-18 1 20 1-37 1 12 1 8 1 5 0-12 1-6 1 12 1-6 1 34 1-8 0-6 1 9 1-9 1-3 1-16 1 2 0 27 1-27 1 27 1-14 1 14 0-23 1 10 1 7 1-32 1 15 0 11 1-5 1 32 1-38 1 9 0-5 1 29 1-4 1-46 0 36 1-32 1-6 1 22 0 11 1-5 1-26 1 4 0 63 1-44 1 17 1-25 0 25 1-23 1-20 1 25 0 1 1-4 1 18 0-3 1-7 1 2 1-9 0 10 1-15 1 38 1-23 0-3 1-2 1 2 0-15 1 8 1 6 0 12 1-2 1-13 0-5 1-2 1 3 1 20 0-42 1 23 1 11 0-1 1 5 1-8 0-18 1 42 1-31 0 20 1-10 1-10 0 14 1 12 1 2 0 9 1-13 1-15 0-27 1 20 1 4 0 6 1 5 0-29 1 16 1-12 0 50 1-35 1 14 0-5 1-34 1 40 0-32 1 18 0 6 1-18 1 7 0 34 1-19 1-3 0-23 1 15 0 8 1 0 1-19 0 27 1-36 0 16 1 1 1 6 0-9 1 0 1 13 1 2 0-7 1 1 0-16 1-6 1 23 0-4 1 7 0-11 1-16 1 17 0 24 1-4 0-23 1 2 0-7 1 12 1-5 0 12 1-6 0-9 1 10 0 31 1-26 1-9 0 9 1 4 0-10 1-14 0 12 1 3 0 9 1-15 1 2 0 9 1 19 0-20 1 8 0-33 1 3 0 24 1-3 1 8 0 2 1 19 0-41 1 8 1 9 0-1 1 5 0-20 1 17 0-5 1-8 0 16 1-11 1-18 0 34 1 1 0-10 1 10 0-9 1 10 0-10 1-7 0-10 1 16 0 14 1-12 0-15 1-11 0 23 1-5 0 1 1 4 0-4 1-9 0-1 1 6 0 18 1-25 0 30 1-22 0 6 1-2 0 3 1 3 0-11 1 14 0-1 1-14 0-2 1-5 0 17 1 18 0-12 1-20 0 46 1-20 0-9 1 0 0 6 1-1 1-9 0 13 1-27 0 15 0-13 1 8 1-15 0 19 1 2 0 2 1 1 0-6 1 7 0 15 1-24 0 1 1 17 1-4 0-7 1-8 0 6 1 15 0 5 1-23 0-12 1 9 0-7 1-9 1 55 0-29 0-7 1 30 0-6 1-45 0 8 1 0 1 32 0-32 0 10 1-5 0 12 1 11 0-31 1 32 1 10 0-36 0 10 1-4 0 39 1-19 0-32 0 33 1-15 1-13 0 19 1 11 1 9 0-44 0 21 1 12 0-41 1 28 0 23 0-49 1 22 1-4 0 18 0-9 1 6 1-4 0-15 1 28 1-17 0 22 0-17 1 22 1-14 0-4 0-7 1 2 1-9 0 16 0 11 1-34 0 24 1 4 0-24 0 13 1-11 1 26 0-40 0 32 1 3 1-25 0 15 0 6 2-29 0 26 0-4 1-8 1 12 0 11 0-17 1 14 1-25 0 18 0-10 1-1 1 10 0-20 0 9 0 8 1 18 1-28 0-4 0 31 1-19 1 18 0 1 0-25 2 33 0-35 0-13 1 18 1 8 0-20 0 15 0 18 1-17 1-7 0 15 0-17 2 19 0-22 0 30 0-24 1 1 1 20 0-25 0 11 2 19 0-29 0-5 0 31 1-20 1-2 0 40 0-43 2 18 0-18 0 7 0 35 2-13 0-41 0 17 0 12 1 0 1-6 0-12 0 16 2-26 0 36 0-27 0 14 2 9 0 28 0-53 0 5 2-4 0 24 0-43 0 42 2 13 0-31 0 4 0 4 2 18 0-21 0 9 0-3 2-19 0 34 0-26 0 19 2-20 0 25 0-32 0 29 2 5 0-6 0 14 0-22 2 18 0-17 0-21 0 58 2-28 0-19 0-6 0 31 2 9 0-28 0-12 0 21 2-15 0 22 0-4 0-33 2 29 0-15 0 16 0 14 2 7 0-43 0 18 0-14 2 0 0 36 0-10 0-20 2 7 0-9 0 22 0-18 2 7 0 20 0-51 0 37 2 0 0-22 0 9 0 44 2-52 0 38 0-27 0 25 2 7 0-12 0 12 0-53 2 26 0-14 0 13 0 12 2 13 0-34 0 1 0 10 2-1 0-15 0 11 0-13 2 27 0-22 0 1 0 27 2-38 0 37 0-26 0 55 2-44 0 10 0-23 0 27 2-21 0 25 0-3 0-16 2 9 0-24 0 38 0-39 2 5 0 8 0-1 0-4 2-8 0 28 0-29 0 26 2-18 0 48 0-50 0 5 2 0 0 25 0-27 0 18 2 7 0-33 0 29 0-22 2 36 0-16 0 28 0-55 2 14 0 24 0-32 0 57 2-33 0-18 0 22 0-22 2 17 0 22 0-25 0-22 2 26 0 20 0-36 0 23 2-27 0 26 0-36 0 33 2 5 0-29 0 55 0-65 2 37 0-29 0-2 0 16 2-15 0 24 0-28 0 39 2-20 0 19 0-23 0 21 2-29 0 34 0-29 0 24 2-27 0 19 0 15 0-26 2-6 0 14 0 36 0-40 2 1 0-10 0 35 0-28 2 10 0-17 0 32 0-32 2-6 0 34 0-26 0 13 2 1 0-33 0 44 0-27 2-9 0 36 0-22 0 14 2 8 0-31 0 30 0-24 2 3 0 30 0-44 0 22 2 14 0-31 0 9 0 18 2 16 0-21 0-10 0 69 2-83 0 32 0-8 0-31 2-6 0 37 0-20 0 6 2-2 0 27 0-25 0 15 2 3 0-37 0 50 0-38 2 19 0-22 0 40 0-43 2 0 0 42 0-2 0-36 2 40 0-29 0 16 0-22 2-9 0 41 0-23 0 29 2-41 0 17 0-4 0 22 2 0 0-32 0 3 0 33 2-10 0-38 0 16 0 24 2-17 0-19 0 40 0-38 2 0 0 25 0 1 0-17 2 41 0-43 0-6 0 26 2 10 0-43 0 24 0 12 2-32 0 33 0-14 0 24 2-6 0-27 0 16 0-24 2 57 0-48 0-9 0 41 2-31 0 22 0-25 0 29 2-31 0 36 0-44 0 51 2-53 0 61 0-58 0 45 2-5 0-23 0-8 0 37 2-43 0 29 0-14 0 30 2-44 0 32 0 7 0-44 2 47 0-36 0 30 0-31 2-8 0 27 0-3 0 17 2-47 0 56 0-19 0-30 2 6 0 41 0-6 0-35 2 38 0-24 0-16 0 36 2 4 0-36 0-5 0 36 2-32 0 35 0-13 0-19 2 42 0-30 0 44 0-57 2 26 0-15 0-15 0 47 2-14 0-25 0-4 0 33 2-50 0 45 0 33 0-59 2-6 0 31 0-3 0-36 2 46 0-52 0-1 0 57 2-38 0 39 0-39 0 45 2-37 0 26 0-33 0 35 2-23 0-24 0 43 0-31 2-6 0 56 0-42 0 18 2-28 0 34 0-35 0 27 2-27 0 38 0-53 0 32 2 3 0-32 0 65 0-49 2-1 0 34 0-32 0 38 2-15 0-26 0 29 0-31 2 1 0 32 0-32 0 28 2-25 0 19 0 38 0-49 2 20 0-20 0-17 0 40 2-41 0 44 0-50 0 49 2-26 0 15 0-34 0 31 2 14 0-39 0 7 0 21 2-20 0 27 0-31 0 45 2-35 0 26 0 8 0-44 2 4 0 27 0 8 0-41 2 31 0-18 0-9 0 33 2-33 0 31 0-21 0 25 2-35 0 18 0-17 0 27 2 6 0-34 0 35 0-43 2 34 0-22 0 25 0-26 2-2 0 34 0 13 0-45 2 1 0 38 0 9 0-39 2 22 0-31 0 41 0-44 2-6 0 33 0-39 0 41 2-30 0 31 0-10 0-7 2 33 0-36 0 16 0-20 2-9 0 66 0-15 0-54 2 38 0-34 0 12 0 50 2-58 0 32 0-33 0 29 2 4 0-33 0 29 0-27 2-5 0 39 0-31 0 42 2-59 0 44 0 8 0-37 2 28 0-33 0 40 0-36 2 21 0-26 0 34 0-30 2 19 0-23 0 1 0 26 2 3 0-29 0 2 0 32 2-30 0 33 0-41 0 32 2 8 0-30 0 1 0 17 2 3 0-22 0 35 0-35 2 21 0-23 0-2 0 39 2 6 0-32 0 38 0-39 2-14 0 36 0-40 0 54 2-9 0-32 0 31 0-40 2 11 0 20 0-31 0 41 2-37 0 25 0 14 0-42 2 6 0 42 0-2 0-40 2 28 0-31 0 45 0-43 2 25 0-27 0 2 0 32 2-36 0 41 0 1 0-46 2 5 0 41 0-36 0 21 2 21 0-26 0 23 0-43 2 6 0 53 0-17 0-49 2 51 0-42 0 29 0-25 2-8 0 29 0 9 0-29 2-27 0 83 0-39 0-30 2 8 0 36 0 5 0-40 2 35 0-29 0 28 0-45 2 3 0 46 0-40 0 38 2 3 0-38 0 48 2-26 0-34 0 52 0-42 2 28 0-23 0-7 0 47 2-47 0 38 0 6 0-43 2 30 0-38 0 49 0-39 2 8 0 42 0-20 0-34 2 3 0 38 0-23 0 38 2-57 0 29 0 17 0-39 2 36 0-44 0 1 0 51 2-46 0 40 0-36 0 32 2 5 0-31 0-2 0 19 2 9 0-30 0-8 0 43 2-8 0-30 0-2 0 44 2-50 0 46 0-33 0 27 2-41 0 40 0-22 0 40 2-11 0-44 0 3 0 45 2-41 0 34 0-38 2 51 0-49 0-2 0 28 2-20 0 56 0-56 0 28 2-32 0 32 0-36 0 44 2-39 0 41 0-40 0 47 2-1 0-48 0 1 0 41 2-40 0 39 0-51 0 33 2 7 0-30 0 3 0 29 2 6 0-47 0 45 2 4 0-35 0-9 0 46 2 7 0-53 0 31 0-30 2-4 0 50 0-32 0 38 2-57 0 55 0 10 0-55 2 30 0-31 0 29 0-42 2 17 0 58 0-31 0-37 2 55 0-37 0-11 0 38 2-39 0 40 0-55 0 46 2-3 0-25 0-14 0 44 2 5 0-38 0 32 0-29 2 26 0-34 0 39 0-35 2 4 0 46 0-44 0 31 2 0 0-38 0-4 0 48 2-55 0 47 0-30 0 50 2-57 0 32 0 39 0-65 2 27 0-32 0 34 0-31 2 27 0-24 0-2 0 27 2-24 0 52 0-27 0-25 2 25 0-29 0 1 0 49 2-3 0-52 0 38 2-28 0 50 0-54 0 34 2-35 0 38 0 5 0-53 2 17 0 32 0-44 0 44 2-7 0-38 0 5 0 53 2-39 0 38 0-1 0-49 2 41 0-43 0 44 0-45 2 46 0-47 0-1 0 44 2 0 0-43 0 35 0-29 2 37 0-36 0 43 0-38 2 43 0-51 0 10 0 42 2-11 0-39 0 6 0 41 2-46 0 24 0-26 0 36 2-44 0 51 0-5 0-39 2-4 0 48 0-14 0-34 2 11 0 26 0-38 0 41 2-33 0 46 0-50 0 39 2-36 0 36 0-30 0 45 2-55 0 40 0 4 0-33 2 35 0-44 0-2 0 43 2-36 0 32 0-6 0-25 2-7 0 40 0-45 0 42 2-32 0 35 0-29 0 42 2-52 0 40 0-39 0 32 2 6 0-28 0-11 0 44 2-40 0 41 0-46 0 48 2-47 0 55 0-14 0-52 2 55 0-41 0 50 0-50 2 3 0 31 0-35 0 63 2-62 0 41 0 2 0-45 2 37 0-29 0 32 0-41 2 47 0-49 0 10 0 49 2-6 0-47 0 44 0-44 2 4 0 39 0 5 0-57 2 61 0-47 0 23 0-25 2 0 0 42 0-44 0 28 2 11 0-36 0 39 0-43 2 0 0 37 0-34 2-5 0 52 0-16 0-39 2-3 0 67 0-22 0-44 2 10 0 45 0-3 0-47 2 46 0-42 0 61 0-68 2 57 0-49 0-2 0 37 2 14 0-47 0 45 0-50 2-5 0 51 0-2 0-39 2-3 0 40 0-38 0 32 2 6 0-38 0 36 0-37 2 0 0 38 0-40 0 53 2-11 0-41 0-2 0 28 2 11 0-34 0 55 0-68 2 12 0 58 0-68 0 46 2 3 0-39 0 51 0-57 2 48 0-40 0-11 0 51 2 1 0-50 0 54 0-46 2 0 0 46 0-50 0 43 2-42 0 44 0-2 0-45 2 43 0-39 0-1 0 43 2-4 0-39 0 11 0 46 2-48 0 47 0-7 0-53 2 49 0-42 0 46 0-47 2 51 0-51 0 40 0-48 2 11 0 27 0 21 0-47 2 34 0-37 0 38 0-38 2-18 0 58 0-42 0 53 2 5 0-49 0 49 0-63 2 4 0 45 0-3 0-44 2-1 0 60 0-52 0 54 2-57 0 44 0-1 0-44 2 39 0-40 0 43 0-35 2 38 0-37 0 43 0-52 2 6 0 54 0-9 0-52 2 6 0 52 0-59 0 47 2 21 0-65 0 42 0-52 2 52 0-44 0 4 0 35 2-36 0 54 0-61 0 64 2 4 0-57 0-10 0 55 2-45 0 47 0-43 0 37 2 13 0-56 0-5 0 46 2-40 0 52 0-18 0-47 2 64 0-50 0 34 0-40 2 54 0-45 0 51 0-57 2 48 0-47 0 48 0-56 2 47 0-50 0 15 0 45 2 10 0-60 0 38 0-36 2 0 0 57 0-59 0 58 2-4 0-50 0-3 0 44 2-46 0 47 0-58 0 50 2-31 0 39 0-6 0-39 2 41 0-39 0 60 0-62 2 41 0-39 0 50 0-45 2-1 0 34 0-38 0 39 2 12 0-59 0 53 0-40 2-7 0 48 0-52 0 57 2-3 0-53 0 6 0 33 2 11 0-41 0 53 0-61 2 9 0 41 0-49 0 49 2-50 0 55 0-2 0-47 2-3 0 38 0-39 0 45 2 22 0-68 0 45 0-36 2 36 0-35 0 1 0 36 2-52 0 89 0-35 0-47 2 52 0-50 0 5 0 45 2-9 0-42 0-5 0 72 2-71 0 60 0-52 0 31 2-36 0 46 0-40 0 40 2 0 0-45 0 7 0 40 2 14 0-55 0 44 0-45 2 59 0-70 0 8 0 44 2-46 0 47 0 14 0-55 2 51 0-62 0 63 0-51 2-5 0 43 0-4 0-51 2 65 0-58 0 9 0 36 2 14 0-55 0 62 0-61 2 57 0-64 0 53 0-44 2 47 0-50 0 43 0-40 2 4 0 35 0-2 0-42 2 6 0 45 0 10 0-59 2 0 0 48 0 7 0-54 2 3 0 51 0-9 0-40 2 49 0-48 0-1 0 40 2-6 0-42 0-1 0 47 2-1 0-39 0-8 0 48 2 21 0-60 0 50 0-54 2 53 0-44 0 47 0-54 2 3 0 34 0 24 0-63 2 1 0 50 0-50 0 51 2-12 0-41 0-3 0 72 2-17 0-39 0 39 0-43 2-4 0 55 0-15 0-36 2 34 0-38 0-5 0 53 2 2 0-52 0 63 2-63 0 45 0-1 0-47 2 8 0 44 0-49 0 56 2-46 0 39 0-58 0 50 2 10 0-48 0 42 0-36" fill="none" stroke="#77AC30" stroke-width="2.8" stroke-linejoin="round" clip-path="url(#clipA)"/>
<path d="M120 179l24 8 22-2 21-4 18 2 18 15 16 20 16-2 14-5 14 2 13-4 12 3 12 13 11 13 11 7 11-3 10-5 9 0 9 3 9 9 9 12 8-1 8-8 8 13 8 5 7-13 7-4 7 5 7 0 7 0 6 16 6 11 6-11 6-12 6 5 6 14 5 8 6 3 5-3 6-4 5 2 5 6 5 5 4-7 5-2 5 4 4 2 5 8 4-6 5-9 4 9 4 9 4-8 4-7 4 2 4-6 4 0 4 14 4 5 3 1 4 9 4-6 3-13 4 2 3-3 4-5 3 1 3 4 4-4 3-17 3 10 3 26 3 3 3 1 3-1 3-7 3-3 3-1 3-4 3 1 3 12 3-1 2-8 3 14 3 10 3-2 2-14 3-17 3 2 2 11 3 0 2 0 3-2 2-1 3 0 2-3 2-6 3 5 2 12 3 3 2 4 2 5 2 2 3-18 2-7 2-1 2-1 3 3 2 11 2-3 2 0 2 9 2 9 2 7 2-22 2-3 2 5 2 16 2-1 2-9 2-2 2-7 2 3 2 7 2 21 2-29 2-11 2 8 1-2 2 20 2-5 2-1 2 6 1-10 2-15 2 5 2 6 1 22 2-15 2 0 2-5 1 6 2 0 2-9 1 16 2-2 2 4 1-21 2 6 1 0 2-3 2 10 1 3 2-11 1 9 2 4 1 2 2-10 1 4 2-3 1-9 2 10 1 30 2-42 1 6 2 20 1-10 2-2 1 8 2-8 1 15 1-8 2-18 1 3 1 18 2-12 1 3 2 1 1-11 1 13 2 16 1-26 1 1 2 28 1-19 1-8 2 15 1-18 1-6 1 7 2 1 1 19 1 2 1 8 2-20 1 0 1-13 1 14 2 18 1-11 1-21 1 32 1-26 2 17 1-9 1 12 1-13 1 3 2 17 1-39 1 4 1 37 1-10 1 3 1-16 2 4 1-4 1 11 1 7 1-24 1 33 1-8 1 14 1-40 2 11 1-11 1 16 1 24 1-4 1-19 1 2 1 17 1-14 1-5 1-24 1 14 1 22 1-13 1-15 1-6 1 24 1-19 1 14 1 25 1-4 1-24 1 16 1-19 1 4 1 22 1-18 1-17 1-5 1 17 1 14 1-14 1 26 1-9 1 18 1 0 1-34 1-1 1 20 1-3 1 16 1-35 0 9 1-4 1-1 1 0 1 39 1-9 1-36 1 14 1 3 1-16 0 12 1-1 1 13 1-19 1 3 1 14 1-18 1 29 0-36 1-1 1 30 1 2 1 5 1-19 1-28 0 21 1 8 1-8 1-6 1 39 1-14 0-26 1 22 1-2 1-12 1 13 1-12 0 9 1 4 1-12 1-3 1 23 0-5 1-8 1 0 1-12 1 9 0-13 1 15 1 13 1-13 1-24 0 28 1-3 1-5 1-3 0 7 1 10 1 17 1-8 0-24 1 43 1-38 1-5 0 29 1-29 1-3 1 44 0-34 1 24 1-31 1 24 0-53 1 49 1 2 0-27 1 8 1 2 1 23 0-23 1 10 1-18 1 14 0-2 1 2 1 18 0-28 1-3 1 5 0 7 1 0 1 0 0 3 1-29 1 44 1-4 0-19 1 4 1-2 0-10 1 11 1 10 0-9 1-9 1 10 0 5 1-43 1 58 0-20 1-7 1 2 0 2 1 5 1 9 0-19 1 5 1-17 0 50 1-47 0-1 1 37 1-19 0 9 1-10 1 38 0-17 1 39 1-40 0-41 1 16 0 25 1 2 1-11 0-33 1 39 1-18 0 19 1-17 0 18 1-21 1 0 0 4 1 15 0-26 1 32 1-22 0-7 1 4 0 15 1-2 1 1 1 28 0-18 1-15 1 7 0 6 1 5 0-18 1 44 1-12 0-21 1 12 0-13 1-12 0-12 1 0 1 4 0-12 1-3 0 46 1-24 0-11 1 42 1-45 0 8 1 12 0-7 1-6 0 4 1 1 0 2 1 27 1-27 0 4 1-16 0 32 1-16 0 6 1 16 0-26 1-15 1 21 0 13 1-15 0-7 1-4 0 15 1 10 0-16 1 9 0-20 1 20 0 8 1-20 0-13 1 21 1-15 0 6 1 14 0-11 1-1 0 8 1-8 0 1 1-6 0 2 1 16 0-20 1 5 0-4 1 11 0 2 1 15 0 28 1-45 0-10 1 8 0 15 1-4 0-1 1-29 0 35 1-26 0 29 1 4 0-39 1 11 0 17 1-27 0 65 1-34 0-2 1 1 0 13 1-7 0-13 1 1 0 8 1-10 0-12 1 25 0-26 1 7 0-9 1 15 0-18 1 15 0-15 0 22 1 7 1-14 0-16 1 18 0-13 1-7 0 30 1-19 0 16 1-1 0-11 1 11 1-31 0 16 0 12 1 28 0-58 1 31 0-9 1-16 0 14 1 18 0 6 1 5 1-16 0 19 0 3 1-23 0-19 1 5 0 14 1 1 1-19 0 12 0 4 1-18 0 9 1-7 0 2 1 23 1-2 0-25 0 34 1-31 0 24 1 6 0 1 0-21 1 31 1-45 0 33 1-16 1 30 0-40 0 21 1-10 0 7 1-34 0 2 0 45 1-9 1-6 0-18 0 29 1-14 1 4 0 6 1-16 1-22 0 50 0-10 1-14 1-16 0 28 0-12 1 19 1-32 0 22 0 4 1-16 0-10 1 23 0-6 0 22 1-49 1 24 0-1 0 5 1-3 1-10 0 12 0-22 2 13 0 15 0 18 1-33 1 26 0-26 0 7 1-18 1-4 0 45 0-28 1 25 1-45 0 40 0-8 0-11 1 9 1-30 0 30 0 13 1 12 1-29 0-10 0 23 2 26 0-54 0-10 1 62 1-34 0-15 0 3 0 27 1-40 1 33 0-22 0 34 2-10 0-16 0-7 0 35 1-20 1-6 0-8 0 13 2 8 0-13 0 2 0-16 1 27 1 9 0 7 0-29 2 7 0 4 0-8 0 17 2-19 0 11 0-19 0 26 1-23 1 11 0-1 0-6 2 35 0-39 0 21 0-16 2 17 0-18 0 37 0-32 2 19 0-28 0-1 0 19 2 11 0-17 0-15 0 22 2 5 0-47 0 61 0-25 2-13 0 36 0-40 0 19 2-16 0 20 0 6 0-19 2-12 0 21 0 1 0-18 2 5 0 10 0 24 0-26 2-5 0-11 0 35 0-35 2 11 0 10 0-14 0 16 2-14 0 24 0-31 0 22 2 8 0-27 0 10 0 7 2-13 0 23 0-1 0-22 2 15 0-20 0 27 0-38 2 6 0 45 0-36 0 16 2 7 0-20 0-11 0 18 2-8 0 15 0-11 0 14 2 17 0-37 0 17 0-23 2 23 0-13 0-4 0 15 2-25 0 59 0-48 0-2 2 30 0-35 0 8 0 32 2-15 0-23 0 30 0-30 2 20 0 28 0-43 0 15 2-17 0 17 0-8 0 13 2-26 0 34 0-22 0 13 2-28 0 25 0-21 0 46 2-15 0-20 0 5 0 4 2-3 0-14 0 26 0-10 2 20 0-28 0 22 0-34 2 8 0 17 0 18 0-33 2 2 0 30 0-26 0 23 2-43 0 26 0 35 0-43 2-7 0 47 0-26 0-19 2 42 0-48 0 32 0-28 2-1 0 13 0 22 0-33 2 11 0-22 0 57 0-37 2-11 0 40 0-2 0-30 2 39 0-34 0-16 0 34 2-8 0-18 0 32 0-34 2 20 0-16 0 48 0-60 2 56 0-28 0-15 0 23 2 0 0-22 0-8 0 37 2-9 0-13 0 21 0-32 2 13 0 12 0 5 0-19 2 20 0-31 0 6 0 30 2-27 0 15 0-13 0 17 2-17 0 35 0-19 0-32 2 11 0 37 0-15 0-33 2 31 0-22 0 17 0-9 2 29 0-28 0 17 0-22 2 6 0-16 0 7 0 20 2-15 0-14 0 6 0 32 2-39 0 46 0-39 0 18 2-15 0 32 0-34 0 8 2-12 0 43 0-33 0 26 2-31 0 49 0-18 0-23 2-9 0 39 0-19 0-6 2-10 0 33 0-43 2 27 0-19 0 23 0-22 2-9 0 21 0 10 0-31 2 49 0-51 0 41 0-46 2 64 0-42 0 2 0 35 2-47 0 16 0 33 0-44 2 18 0-24 0-9 0 23 2 30 0-41 0 38 2-15 0-25 0 35 0-35 2 27 0-35 0 25 0-25 2 64 0-29 0-45 0 37 2-26 0 32 0-8 0-28 2 41 0-27 0 32 0-40 2 12 0 12 0-26 0 46 2-36 0 24 0-23 0 27 2-37 0 30 0 22 0-46 2 1 0 25 0-23 0 28 2-39 0 23 0 38 0-49 2 11 0-16 0 19 0-18 2 26 0-27 0 9 0 24 2 2 0-24 0 29 0-37 2 4 0 21 0 9 0-40 2 13 0 33 0-34 0 26 2 11 0-40 0 31 0-37 2 26 0-21 0 27 0-30 2 46 0-32 0-22 0 33 2-23 0 29 0-20 0 14 2 16 0-27 0-17 0 32 2-45 0 49 0-4 0-33 2 33 0-22 0-5 0 26 2-21 0 23 0-34 0 25 2-15 0 41 0-40 0 42 2-54 0 74 0-69 0 48 2-16 0-31 0 8 0 47 2-5 0-45 0 15 0-20 2-2 0 33 0-23 0 14 2 15 0-31 0 11 0-20 2 36 0-33 0 4 0 30 2-29 0 47 0-6 0-42 2 2 0 26 0-8 0-17 2 48 0-53 0 10 0 21 2-4 0-26 0-9 0 30 2 17 0-39 0 31 0-37 2 9 0 15 0 28 0-54 2 56 0-52 0-6 0 31 2 18 0-36 0-1 0 31 2-2 0-42 0 44 0-34 2-9 0 55 0-49 0 28 2 13 0-43 0 41 0-34 2 31 0-26 0 23 0-16 2-5 0 34 0-35 0 29 2-45 0 43 0-8 0-20 2-3 0 58 0-52 0 44 2-49 0 30 0-38 0 39 2-2 0-41 0 22 0 26 2-40 0 31 0 16 0-42 2-3 0 39 0-17 2 24 0-59 0 70 0-61 2-2 0 48 0-45 2 30 0-36 0 7 0 40 2-32 0 26 0-34 0 33 2-4 0-39 0 38 0-31 2 12 0 33 0-3 0-33 2-4 0 42 0-44 0 25 2 22 0-45 0-18 0 55 2 12 0-38 0-1 0 28 2-3 0-27 0 29 0-28 2 5 0 37 0-27 0-26 2 3 0 37 0-44 0 36 2 1 0-30 0 5 0 30 2 2 0-37 0 34 2-44 0 42 0-29 0 24 2 12 0-30 0 22 0-24 2-2 0 32 0-27 0 22 2 0 0-30 0 4 0 35 2 11 0-37 0-23 0 33 2-22 0 39 0-3 0-34 2 58 0-77 0 47 0-32 2 34 0-32 0 30 0-29 2 40 0-43 0-5 0 53 2-10 0-43 0 47 0-40 2-1 0 36 0-34 0 40 2-1 0-39 0 23 0-17 2-7 0 34 0 14 0-51 2 54 0-56 0 6 0 37 2-52 0 49 0 11 0-58 2 8 0 38 0 4 0-38 2 4 0 30 0-38 0 59 2-66 0 45 0-35 0 30 2-38 0 57 0 5 0-54 2-2 0 35 0-30 0 29 2 12 0-45 0 7 0 34 2-37 0 22 0-19 0 38 2-35 0 44 0-54 0 37 2-4 0-30 0-8 0 47 2 3 0-34 0 30 0-33 2-3 0 32 0 15 0-45 2 2 0 36 0 11 0-49 2 2 0 40 0-39 0 45 2-18 0-36 0 42 0-29 2 36 0-50 0 52 0-47 2 37 0-34 0 33 0-32 2 44 0-52 0 34 0-36 2 39 0-39 0 41 0-43 2 37 0-30 0-3 0 46 2 4 0-44 0 49 0-47 2 4 0 31 0-6 0-37 2 16 0 36 0-58 0 43 2-51 0 61 0-29 0 40 2-46 0 34 0 9 0-62 2 7 0 34 0 9 0-42 2 4 0 51 0-45 0 31 2-7 0-23 0-1 0 31 2-2 0-40 0 3 0 36 2 6 0-41 0-13 0 65 2-46 0 35 0-30 0 25 2-27 0 27 0-31 0 41 2-36 0 30 0 19 0-54 2-14 0 62 0-17 0-34 2-9 0 68 0-26 0-29 2 34 0-33 0 37 2-12 0-24 0 49 0-65 2 18 0 33 0 12 0-59 2 37 0-30 0-1 0 31 2-2 0-21 0 35 2-47 0 36 0-34 0 60 2-10 0-48 0 9 0 22 2-31 0 45 0-9 0-31 2-8 0 49 0-47 0 73 2-66 0 41 0-46 0 56 2-7 0-28 0 13 0-24 2 0 0 23 0-1 0-33 2 0 0 53 0-66 0 46 2-36 0 51 0-9 0-35 2 59 0-56 0 44 0-56 2-5 0 49 0 4 0-27 2 23 0-37 0-1 0 39 2 11 0-47 0-8 0 48 2 1 0-41 0 40 0-41 2 4 0 34 0-5 0-28 2-2 0 38 0-39 0 36 2 19 0-58 0 44 0-35 2-16 0 53 0-41 0 42 2-49 0 55 0-53 0 29 2-22 0 30 0-33 0 38 2 8 0-52 0 11 0 48 2-21 0-41 0 5 0 33 2 6 0-38 0-3 0 48 2-8 0-33 0 43 0-53 2 0 0 37 0 8 0-44 2 46 0-48 0 35 0-29 2 42 0-37 0-9 0 61 2-16 0-37 0 40 0-51 2 47 0-36 0 41 0-43 2 43 0-45 0 1 0 53 2-6 0-43 0-7 0 55 2-49 0 34 0-38 0 51 2 8 0-51 0 5 0 32 2 17 0-60 0-8 0 48 2 13 0-53 0 4 0 49 2 4 0-55 0-1 0 36 2-28 0 45 0-54 0 38 2 10 0-48 0 1 0 31 2-26 0 25 0-29 0 42 2 7 0-45 0 41 0-52 2 47 0-51 0 46 0-37 2 50 0-43 0 46 0-50 2 3 0 49 0-56 0 37 2 12 0-49 0 6 0 58 2-19 0-42 0-3 0 55 2-47 0 33 0 15 0-51 2 3 0 39 0 7 0-39 2-7 0 30 0 16 0-44 2-11 0 45 0 23 0-57 2-10 0 43 0 10 0-46 2 1 0 44 0-49 0 45 2 3 0-47 0 6 0 36 2-4 0-29 0 31 0-34 2 28 0-35 0 47 0-50 2 44 0-43 0 9 0 42 2-41 0 29 0-36 0 43 2-53 0 40 0 21 0-43 2-3 0 54 0-60 0 49 2-50 0 33 0 9 0-35 2 6 0 38 0-48 0 44 2-6 0-40 0 47 0-48 2-1 0 47 0-41 0 32 2 20 0-56 0 8 0 42 2-41 0 38 0-39 0 33 2 6 0-35 0 36 0-39 2 40 0-48 0 1 0 55 2-10 0-53 0 15 0 36 2-5 0-32 0-3 0 64 2-14 0-52 0 37 0-43 2 69 0-56 0-4 0 56 2-22 0-37 0 36 0-37 2 51 0-45 0 34 0-39 2 7 0 45 0-50 2 2 0 57 0-61 0 39 2 5 0-47 0 12 0 47 2-62 0 66 0-54 0 35 2 7 0-47 0 2 0 40 2 13 0-52 0-3 0 61 2-11 0-46 0-11 0 61 2-8 0-42 0 1 0 42 2-11 0-31 0 1 0 52 2-51 0 49 0-56 2 8 0 42 0-11 0-33 2 40 0-46 0 13 0 41 2-61 0 44 0 5 0-42 2-2 0 49 0-46 0 45 2-47 0 50 0-50 0 51 2-49 0 38 0-38 0 60 2-5 0-53 0-1 0 45 2-3 0-35 0-9 0 63 2-54 0 40 0-44 0 49 2 7 0-57 0 35 0-34 2-4 0 42 0 5 0-46 2 40 0-34 0 31 0-39 2 60 0-55 0 50 0-46 2 50 0-49 0-2 0 41 2 24 0-68 0 7 0 29 2-5 0-34 0 46 0-51 2 5 0 47 0-53 0 49 2-42 0 45 0-51 0 67 2-12 0-53 0 1 0 41 2 36 0-82 0 11 0 44 2 13 0-58 0 45 0-38 2-4 0 50 0-56 0 59 2-57 0 52 0-45 0 41 2 8 0-61 0 9 0 51 2 0 0-66 0 68 0-49 2-7 0 51 0-53 0 53 2 8 0-52 0-16 0 54 2-45 0 61 0-18 0-45 2-3 0 51 0-5 0-40 2-6 0 61 0-6 0-46 2 47 0-57 0 8 0 38 2 7 0-51 0 13 0 48 2-62 0 60 0-56 0 51 2-55 0 46 0-40 0 49 2 6 0-48 0 39 0-50 2 57 0-50 0 53 0-49 2-10 0 52 0-1 0-45 2 5 0 46 0-50 0 69 2-76 0 60 0-4 0-51 2 42 0-31 0 45 0-59 2 63 0-61 0 41 0-49 2 8 0 88 0-52 0-31 2 53 0-61 0 55 0-47 2-2 0 51 0-10 0-44 2-3 0 55 0-9 0-43 2-2 0 49 0-44 0 53 2-6 0-50 0 5 0 34 2 7 0-45 0-3 0 47 2 3 0-49 0 38 0-35 2 48 0-50 0 2 0 66 2-23 0-45 0 9 0 53 2-69 0 58 0 3 0-57 2 5 0 39 0 17 0-59 2 45 0-43 0 54 0-57 2 48 0-37 0 48 0-48 2 73 0-79 0 44 0-44 2 43 0-44 0 49 0-46 2 43 0-43 0-4 0 46 2-45 0 44 0 16 0-58 2 59 0-56 0 52 0-61 2 51 0-41 0-6 0 43 2 5 0-48 0 71 0-71 2 60 0-68 0 57 0-48 2 55 0-62 0 55 0-38 2-9 0 47 0-49 0 55 2-12 0-43 0 57 0-56 2 52 0-49 0 6 0 44" fill="none" stroke="#4DBEEE" stroke-width="2.8" stroke-linejoin="round" clip-path="url(#clipA)"/>
<path d="M120 169l24-1 22 4 21 9 18 14 18 6 16 2 16 5 14-7 14 4 13 24 12 12 12 2 11 1 11-10 11 3 10 24 9 3 9-13 9-5 9-7 8-5 8 4 8 17 8 10 7-5 7-5 7 0 7 8 7 10 6 2 6-3 6 2 6 2 6-4 6 14 5 14 6-4 5-5 6-4 5 1 5 2 5-9 4 5 5 9 5-9 4-3 5 1 4-1 5 1 4-5 4 0 4 18 4 10 4-19 4-5 4 8 4 1 4 0 3 7 4 3 4 5 3 1 4-19 3-6 4 9 3 17 3 7 4-35 3-24 3 19 3 38 3-5 3-5 3 1 3 8 3 0 3 1 3 2 3 2 3-4 3-15 2 2 3 14 3-1 3-3 2 4 3 1 3-11 2-5 3 3 2 3 3 4 2-1 3 3 2-4 2-3 3 4 2 9 3 9 2-18 2-1 2 20 3-8 2-14 2 1 2 9 3 5 2 9 2-6 2-16 2-2 2 0 2 8 2 1 2-2 2 21 2-16 2 3 2 3 2-15 2-7 2-2 2 14 2 11 2-3 2-7 2-3 1 17 2 0 2-13 2-1 2-6 1 2 2 15 2 16 2 6 1-12 2 12 2-13 2-18 1-5 2 3 2 2 1 5 2-4 2 20 1-22 2 23 1-2 2-3 2-3 1-11 2 4 1-1 2 0 1 14 2 1 1 14 2-37 1-3 2 9 1-6 2 0 1 18 2-4 1-7 2-9 1 14 2-16 1 5 1-1 2 1 1 13 1 2 2 12 1-12 2 0 1 5 1-1 2 1 1-20 1 4 2 17 1-5 1 19 2-12 1-14 1 33 1-26 2 2 1 4 1 1 1-4 2 25 1 10 1-26 1-10 2 11 1-21 1-8 1 14 1-8 2-3 1 28 1-6 1-3 1-2 2 8 1-9 1-13 1 7 1-1 1 2 1 8 2 2 1-25 1 3 1 23 1-13 1 0 1 19 1-14 1 9 2 2 1-21 1 7 1 2 1-11 1 16 1 26 1-22 1 37 1-70 1 37 1 3 1-32 1 28 1-2 1 5 1-7 1-13 1 12 1 8 1 1 1-8 1 3 1-5 1-3 1 19 1-16 1 11 1-12 1 0 1 37 1-30 1-23 1 22 1 5 1-1 1-13 1 0 1-8 1 20 1-1 1-24 0 5 1 18 1 0 1 9 1-5 1 9 1-22 1 5 1 29 1-40 0-3 1 40 1-1 1-27 1-11 1 0 1 14 1 46 0-53 1-4 1 11 1-23 1 22 1-16 1 31 0-1 1-9 1 21 1-24 1-9 1 26 0 20 1 7 1-54 1 5 1 3 1 31 0-34 1-3 1 20 1 4 1-9 0 22 1-24 1 26 1-12 1-18 0-8 1 2 1 6 1 3 1 0 0-10 1-4 1 8 1 18 0-11 1-20 1 18 1 7 0-2 1 15 1-30 1 31 0-14 1 5 1 1 1-7 0-15 1 20 1-5 1 3 1-10 1 31 0-12 1 1 1-38 1 18 0 32 1-13 1-20 1-15 0 21 1-4 1 16 0 11 1-34 1 29 0-13 1 3 1-20 0-15 1 40 1-5 1-23 0 29 1-12 1 23 0-10 1-24 1 21 0-12 1-8 1 0 0-2 1 37 1 12 0-28 1 9 1-26 0 8 1 11 1 5 0-18 1-3 1-2 0 9 1-5 1 21 1-9 0-59 1 41 1 23 0-14 1-6 1 22 0-16 1-4 0 13 1-11 1 25 0-18 1 8 1-24 0 9 1 17 0 46 1-68 1 15 0 6 1-5 0-6 1-9 1 13 0-14 1 12 0 13 1-19 1 0 0 21 1 4 0 8 1-15 1-25 0 9 1 8 0-2 1-1 1-1 0-14 1 33 0-36 1 12 0 9 1 2 1-11 0 13 1 7 0-23 1-6 0 36 1-10 1-18 0-6 1 27 0-13 1-3 0-10 1 3 0 16 1 14 1-42 0-6 1 53 0-51 1 8 0-11 1 26 0 29 1-19 1 10 0-51 1 21 0 15 1-18 0 21 1-14 0 5 1-17 0 23 1-2 0 3 1 6 0-7 1-8 1 19 0-13 1 5 0-38 1 45 0-13 1-17 0-5 1 6 0 18 1-5 0 9 1-7 0 1 1-6 0-3 1 16 0-14 1-2 0 9 1-2 1 25 0-22 1 7 0-7 1 14 0-4 1-26 0-8 1-2 0 30 1-4 0 12 1-12 0-13 1 25 0-4 1 3 0 10 1-10 0-24 1 40 0-31 1 48 0-31 1-24 0 19 1-23 1 18 0-16 0 40 1-9 1-20 0-2 1 1 0-2 1 14 0 13 1-2 0 25 1-47 0 12 1 16 1-44 0 7 0 25 1-2 0-17 1 45 0-36 1 19 0-30 1 17 0-8 1-11 1 20 0-17 0 27 1-3 0-15 1 2 0 20 1-11 1-4 0 4 0-13 1 42 0-34 1-7 0-30 1 29 1 3 0-10 0 32 1-7 0-23 1 14 0 27 0-45 1-5 1 10 0-3 1-10 1-1 0 27 0-8 1 0 0 9 1-21 0 42 0-48 1 16 1 23 0-26 0 11 1-13 1 0 0 9 1-12 1 2 0 36 0-20 1-17 1-9 0 32 0-8 1-1 1-6 0 27 0-38 1 20 0-18 1 0 0 16 0 25 1-14 1-8 0-25 0 32 1-9 1 25 0-37 0 23 2-29 0 27 0-9 1-6 1 31 0-41 0 37 1 31 1-29 0-40 0 25 1 1 1-12 0-7 0 2 0 8 1 12 1-7 0 13 0-24 1 19 1-13 0 10 0-14 2-10 0 54 0-23 1-11 1-23 0 35 0-27 0 25 1-12 1-4 0 21 0-51 2 33 0-25 0 13 0-18 1 26 1-9 0-3 0 9 2 23 0-21 0 21 0-11 1 10 1-8 0-30 0 27 2 7 0-25 0 18 2-16 0 19 0 13 0-24 1 31 1-25 0 6 0-41 2 17 0 30 0-4 0-18 2 12 0-11 0 41 0-34 2 15 0-26 0-6 0 36 2-22 0 16 0-34 0 13 2 39 0-46 0 23 0-24 2 19 0 10 0 8 0-29 2 22 0-9 0-14 2 30 0-29 0 18 0-8 2 15 0-19 0 30 0-34 2 19 0 22 0-40 0 20 2-22 0-2 0 43 2-26 0-33 0 41 0-29 2 32 0-32 0 16 0 5 2-33 0 52 0-5 0-16 2 6 0-11 0 18 0-20 2-10 0 16 0 12 0-29 2 23 0 10 0-30 2 43 0-16 0-3 0-26 2 36 0-22 0-1 0 3 2-20 0 19 0 26 0-24 2-27 0 34 0-3 0-6 2 9 0-29 0 29 0-22 2-4 0 25 0-21 0 28 2-11 0-11 0 44 0-50 2 8 0 27 0-11 0-15 2-3 0 6 0-2 0 6 2 13 0-34 0 11 0 35 2-39 0 31 0-22 0 43 2-51 0 20 0 5 0-11 2 16 0-18 0-8 0 27 2 10 0-25 0 39 0-55 2-4 0 46 0-26 0 6 2 13 0-35 0 9 0 14 2 19 0-29 0-12 0 28 2-37 0 53 0-46 0 14 2 18 0-22 0 24 0-32 2 23 0-19 0 12 0 24 2-4 0-38 0 30 0-24 2 12 0 6 0 13 0-45 2 40 0-25 0-2 0 34 2-25 0 30 0-29 0 17 2-6 0-27 0 13 0 23 2 1 0-32 0 39 0-21 2-9 0 21 0-24 0 19 2-36 0 46 0 1 0-18 2 13 0-26 0-4 0 28 2-25 0 19 0-25 0 27 2-4 0-7 0 8 0-25 2 26 0-27 0 5 0 45 2-19 0-17 0 16 0-32 2 39 0-11 0 15 0-33 2 2 0 29 0-24 0 17 2-18 0 17 0 17 0-26 2 9 0-18 0-11 0 30 2 4 0-27 0 14 0-6 2 21 0-26 0 56 0-54 2-2 0 43 0-47 0 30 2 0 0-28 0 37 0-51 2 20 0 28 0-31 0 12 2 23 0-48 0 30 0-24 2 44 0-38 0 6 0 9 2-22 0 33 0-13 0-23 2 32 0-29 0-2 0 49 2-48 0 49 0 12 0-52 2 26 0-26 0 19 0-18 2-11 0 36 0 4 0-29 2 1 0 32 0-40 0 31 2-4 0-14 0 27 0-27 2 1 0 14 0-33 0 23 2 17 0-31 0 38 0-43 2 10 0 22 0-4 0-43 2 33 0-23 0 15 0 18 2-22 0 30 0 13 0-46 2 0 0 45 0-43 0 33 2-6 0-16 0-15 0 37 2 9 0-38 0 22 0-14 2 15 0-41 0 10 0 46 2-2 0-46 0 42 0-39 2 35 0-26 0-2 0 25 2 6 0-31 0 6 0 36 2-10 0-13 0 2 0-22 2-7 0 32 0 7 0-30 2-2 0 29 0-25 0 19 2-8 0-27 0 31 0-21 2-4 0 38 0 16 0-48 2 0 0 21 0-23 0 38 2-30 0 28 0-28 0 20 2 1 0-27 0 4 0 33 2-39 0 31 0-15 0 28 2 2 0-32 0 2 0 24 2-18 0-26 0 16 0 18 2-24 0 14 0-24 0 19 2-22 0 31 0-12 0 33 2-43 0 36 0 3 0-27 2-22 0 31 0-18 0 31 2-29 0 37 0-4 0-43 2 49 0-53 0 19 0 27 2-33 0 27 0-31 2 7 0 23 0-18 0 22 2-30 0 26 0-26 0 22 2 15 0-38 0 41 0-41 2 39 0-37 0-3 0 24 2-3 0-24 0-2 0 29 2 22 0-48 0 28 0-27 2 37 0-37 0 5 0 28 2-41 0 52 0-15 0-21 2 39 0-51 0 15 0 12 2 14 0-39 0 4 0 25 2 9 0-31 0 17 0-21 2 38 0-28 0-21 0 28 2 21 0-39 0 1 0 32 2-7 0-23 0 30 0-38 2-5 0 48 0 3 0-46 2 33 0-30 0 1 0 35 2-4 0-31 0 43 0-36 2 2 0 27 0-43 0 43 2 13 0-42 0-1 0 54 2-23 0-42 0 39 0-28 2-10 0 58 0-45 0 34 2-10 0-33 0 22 0-22 2 35 0-38 0 35 0-26 2 2 0 11 0 4 0-15 2-7 0 34 0-31 0 37 2-15 0-15 0-4 0 33 2-34 0 28 0-9 0-25 2-7 0 42 0 1 0-46 2 42 0-37 0 48 0-38 2 8 0 23 0 20 0-61 2 28 0-15 0-14 0 42 2 19 0-63 0 12 0 38 2-39 0 24 0-19 0 42 2-41 0 29 0-34 0 36 2-52 0 43 0-24 0 54 2-55 0 32 0-26 0 31 2-42 0 64 0-9 0-64 2 15 0 26 0 6 0-37 2 5 0 36 0 7 0-63 2 27 0 20 0-6 0-31 2 40 0-17 0-19 0 60 2-47 0 35 0-19 0-27 2 5 0 30 0-37 0 63 2-40 0-19 0 2 0 26 2 28 0-49 0 1 0 28 2 13 0-39 0 32 0-41 2-9 0 40 0 7 0-38 2 35 0-41 0 4 0 36 2-4 0-36 0 43 0-43 2 11 0 26 0-37 0 50 2-36 0 27 0-29 0 21 2-24 0 28 0-21 0 27 2-4 0-46 0 62 0-55 2 43 0-35 0 28 0-20 2 33 0-35 0-10 0 43 2-9 0-34 0 9 0 30 2-13 0-18 0 37 0-44 2 4 0 41 0-9 0-39 2 30 0-18 0 23 0-34 2 11 0 46 0-13 0-33 2-7 0 24 0 23 0-42 2-2 0 34 0-39 0 32 2 24 0-68 0 10 0 43 2-34 0 29 0 7 0-42 2 6 0 46 0-14 0-33 2 1 0 33 0-7 0-28 2-6 0 42 0-49 0 51 2 0 0-39 0-5 0 45 2-29 0 33 0-39 2-13 0 46 0-30 0 29 2-39 0 38 0 11 0-45 2 5 0 39 0-51 0 44 2 3 0-57 0 11 0 46 2 33 0-75 0 3 0 37 2 9 0-43 0-4 0 42 2-38 0 40 0-32 0 21 2-36 0 44 0-50 0 40 2 5 0-36 0-2 0 35 2 1 0-34 0 3 0 39 2-15 0-31 0 42 0-46 2-1 0 39 0 6 0-43 2 1 0 39 0-35 0 33 2 12 0-41 0 37 2-4 0-22 0-14 0 47 2-49 0 55 0-14 0-37 2 51 0-51 0 37 0-38 2 6 0 48 0-10 0-50 2 4 0 49 0 2 0-44 2 37 0-39 0 39 0-35 2 39 0-43 0 39 0-44 2 9 0 23 0 9 0-38 2 37 0-40 0-5 0 70 2-64 0 31 0-29 0 47 2 2 0-53 0 4 0 35 2-40 0 38 0 16 0-38 2-10 0 32 0-36 0 41 2-40 0 42 0-56 0 54 2-34 0 27 0-30 0 41 2-2 0-37 0 3 0 23 2-33 0 39 0 13 0-49 2 1 0 51 0-6 0-41 2 32 0-30 0-3 0 35 2-43 0 49 0 8 0-51 2 40 0-40 0 3 0 21 2-22 0 36 0 2 0-44 2 61 0-52 0-4 0 43 2-13 0-32 0-3 0 47 2-35 0 22 0-46 0 66 2-8 0-37 0 46 0-51 2 2 0 31 0-32 0 40 2 1 0-55 0 50 0-33 2-3 0 40 0-35 0 42 2-46 0 44 0-1 0-49 2 8 0 45 0-48 0 56 2-57 0 49 0-9 0-31 2-10 0 29 0-38 0 47 2-35 0 44 0-1 0-37 2 2 0 34 0 18 0-63 2 56 0-60 0 45 0-37 2 43 0-37 0 45 0-64 2 53 0-42 0 36 0-36 2 43 0-35 0 41 0-46 2 51 0-46 0-6 0 45 2-37 0 33 0-35 0 33 2 9 0-43 0 39 0-41 2-3 0 51 0-54 0 42 2 11 0-45 0 34 0-44 2 44 0-40 0 33 0-36 2 52 0-42 0 38 2-45 0 56 0-2 0-40 2-8 0 26 0 5 0-47 2 24 0 59 0-31 0-39 2 3 0 39 0 10 0-48 2 42 0-49 0 43 0-43 2 49 0-49 0 43 0-38 2 34 0-33 0 42 0-44 2 12 0 31 0-8 0-43 2 53 0-44 0-7 0 49 2-34 0 30 0 4 0-48 2 8 0 42 0-40 0 40 2-44 0 48 0-49 0 39 2 1 0-47 0 16 0 41 2-50 0 42 0-1 0-41 2 6 0 51 0-15 0-40 2 7 0 48 0-58 0 49 2-11 0-34 0 43 0-44 2-3 0 50 0-44 0 45 2-49 0 41 0-39 0 45 2-47 0 49 0-43 0 31 2-30 0 39 0-38 0 48 2-61 0 47 0 11 0-56 2 6 0 54 0-18 0-39 2 2 0 53 0-20 0-38 2 1 0 47 0 16 0-54 2 45 0-55 0 58 0-55 2 64 0-65 0 6 0 48 2-3 0-51 0 6 0 33 2 33 0-60 0-3 0 42 2-4 0-49 0 59 0-47 2 2 0 43 0-11 0-50 2 46 0-38 0 39 0-39 2 39 0-41 0 55 0-49 2 45 0-54 0 1 0 45 2-40 0 41 0-38 0 37 2-3 0-34 0 57 0-55 2 40 0-39 0-4 0 49 2-3 0-36 0 35 2 14 0-51 0 30 0-43 2 13 0 46 0-9 0-38 2-16 0 68 0-60 0 66 2-69 0 58 0-62 0 53 2-3 0-38 0 33 2-27 0 42 0 9 0-62 2 6 0 49 0-56 0 54 2 12 0-65 0 44 0-49 2 57 0-52 0 34 0-33 2 53 0-50 0 1 0 45 2-47 0 42 0 10 0-50 2 39 0-46 0 63 0-56 2-5 0 50 0-3 0-44 2 5 0 34 0 3 0-45 2 8 0 54 0-59 0 59 2-18 0-38 0-4 0 44 2-6 0-38 0 57 0-46 2-7 0 59 0-17 0-49 2 51 0-46 0 1 0 43 2-43 0 46 0 15 0-66 2 51 0-44 0 2 0 41 2-45 0 64 0-22 0-49 2 42 0-36 0-6 0 67 2-56 0 42 0-51 0 46 2 21 0-64 0-1 0 55 2-51 0 48 0 29 0-80 2 54 0-54 0 48 0-39 2-7 0 42 0-49 0 55 2-42 0 42 0-49 0 56 2-8 0-49 0 45 0-42 2-1 0 36 0-35 0 42 2-45 0 44 0-2 0-47 2 49 0-48 0 2 0 55 2 3 0-57 0-2 0 46 2 8 0-49 0 62 0-58 2 40 0-43 0 3 0 51 2-7 0-49 0 63 0-74 2 74 0-57 0-12 0 54 2-46 0 59 0-19 0-40 2 44 0-44 0 4 0 42 2-44 0 50 0-63 0 55 2-41 0 52 0-5 0-55 2 59 0-59 0-1 0 65 2-62 0 43 0-39 0 53 2-51 0 46 0-43 2 43 0-53 0 60 0-49 2-13 0 54 0 2 0-47 2 55 0-60 0 62 0-52 2 38 0-40 0-12 0 46 2-43 0 60 0-57 0 55 2-49 0 52 0-60 0 46 2-45 0 41 0 8 0-46 2 2 0 44 0-2 0-41 2 34 0-48 0 11 0 50 2-49 0 55 0-11 0-45 2 1 0 52 0-54 0 66 2-21 0-45 0-3 0 65 2-69 0 63 0-8 0-45 2 42 0-38 0 37 0-53 2 69 0-55 0 63 2-76 0 64 0 16 0-70 2 44 0-41 0-4 0 47 2-51 0 52 0 3 0-49 2 2 0 38 0 6 0-48 2 54 0-47 0-10 0 63 2-11 0-55 0 1 0 56 2-51 0 56 0-2 0-52" fill="none" stroke="#A2142F" stroke-width="2.8" stroke-linejoin="round" clip-path="url(#clipA)"/>
<path d="M120 200l24-10 22-3 21 16 18 8 18-9 16-8 16 6 14 14 14 13 13 1 12-13 12 1 11 26 11 7 11-16 10-7 9 6 9 22 9 5 9-15 8 8 8 7 8-5 8 7 7-6 7-7 7 12 7 12 7 6 6 7 6 4 6-7 6-14 6-4 6 1 5 2 6 8 5 5 6 0 5 8 5 10 5 4 4-6 5-11 5 2 4 13 5-7 4-19 5 7 4 19 4-7 4-1 4 14 4 7 4-14 4-14 4 4 4 6 3-4 4-3 4 8 3 5 4-10 3 13 4 26 3-10 3-14 4-14 3-18 3 10 3 33 3-4 3-3 3 12 3-3 3-20 3 0 3 10 3-5 3-7 3 5 2 3 3-6 3-3 3-4 2 1 3 7 3 5 2 13 3-3 2-13 3 7 2 9 3-4 2 5 2 8 3-7 2-6 3-10 2 10 2 12 2-3 3-12 2-11 2 15 2 6 3 0 2-13 2-8 2 1 2 5 2 18 2-14 2 2 2 18 2-13 2-8 2 2 2 1 2 0 2-4 2-5 2 15 2 6 2-6 2 25 2-22 1-18 2 10 2 8 2 11 2-2 1-9 2 13 2 12 2-12 1 3 2-18 2 16 2-3 1-4 2 24 2-36 1-5 2 24 2-20 1 32 2-36 1 1 2 30 2-18 1-11 2-6 1 16 2 7 1 28 2-36 1 1 2 27 1-34 2 2 1 14 2 6 1 21 2-5 1-13 2 11 1-4 2-7 1-19 1-7 2 7 1 9 1-4 2-7 1 10 2-15 1 14 1-5 2 14 1-19 1 24 2-14 1-10 1 6 2 13 1-18 1 15 1-17 2 24 1 0 1-8 1-21 2-4 1 28 1-19 1 18 2-6 1 3 1 19 1-42 1 36 2-6 1-1 1 5 1-15 1 7 2-11 1 9 1-14 1 5 1 29 1-11 1-5 2-1 1-18 1 9 1 7 1-11 1 17 1 17 1-5 1-18 2-5 1 8 1-4 1-7 1-16 1 42 1-15 1-23 1 17 1-11 1 11 1 0 1 26 1-37 1 24 1-11 1 27 1-13 1-15 1 4 1-7 1 7 1 2 1-27 1 5 1 39 1-18 1 1 1-8 1 27 1 2 1-27 1-13 1 10 1-9 1 10 1 15 1-14 1 11 1 26 1-20 1-24 0 5 1-7 1 25 1 2 1-21 1 27 1-20 1-3 1-3 1 28 0 1 1-4 1-8 1-2 1 0 1-14 1 8 1 5 0-11 1 30 1 16 1-50 1 18 1 8 1-1 0-4 1-13 1 29 1 5 1-10 1-16 0-11 1 6 1 5 1 16 1-6 1-3 0 1 1-18 1 12 1-11 1-10 0 18 1-4 1-4 1 36 1-32 0 4 1 20 1-20 1 1 1-8 0 34 1-21 1-8 1 32 0-29 1-3 1 10 1-3 0-2 1-14 1 17 1 10 0-31 1 27 1-5 1-10 0 1 1 11 1 21 1-33 0 16 1-20 1 12 0-3 1 2 1-18 1 13 0-17 1 17 1 3 1 0 0 21 1-33 1 10 0-14 1 15 1 5 0-2 1 4 1 2 0-4 1-13 1 6 1 27 0-35 1-3 1 5 0 24 1 16 1-41 1 8 1 14 0 8 1-31 1 15 0 4 1-30 1 12 0 15 1-18 1 55 0-50 1 25 1-14 0 5 1 20 0-38 1 21 1-27 0 25 1-9 1 20 0-24 1 4 1 12 0-10 1 7 0 1 1 6 1-6 0-19 1 37 1-7 0-9 1 8 0-32 1 22 1 20 0-22 1-8 0 5 1 5 1 4 0-3 1 15 0-32 1-12 1 40 0 26 1-40 0 6 1-6 1-10 0 14 1 6 0-1 1-8 1-29 0 27 1 8 0 9 1-8 0-1 1-10 1 24 0-22 1 4 0-4 1 7 0 6 1-23 1 30 0-17 1-18 0 6 1 11 0 33 1-34 0-2 1 5 1 5 0-15 1 23 0-15 1 3 0 14 1-12 0-4 1 33 1-44 0 10 1 9 0-15 1 21 0-22 1 10 0 7 1 20 0-45 1 15 0-14 1 1 0 9 1 14 1-23 0 38 1-26 0-17 1 12 0 38 1-31 0 2 1 12 0-29 1-1 0 48 1-38 0 20 1-16 0-8 1 14 0 12 1 4 0-17 1-2 0-5 1 13 0-5 1-14 0 26 1-12 0-7 1 8 0-13 1 1 0 23 1-12 0 15 1-11 0 11 1-27 0 26 1 0 0-19 1 6 0-19 1 3 0 35 1 6 0-62 1 36 0-8 1-8 0 17 1 27 0-21 0-23 1 11 1-7 0 27 1 22 0-44 1-9 0 26 1-3 0 13 1-3 0-29 1 3 1-3 0-4 0 7 1 19 0-33 1 11 0-6 1 26 0-15 1 11 0 1 1 8 1-21 0 24 0-20 1 2 0-12 1 26 0-8 1-10 1-7 0 32 0-17 1 15 0-16 1 20 1-23 1 12 0-8 0-3 1 9 0-13 1 15 0-23 0 22 1-3 1 14 0-21 1 9 1 1 0-17 0 3 1 29 0-26 1-3 0 24 0-13 1-23 1-4 0 19 0 9 1 7 1-1 0-1 1 7 1-11 0-11 0-8 1 4 1-15 0 35 0 5 1-18 1 14 0-15 0-3 1 21 0-14 1-4 0 14 0-13 1-18 1 29 0-22 0 32 1-14 1-12 0-1 0 25 2-13 0-7 0-5 1-1 1 18 0-14 0 46 1-45 1-7 0 49 0-32 1-15 1-2 0 53 0-65 0 19 1 13 1-18 0-7 0 24 1 25 1-16 0 7 0-28 2 15 0 10 0-29 1 6 1-11 0 26 0 28 0-37 1 3 1-5 0 13 0-19 2 7 0 32 0-28 0-11 1 10 1 5 0-7 0 2 2 9 0-15 0-10 0 31 1-9 1-18 0 18 0-11 2 18 0-8 0 13 0-27 2 24 0-18 0 5 0-12 1 16 1-15 0 8 0 25 2-42 0 22 0 8 0 6 2-11 0-12 0 5 2-3 0 25 0-10 0-26 2 27 0-26 0 44 0-42 2 35 0-33 0 13 0 16 2 2 0-24 0-3 0 23 2-22 0 10 0-1 0 31 2-14 0-20 0 13 0-17 2-5 0 28 0 17 0-38 2 40 0-53 0 20 0 18 2-27 0-4 0 29 0-20 2-5 0 23 0-25 0 37 2 8 0-33 0-18 0 24 2 28 0-52 0-1 0 23 2 4 0-12 0 13 0-28 2-3 0 25 0-31 0 29 2-7 0-7 0 7 0 12 2-11 0-24 0 28 0 23 2-33 0 32 0 8 0-44 2 16 0-13 0 9 0 45 2-12 0-37 0 1 0 24 2 19 0-35 0-2 0 4 2 8 0 13 0-19 0-33 2 17 0 42 0-55 0 35 2-6 0-26 0 13 0 19 2 4 0-32 0 17 0 17 2-31 0 40 0 1 0-27 2 22 0-30 0-6 0 15 2-3 0 10 0 22 0-29 2 8 0-14 0 37 0-41 2-3 0 6 0 17 0-22 2 39 0-38 0 2 0 16 2-31 0 50 0-28 0 32 2-26 0-5 0-7 0 30 2-17 0-7 0 3 0 31 2-44 0 16 0-5 0 4 2-8 0 18 0 11 0-36 2 22 0-12 0 8 0-29 2 22 0 9 0 19 0-48 2 18 0 12 0 4 0 18 2-13 0-24 0 52 0-51 2-5 0 23 0-4 0-20 2 3 0 34 0-42 0 36 2 12 0-36 0 3 0 32 2-22 0-12 0-2 0 46 2-27 0-24 0 38 0-36 2 10 0 23 0-30 0 23 2-9 0-17 0 27 2 13 0-52 0 44 0-23 2 5 0 11 0 3 0-44 2 21 0 7 0-2 0 33 2-6 0-5 0-3 0-31 2 0 0 37 0-27 0 24 2-29 0 23 0-28 0 45 2-37 0 15 0-19 0 40 2-46 0 58 0-51 0 27 2 10 0-35 0 6 0-21 2 7 0 19 0 13 0-18 2 1 0 45 0-48 0 36 2-40 0 30 0 22 0-50 2 24 0-31 0-1 0 48 2 0 0-35 0-2 0 34 2-13 0-26 0-5 0 31 2-27 0 16 0 12 0-32 2-1 0 28 0-13 2 22 0-30 0 18 0-15 2-10 0 17 0 10 0-14 2-3 0 12 0-12 0 17 2 5 0-14 0 24 0-38 2 29 0-26 0 33 0-34 2-1 0 49 0-21 0 8 2-31 0 21 0-21 0 30 2-36 0 32 0 1 0-37 2-11 0 44 0 14 0-39 2-8 0 52 0-57 0 50 2-4 0-30 0 47 0-57 2 30 0-30 0-3 0 25 2-15 0 15 0 9 0-29 2 51 0-39 0 34 0-53 2 33 0-33 0 48 0-18 2-1 0-15 0 25 0-22 2-6 0 42 0-23 0-20 2 13 0 19 0-36 0 29 2 3 0-19 0 10 0-30 2 13 0 42 0-19 0-20 2-2 0 30 0-21 0 36 2-19 0-18 0-17 0 31 2-21 0 25 0-26 0 26 2 8 0-23 0 2 0-16 2 35 0-36 0 4 0 34 2-28 0 22 0 5 0-32 2-1 0 51 0-23 0-26 2-1 0 27 0-29 0 49 2-47 0 22 0 17 0-32 2-10 0 34 0-31 0 23 2 26 0-41 0-4 0 24 2 1 0-36 0 58 0-52 2-2 0 33 0 1 0-37 2 36 0-41 0 15 0 28 2-43 0 41 0-2 0-29 2 12 0-22 0 39 0-30 2 58 0-63 0 53 0-48 2 1 0 30 0-50 0 64 2-50 0 38 0-3 0-34 2 35 0-34 0 22 0-26 2 14 0 23 0-30 0 17 2-18 0 35 0 12 0-35 2-15 0 27 0-17 0 39 2-36 0 30 0-31 0 45 2-63 0 42 0 35 0-60 2 3 0 36 0-19 0-21 2 9 0 16 0-26 0 32 2-2 0-28 0 54 0-60 2 0 0 33 0-47 0 51 2-41 0 36 0 10 0-47 2 1 0 48 0-12 0-43 2 12 0 31 0 9 0-38 2-1 0 40 0-43 2 3 0 16 0 16 0-31 2 41 0-37 0-3 0 35 2-45 0 57 0-12 0-56 2 16 0 41 0-47 0 49 2-31 0 29 0-37 2 5 0 30 0-10 0-24 2 33 0-34 0 22 0-22 2 36 0-54 0 17 0 32 2-33 0 36 0-34 0 38 2-10 0-35 0 39 0-30 2 42 0-51 0-1 0 45 2-8 0-30 0 24 0-34 2 22 0-17 0 35 0-28 2-9 0 46 0-47 0 40 2 25 0-52 0 22 0-22 2 27 0-51 0 21 0 32 2-35 0 43 0-18 0-24 2 53 0-67 0 21 0 27 2-5 0-24 0 36 0-47 2 0 0 26 0-33 0 57 2-5 0-40 0-8 0 37 2 11 0-29 0-8 0 49 2-46 0 25 0-37 0 39 2-21 0 34 0-16 0-19 2-9 0 34 0-32 0 41 2 1 0-38 0 3 0 27 2 9 0-40 0 31 0-29 2 1 0 28 0 5 0-34 2 39 0-55 0 16 0 25 2 12 0-43 0 35 0-40 2 47 0-31 0 23 0-30 2 2 0 23 0 13 0-45 2 37 0-47 0 61 0-42 2 39 0-45 0 34 0-30 2 33 0-30 0-4 0 34 2-8 0-19 0 52 0-62 2-1 0 35 0-35 0 32 2-17 0 29 0 6 0-48 2 3 0 32 0 11 0-35 2-18 0 47 0-39 0 47 2 1 0-57 0 62 0-57 2 50 0-52 0 10 0 29 2-28 0 38 0-9 0-41 2 49 0-52 0 24 0 38 2-21 0-31 0-6 0 27 2-21 0 46 0-42 0 21 2 7 0-28 0 36 0-40 2 42 0-33 0-2 0 30 2-30 0 33 0-38 0 36 2 13 0-54 0 3 0 28 2-24 0 31 0-35 0 45 2-20 0-18 0 26 0-36 2 7 0 49 0-14 0-45 2 41 0-22 0-7 0 46 2-9 0-37 0-6 0 48 2-42 0 27 0 12 0-44 2 0 0 30 0-18 0 44 2-51 0 33 0-30 0 36 2 3 0-46 0 10 0 28 2-40 0 40 0-49 0 41 2-27 0 42 0-39 0 32 2 17 0-51 0-2 0 43 2-8 0-30 0 32 0-40 2 46 0-47 0 3 0 50 2 8 0-53 0-3 0 36 2-3 0-40 0 8 0 38 2-37 0 52 0-61 0 47 2 1 0-49 0 11 0 26 2 20 0-41 0 35 2-40 0 39 0-36 0 35 2-2 0-37 0 40 0-36 2 46 0-44 0 23 0-33 2 35 0-35 0 31 0-35 2 54 0-41 0 39 0-48 2 6 0 36 0-34 0 41 2-3 0-44 0 45 0-40 2-15 0 42 0 10 0-43 2 60 0-52 0 27 0-36 2 37 0-29 0-7 0 51 2-21 0-39 0 50 0-42 2 5 0 40 0-2 0-44 2 39 0-30 0 37 0-54 2 45 0-28 0-6 0 42 2-41 0 40 0-40 0 44 2-47 0 35 0-35 0 44 2-32 0 61 0-22 0-47 2 4 0 26 0 14 0-46 2-3 0 41 0 2 0-42 2 3 0 30 0 8 0-32 2-2 0 34 0 1 0-34 2-8 0 28 0-20 0 34 2 4 0-37 0 1 0 41 2-36 0 30 0 13 0-53 2-6 0 44 0-50 0 57 2-46 0 36 0 12 0-40 2 37 0-38 0 25 0-36 2 12 0 39 0-44 0 34 2-33 0 47 0-47 0 37 2-37 0 38 0 4 0-41 2-4 0 43 0-4 0-44 2 0 0 44 0 16 0-49 2 42 0-49 0-5 0 49 2-7 0-38 0 43 0-39 2 7 0 29 0-1 0-32 2-5 0 42 0-39 0 36 2-38 0 44 0-45 0 37 2-36 0 34 0 28 0-63 2 47 0-47 0 44 0-49 2 11 0 45 0-49 0 44 2 1 0-45 0 47 0-52 2 38 0-29 0-3 0 39 2 11 0-52 0 44 0-38 2 50 0-57 0 45 0-39 2 57 0-65 0 59 2-55 0 51 0-56 0 45 2 2 0-35 0-2 0 37 2-37 0 38 0 6 0-50 2 7 0 46 0-11 0-29 2 31 0-39 0-7 0 47 2 2 0-50 0 52 0-52 2 69 0-56 0 32 0-37 2-1 0 45 0-51 0 55 2-3 0-50 0 50 0-43 2-3 0 48 0-48 0 34 2-46 0 52 0 3 0-52 2 11 0 55 0-61 0 59 2-54 0 46 0-48 0 42 2 7 0-50 0 59 0-53 2 0 0 52 0-48 0 33 2 2 0-40 0 38 0-37 2-1 0 42 0-42 0 43 2-1 0-44 0 50 0-38 2 42 0-54 0 39 0-26 2 26 0-49 0 14 0 47 2-15 0-36 0 2 0 48 2-46 0 35 0-41 0 42 2-40 0 50 0-61 0 53 2-46 0 44 0 2 0-41 2-3 0 54 0 8 0-61 2 50 0-57 0 54 0-41 2 48 0-52 0 37 0-38 2 7 0 38 0-40 0 42 2 4 0-57 0 5 0 40 2 12 0-52 0 43 0-44 2 2 0 42 0-42 0 60 2-19 0-35 0-11 0 49 2 5 0-44 0 4 0 40 2-49 0 38 0-3 0-30 2 0 0 43 0-51 0 56 2-1 0-46 0-8 0 57 2-52 0 43 0-38 0 31 2-39 0 48 0-45 0 46 2 2 0-44 0 34 0-39 2 45 0-44 0 44 0-41 2-1 0 43 0-45 0 50 2-4 0-46 0-5 0 67 2-16 0-51 0 46 0-33 2-5 0 50 0-56 0 57 2-7 0-46 0 5 0 31 2-41 0 64 0 9 0-65 2 1 0 48 0-53 0 50 2-46 0 51 0-1 0-45 2-3 0 36 0-44 0 56 2-6 0-48 0 49 0-57 2 64 0-47 0 39 2-51 0 54 0 6 0-53 2 49 0-51 0-4 0 46 2-46 0 58 0-14 0-40 2-1 0 53 0-52 0 47 2-51 0 52 0-46 0 55 2-51 0 31 0-43 0 52 2-44 0 49 0-4 0-48 2 7 0 34 0 8 0-49 2-4 0 50 0 11 0-56 2 42 0-37 0 35 0-42 2 49 0-41 0-12 0 46 2-33 0 40 0 7 0-51 2-1 0 57 0-66 0 58 2-50 0 38 0-39 0 42 2 12 0-51 0 47 0-44 2-12 0 52 0 3 0-48 2 6 0 46 0-47 0 46 2 1 0-46 0-11 0 45 2 28 0-60 0 39 0-43 2-7 0 48 0-40 0 47 2 9 0-58 0 54 0-54 2 46 0-44 0 55 0-58 2-2 0 42 0 5 0-41 2 37 0-46 0 54 0-49 2-3 0 38 0-33 0 57 2 1 0-61 0 1 0 53 2-54 0 50 0-50 0 50 2-3 0-39 0 49 0-52 2 63 0-64 0 55 0-52 2 36 0-35 0-13 0 51 2-48 0 56 0-12 0-43 2 53 0-49 0 2 0 60 2-60 0 45 0-41 2 49 0-59 0 54 0-53 2 59 0-59 0 10 0 47 2 0 0-60 0 4 0 62 2-65 0 56 0-57 0 49 2-38 0 32 0-29 0 57 2-9 0-51 0 38 0-51 2 61 0-55 0 46 0-44 2 50 0-51 0-3 0 50 2 11 0-51 0-8 0 55 2-4 0-50 0-7 0 49 2 15 0-56 0-1 0 48 2-53 0 55 0-45 0 49 2-3 0-41 0 59 0-61 2 48 0-55 0-2 0 53 2 8 0-60 0-2 0 48 2-47 0 43 0 13 0-65" fill="none" stroke="#0072BD" stroke-width="2.8" stroke-linejoin="round" clip-path="url(#clipA)"/>
<path d="M120 189l24 0 22 8 21 13 18 5 18 3 16 10 16 2 14-9 14 0 13-1 12 5 12 23 11 9 11-2 11-3 10-8 9 5 9 15 9 6 9-9 8-2 8 2 8-7 8 0 7 5 7 5 7 2 7-6 7-1 6 6 6 2 6-1 6 1 6 4 6 5 5-3 6-6 5 1 6 4 5 1 5-5 5 11 4 31 5 8 5-11 4-17 5-15 4 2 5 17 4 17 4 5 4-8 4-23 4 0 4 30 4 1 4-17 4 9 3 4 4-2 4 14 3-2 4-21 3-3 4 6 3-5 3 4 4-10 3-17 3 21 3 28 3-18 3-12 3 2 3 7 3 10 3 9 3-3 3-13 3-7 3-1 2-1 3-5 3 0 3 5 2 1 3-2 3 5 2 12 3 5 2-4 3-1 2 2 3-4 2-9 2 5 3 8 2-10 3-4 2 3 2 20 2 0 3-4 2 1 2-9 2-2 3-4 2 1 2 8 2 0 2 5 2 0 2-13 2 13 2-10 2-8 2 10 2 3 2-12 2-2 2 4 2 11 2 20 2-13 2-5 2 11 2-19 1-4 2 11 2 6 2-15 2 1 1 14 2 3 2-7 2 3 1 3 2-9 2 5 2 8 1-15 2-7 2 16 1-8 2-8 2 1 1 10 2-5 1 23 2 2 2-4 1 9 2-17 1 10 2 10 1-19 2-11 1-6 2-1 1-1 2 10 1 19 2-17 1 17 2 5 1-29 2 28 1-11 2-16 1 22 1 0 2-11 1 31 1-27 2-9 1-8 2 1 1 16 1 7 2 15 1-28 1 0 2 11 1 4 1-30 2 28 1 7 1-27 1-1 2 19 1-3 1 22 1-26 2-4 1 5 1 12 1-10 2 18 1-37 1 27 1 9 1-23 2 5 1 23 1-24 1 6 1-6 2 7 1-6 1 2 1 17 1-16 1 20 1-13 2 1 1 8 1 5 1-30 1 7 1 32 1-33 1 12 1-3 2-13 1-1 1 2 1 13 1 1 1 6 1 6 1-25 1 7 1 10 1 3 1-1 1-17 1 19 1 20 1-23 1 19 1-22 1-16 1 29 1-22 1-14 1 15 1 24 1-14 1-4 1-3 1 20 1 19 1-26 1-26 1-3 1 17 1-4 1 14 1-35 1 40 1-10 1 9 1-16 1 3 1 2 0-31 1 21 1 7 1-1 1 10 1-23 1 12 1 36 1-42 1 4 0 19 1-27 1 23 1-7 1-4 1-14 1 46 1-15 0 14 1-38 1 32 1-17 1-3 1-2 1 7 0-10 1 1 1 7 1-16 1 19 1-10 0 12 1-27 1 26 1 6 1 35 1-51 0 8 1 7 1-13 1-22 1 22 0 16 1-26 1-1 1 56 1-12 0-15 1-14 1-13 1 8 1-6 0 9 1 2 1 16 1-26 0 7 1-16 1 2 1 10 0 10 1-5 1 14 1-10 0-3 1-4 1 3 1 17 0-13 1 5 1 18 1-36 0 25 1-33 1 35 0-7 1 23 1-27 1-7 0 17 1-6 1-7 1 18 0 1 1-9 1 7 0-1 1-36 1-7 0 31 1-3 1-9 0-6 1 8 1 39 1-22 0-14 1-7 1 52 0-40 1 6 1-6 0 1 1-6 1 14 0-12 1-5 1 0 0 1 1 4 1-6 0 25 1-15 1 17 0-16 1-5 1 19 0-19 1-11 0 12 1 5 1-13 0 2 1 22 1-26 0-4 1 8 1 6 0 7 1 2 0 2 1-4 1 5 0 3 1-28 1 4 0 22 1 1 0-9 1 30 1-36 0 29 1-32 0 15 1-21 1 15 0-20 1 20 0-16 1 37 1-34 0 23 1 24 0-10 1-17 1-5 0 10 1-34 0 14 1 15 1-14 0 14 1 7 0-19 1 32 0-39 1 17 1-30 0 52 1-42 0 28 1 4 0-35 1 18 1-21 0 32 1-7 0 2 1 10 0-19 1 14 0-16 1 24 1 0 0-24 1 26 0-18 1 5 0-10 1-7 0 4 1-2 1 16 0 20 1-43 0 17 1 20 0-32 1 13 1-7 0-9 1-8 0 23 1-5 0 22 1-13 1-7 0-1 1 3 0 25 1-41 0 22 1 10 0-37 1 26 0 5 1-10 0-15 1-2 0 15 1-6 0 34 1-10 0-19 1 25 0-9 1 19 0-33 1 15 0 8 1-26 0 5 1-11 0-10 1 25 0 4 1-4 0 1 1-18 0 5 1-5 0 5 1 14 0-16 1 36 0-38 1 22 0-7 1 14 0-12 1 13 0-14 1-1 0 18 1-4 0-27 1 5 0 1 0 10 1-15 1 33 0-17 1 10 0-30 1 15 0 17 1-37 0 39 1-30 0 8 1-7 1 15 0 25 0-18 1-38 0 24 1-4 0 6 1-1 0-1 1-13 0 27 1 1 1 9 0-36 0 20 1-9 0 18 1 18 0-41 1-15 1 15 0 24 0-30 1-1 0 26 1-6 0-21 1 38 1-33 0 13 0 5 1 1 0 2 1 8 0-32 0 24 1-19 1 28 0-8 1-11 1 28 0-29 0 7 1-11 0 35 1-19 0-18 0 30 1-32 1 7 0-17 0 28 1-28 1 31 0-3 1-2 1-16 0 32 0-26 1 24 1-31 0 15 0-9 1 3 1-8 0 24 0-17 1 11 0 18 1-38 0 37 0-32 1-11 1 46 0-32 0 35 1-20 1-5 0-29 0 22 2 5 0 41 0-47 1 4 1 11 0-21 0 16 1 13 1-3 0 7 0-24 1 10 1 4 0-17 0 23 0-26 1 4 1-6 0 22 0-26 1 17 1-13 0 21 0 31 2-6 0-38 0-5 1 39 1-43 0 31 0-25 0 44 1-41 1 26 0-28 0 26 2 1 0-39 0-2 0 21 1 8 1-19 0 27 0-9 2-17 0 30 0 5 0-36 1 17 1-9 0 24 0-11 2-4 0-32 0 48 0-40 2 33 0-25 0-6 0 18 1 3 1-2 0 1 0 18 2 11 0-26 0 1 0-34 2 25 0 28 0-30 0 9 2-3 0 9 0 2 0-24 2 26 0-21 0-5 0 25 2-30 0 30 0 16 0-32 2 10 0-4 0 6 0 3 2-4 0-19 0 1 0 25 2-31 0 28 0-17 0 28 2-31 0 14 0 3 0 18 2-17 0-4 0 21 0-28 2-8 0 16 0 11 0-7 2 0 0 18 0-35 0 46 2-20 0-26 0 9 0 12 2 20 0-30 0-22 0 23 2-14 0 23 0-7 0-27 2 8 0 4 0 19 0-19 2 9 0 10 0 6 0-39 2 12 0 11 0 12 0-27 2 29 0-22 0 21 2-17 0 27 0-32 0 40 2-15 0-21 0 14 0-10 2 20 0-20 0 18 0-26 2 13 0 32 0 4 0-58 2 22 0 21 0-3 0-28 2 54 0-43 0 28 0-45 2 0 0 51 0-27 0-15 2-9 0 35 0 9 0-40 2 30 0-28 0 32 0-18 2-20 0 13 0 26 0-42 2 9 0 49 0-43 0 11 2 8 0-25 0 24 0-37 2 10 0 64 0-72 0 43 2-6 0-16 0 17 0-17 2-4 0 24 0-39 0 42 2 0 0-28 0-10 0 65 2-67 0 39 0-18 2 12 0-31 0 13 0 21 2-26 0 23 0 25 0-46 2-8 0 52 0-15 0-18 2-10 0 15 0-1 0-18 2 3 0 40 0-30 0-20 2 28 0-7 0 15 0-15 2 11 0-15 0 7 0-14 2 43 0-42 0 28 0-20 2-4 0 29 0-7 0-18 2-4 0 36 0-15 0-17 2 4 0 39 0-25 0-25 2 21 0-12 0 22 0-45 2 26 0 13 0-27 0 37 2-29 0 36 0-37 0 21 2-8 0-20 0-2 0 28 2-20 0 23 0 11 0-25 2 26 0-30 0-2 0 12 2 2 0-22 0 22 0 23 2-51 0 27 0 32 0-45 2-13 0 31 0 8 0-20 2-11 0 24 0-6 0-37 2 56 0-39 0 34 0-48 2 38 0-31 0 39 0-18 2 6 0-33 0 43 0-23 2-15 0 34 0-25 0 11 2 12 0-15 0 13 0-23 2 31 0-27 0 12 0 28 2-24 0-19 0 38 2-1 0-19 0 22 0-42 2 3 0 45 0 2 0-46 2 71 0-73 0 35 0-19 2-6 0 33 0-24 0 32 2-14 0-28 0-7 0 41 2-13 0-30 0 5 0 43 2-28 0-17 0 24 0-14 2 25 0-35 0 24 2 2 0-28 0-1 0 15 2-17 0 25 0 15 0-41 2 31 0 10 0 4 0-30 2 26 0-32 0 47 0-35 2-16 0 43 0-46 0 45 2-36 0 49 0-5 0-50 2 6 0 28 0-45 0 44 2-5 0-19 0-7 0 20 2 35 0-61 0 32 0-20 2 3 0 34 0 2 0-47 2 10 0 27 0-37 0 36 2-34 0 34 0 12 0-52 2 0 0 55 0-54 0 50 2-23 0-25 0 29 0-19 2 22 0-27 0 26 0-20 2 17 0-15 0 20 0-20 2 8 0-29 0 9 0 40 2-41 0 42 0-48 0 37 2-23 0 46 0-5 0-50 2 0 0 32 0 5 0-33 2 9 0 14 0 8 0-29 2-5 0 38 0-25 0 28 2-34 0 41 0-31 0 27 2-39 0 42 0-42 0 38 2-15 0-16 0 18 0-25 2 59 0-49 0-5 0 24 2 5 0-38 0 7 0 15 2 23 0-42 0 34 0-20 2-16 0 34 0-40 0 39 2 11 0-50 0 13 0 36 2-22 0 35 0-45 0 33 2-38 0 31 0-32 0 31 2-31 0 25 0-6 0-25 2 26 0-27 0 20 0 31 2 2 0-40 0-12 0 32 2-28 0 30 0-37 0 46 2-6 0-32 0 4 0 23 2 15 0-48 0 7 0 22 2-26 0 26 0-1 0-19 2 7 0 29 0-32 0 17 2-28 0 45 0-31 0 14 2 27 0-43 0 21 0-30 2 27 0-18 0-12 0 56 2-48 0 35 0-44 0 36 2-27 0 21 0 2 0-22 2 48 0-44 0 3 0 35 2-5 0-41 0 26 0-40 2 48 0-34 0 39 0-43 2 46 0-27 0 19 0-29 2 27 0-28 0 26 0-25 2 37 0-37 0 21 0-28 2-3 0 40 0-37 0 32 2-12 0 17 0-26 0 16 2-22 0 17 0 7 0-40 2 14 0 40 0-55 0 54 2-2 0-36 0 3 0 34 2-34 0 28 0-29 0 30 2-34 0 28 0-21 0 21 2-21 0 36 0-41 0 31 2 3 0-33 0 1 0 48 2-47 0 40 0-40 0 29 2-44 0 29 0 41 0-62 2 2 0 38 0 20 0-54 2 32 0-38 0 35 0-38 2 9 0 35 0-4 0-46 2 22 0 45 0-54 0 26 2-23 0 43 0-12 0-25 2 2 0 44 0-22 0-32 2 1 0 32 0-12 0-24 2 32 0-22 0 17 0-35 2 71 0-56 0 45 0-44 2 35 0-36 0 3 0 22 2-22 0 48 0-50 0 31 2-36 0 34 0-25 0 22 2 5 0-48 0 42 0-20 2-28 0 64 0-49 0 37 2 11 0-37 0-2 0 18 2-25 0 43 0-40 0 24 2-17 0 24 0 2 0-35 2 7 0 33 0-36 0 28 2-27 0 54 0-52 0 32 2-34 0 23 0-1 0-29 2 47 0-44 0-4 0 35 2-21 0 41 0-5 0-39 2 0 0 40 0-45 0 35 2-8 0-28 0 1 0 43 2-47 0 40 0-6 0-31 2 39 0-43 0-3 0 71 2-20 0-34 0-9 0 44 2-17 0-27 0 43 0-46 2 2 0 34 0-41 0 46 2-40 0 36 0 15 0-54 2 10 0 48 0-25 0-40 2 7 0 42 0-47 0 39 2-28 0 25 0 2 0-33 2 40 0-44 0 4 0 56 2-17 0-45 0 48 0-31 2-3 0 46 0-59 0 71 2-61 0 41 0-37 0 43 2-45 0 50 0-3 0-48 2 3 0 26 0-23 0 40 2-18 0-30 0 49 0-42 2-6 0 44 0 4 0-51 2-4 0 42 0 25 0-57 2 30 0-33 0 29 0-28 2 51 0-51 0 39 0-41 2 6 0 48 0-16 0-40 2 48 0-48 0-1 0 37 2-30 0 54 0 25 0-74 2-6 0 32 0 1 0-36 2 51 0-45 0-11 0 45 2 6 0-30 0 45 0-61 2 58 0-56 0-6 0 47 2-37 0 59 0-27 0-40 2 37 0-31 0 5 0 36 2 7 0-46 0 43 0-47 2 3 0 24 0-17 0 24 2-36 0 41 0-7 0-28 2 40 0-41 0 42 0-43 2 5 0 44 0-49 0 57 2-52 0 32 0-41 0 46 2 0 0-39 0 34 0-34 2 56 0-68 0 14 0 39 2-40 0 38 0-15 0-28 2 2 0 38 0-26 0 28 2-37 0 45 0-1 0-47 2 3 0 42 0-6 0-34 2 44 0-63 0 19 0 34 2-33 0 28 0 5 0-47 2-2 0 68 0-60 0 45 2-34 0 24 0 27 0-61 2 37 0-33 0-6 0 46 2-41 0 36 0-31 0 38 2-39 0 42 0 5 0-59 2 14 0 37 0-44 0 56 2-1 0-48 0 38 0-39 2 3 0 38 0-51 0 52 2-50 0 42 0 18 0-58 2 37 0-41 0 5 0 36 2-35 0 35 0-28 0 32 2-29 0 38 0-12 0-37 2 41 0-35 0 28 0-21 2-8 0 39 0-44 0 47 2 6 0-48 0-6 0 58 2-65 0 55 0-3 0-39 2 43 0-46 0-1 0 51 2-50 0 37 0-42 0 53 2-46 0 38 0 4 0-42 2 28 0-31 0 45 0-44 2 3 0 37 0-31 0 43 2-44 0 36 0-4 0-40 2 47 0-55 0 9 0 29 2 19 0-48 0 52 0-40 2-5 0 34 0 1 0-41 2 42 0-42 0 4 0 40 2-33 0 29 0-35 0 28 2-34 0 48 0 6 0-52 2 44 0-38 0 28 0-37 2 41 0-36 0 51 0-50 2 35 0-32 0 33 2-36 0 32 0-33 0 47 2-54 0 59 0-3 0-55 2 3 0 41 0-43 0 56 2 1 0-57 0-2 0 70 2-20 0-49 0 36 0-40 2 13 0 42 0-48 0 50 2-57 0 50 0-35 0 40 2-50 0 52 0-3 0-54 2 51 0-47 0 47 0-37 2-17 0 63 0-6 0-55 2 3 0 54 0-7 0-39 2 7 0 22 0-28 0 55 2-21 0-32 0-7 0 43 2-45 0 41 0-31 0 31 2-37 0 38 0-33 0 49 2-9 0-38 0-6 0 48 2-13 0-40 0 1 0 45 2 19 0-58 0 34 0-43 2 6 0 41 0-1 0-37 2-2 0 33 0-41 0 50 2-36 0 32 0-28 0 36 2-6 0-34 0 38 0-40 2-1 0 47 0-46 0 45 2-42 0 35 0-35 0 39 2-9 0-35 0 48 0-48 2-1 0 34 0-24 0 33 2-52 0 63 0-50 2 5 0 50 0-22 0-42 2 54 0-41 0-8 0 41 2-34 0 59 0-60 0 49 2-14 0-44 0 42 0-39 2 45 0-53 0 48 0-32 2 49 0-51 0 41 0-52 2-1 0 49 0 9 0-60 2 2 0 52 0-43 0 48 2 6 0-49 0-7 0 53 2-16 0-31 0-2 0 38 2-41 0 49 0 16 0-68 2 41 0-44 0 56 0-50 2 59 0-55 0-6 0 54 2-54 0 63 0-18 0-44 2-5 0 50 0-41 0 50 2-5 0-50 0 51 0-41 2 43 0-47 0 47 0-45 2 38 0-40 0-2 0 55 2-53 0 43 0-43 0 36 2-1 0-42 0 4 0 62 2-14 0-44 0 48 0-47 2 45 0-49 0 43 0-40 2-5 0 66 0-59 0 39 2 7 0-50 0-9 0 54 2 5 0-51 0-5 0 54 2-50 0 35 0-33 0 53 2-1 0-48 0 40 0-41 2-7 0 59 0-18 0-38 2 5 0 42 0-3 0-46 2 56 0-49 0 45 0-49 2 7 0 45 0-47 0 45 2-57 0 53 0-3 0-43 2 60 0-62 0 5 0 48 2-45 0 29 0-37 0 50 2-45 0 45 0 4 0-59 2 10 0 51 0-13 0-41 2 51 0-55 0 55 0-59 2 11 0 48 0 12 0-65 2 0 0 53 0-47 0 42 2 1 0-46 0 8 0 40 2-47 0 72 0-23 0-48 2 66 0-67 0 53 0-49 2 60 0-62 0 65 0-78 2 65 0-56 0 67 0-60 2-2 0 41 0 23 0-63 2 7 0 28 0 15 0-64 2 13 0 41 0-39 0 38 2-40 0 44 0-2 0-47 2 54 0-43 0 53 0-54 2-7 0 64 0-13 0-56 2-5 0 47 0-36 0 45 2-3 0-35 0-6 0 46 2 8 0-47 0-12 0 49 2 10 0-55 0 43 0-44 2 4 0 42 0-45 0 57 2-59 0 44 0 12 0-58 2 51 0-43 0-10 0 51 2-6 0-47 0 51 0-43 2 61 0-60 0 44 0-42 2 48 0-44 0-7 0 52 2 13 0-62 0-9 0 57 2-5 0-46 0 3 0 44 2 4 0-46 0 45 0-44 2-5 0 55 0-10 0-46 2 2 0 49 0 10 0-57 2 1 0 50 0-7 0-50 2 61 0-54 0 40 0-37 2-3 0 42 0-51 0 54 2-49 0 50 0-53 0 64 2-2 0-55 0-1 0 36 2 21 0-58 0-9 0 53 2-46 0 65 0 10 0-70 2 53 0-50 0 62" fill="none" stroke="#D95319" stroke-width="2.8" stroke-linejoin="round" clip-path="url(#clipA)"/>
<path d="M120 197l24-1 22-10 21 1 18 14 18 8 16-8 16 7 14 19 14 4 13-2 12 8 12-8 11-8 11 7 11 6 10 2 9 0 9 17 9 19 9-8 8-7 8 10 8 0 8-3 7 4 7 2 7-4 7 8 7 14 6-10 6-3 6 14 6 2 6 3 6 3 5-11 6 0 5 10 6-6 5-6 5 5 5-3 4-9 5 2 5 6 4 0 5 2 4-1 5-8 4-2 4 5 4 18 4 16 4-6 4-19 4-6 4-1 4-1 3 5 4 18 4 18 3-6 4-18 3-10 4 4 3 14 3 2 4-19 3-13 3 16 3 0 3-2 3 1 3 0 3 10 3 23 3-4 3-16 3 6 3 8 3-4 2-5 3-2 3-1 3 2 2 5 3 10 3 0 2-7 3 10 2 3 3-17 2-13 3-1 2 9 2 9 3-9 2 0 3 5 2-4 2 4 2 6 3-5 2 4 2-2 2-1 3 15 2 8 2 2 2-12 2-6 2-6 2 5 2-3 2 9 2 6 2-17 2-7 2 5 2 16 2-6 2 13 2 7 2-9 2-23 2 11 2 0 1-9 2-2 2 3 2 13 2-14 1 0 2-11 2 13 2 8 1 17 2-13 2 3 2 1 1-1 2-4 2 1 1-4 2 1 2 9 1-10 2 3 1 2 2-1 2-6 1 12 2-1 1 2 2 3 1-15 2-11 1 10 2 30 1-17 2-9 1 16 2-13 1 1 2-3 1 10 2-11 1-8 2 12 1 7 1-21 2 35 1-22 1-11 2 13 1 0 2-9 1 11 1 24 2-30 1-7 1 15 2-20 1 14 1-12 2 19 1 9 1-18 1 8 2 14 1-28 1-5 1 23 2-7 1 29 1-40 1 22 2-5 1-18 1 11 1 9 1-18 2 6 1-12 1 9 1 16 1-36 2 23 1-14 1 12 1-6 1 15 1-4 1-2 2-4 1 17 1 10 1-22 1-14 1 28 1 4 1-9 1-16 2 3 1-4 1 5 1 16 1 0 1-108 1 100 1 13 1-9 1 3 1 7 1-14 1 0 1 0 1 28 1-11 1-17 1 1 1 2 1-7 1 19 1-28 1 34 1-23 1 49 1-64 1 15 1 23 1-27 1 10 1 8 1-10 1-8 1 9 1 5 1 14 1-18 1 6 1-5 1 14 1-6 1 4 0-23 1 19 1-7 1-20 1-6 1 27 1-4 1 7 1-9 1 59 0-45 1-4 1 11 1-28 1 28 1-32 1 9 1 16 0 4 1 1 1-2 1-16 1 13 1-2 1-30 0 36 1-29 1 33 1 11 1-32 1 22 0-11 1-4 1 4 1-26 1 14 1 19 0-1 1 2 1-1 1 9 1-19 0-20 1 6 1 19 1 6 1-13 0 13 1-20 1 24 1-23 1-7 0 3 1 35 1-28 1 18 0-14 1 11 1 11 1-19 0-9 1 1 1-2 1 8 0 1 1 3 1-11 1 16 0-5 1-7 1 0 1-1 0 12 1-5 1 6 0 16 1 26 1-53 1 6 0-12 1 3 1-5 1-6 0 18 1 4 1-17 0 3 1 16 1-1 0 5 1-27 1 25 0 12 1-28 1 13 1-18 0 6 1 40 1-23 0 1 1-7 1-22 0 31 1-8 1 19 0-16 1 11 1-17 0-10 1 34 1-18 0 21 1-30 1 43 0-35 1 2 1 20 0-16 1 21 0-40 1 31 1-17 0-40 1 44 1-2 0 4 1-10 1 4 0 2 1-5 0 4 1 28 1-47 0 18 1-19 1 23 0-4 1 0 0-22 1 16 1 5 0 3 1-2 0 11 1 2 1-3 1-34 0 34 1-8 1 7 0-8 1 6 0 5 1-33 1 17 0 12 1 0 0-12 1 20 1-23 0 25 1-19 1 11 0-9 1-10 1 6 0 9 1-14 0 1 1 3 0-4 1 7 1-7 0 7 1 21 0-32 1 21 0 7 1-16 1-9 1 19 0-6 1-10 0 6 1 0 0 1 1 1 0-6 1-7 1 19 0-5 1-2 0 21 1-21 0-16 1 18 0 1 1-20 0 37 1-2 0-2 1-40 0 27 1 12 1-27 0 30 1-9 0-18 1 4 0-21 1 13 0 10 1 15 0-11 1 20 0-38 1 32 0-6 1-11 0 16 1-25 0 12 1 18 0-19 1-1 0 2 1-1 0 10 1-14 0-7 1 55 0-26 1-24 0 16 1-32 0 44 1-13 0-9 1 7 0-23 1 47 0-14 1-4 0-1 1-38 0 36 1-10 0-4 1 6 0-17 1 18 0 10 1-7 0 1 1-19 0 23 0-37 1 26 1-5 0 24 1-4 0-9 1-22 0 19 1-17 0 20 1 2 0-4 1 5 1 18 0-39 0 31 1-37 0 22 1-8 0 29 1-13 0-28 1 15 0 16 1 33 1-47 0-7 0 7 1 22 0 9 1-28 0 2 1-1 1 44 0-45 0 56 1-52 0-6 1-20 0 26 1-10 1-11 0 40 0-20 1-11 0-14 1 23 0 10 0-21 1 16 1-24 0 18 1-22 1 30 0-12 0 11 1 13 0-7 1 0 0 6 0-33 1 20 1-23 0 31 0-20 1-16 1 13 0 19 1 7 1-2 0 2 0-11 1-3 1 24 0-45 0 12 1 5 1-4 0 14 0-22 1 20 0 21 1-29 0 31 0-50 1 39 1-20 0 19 0-12 1 11 1 10 0 14 0-49 2 12 0-31 0 36 1 1 1-17 0 8 0 4 1 1 1 2 0 19 0-8 1-25 1 5 0 7 0-19 0 31 1-13 1 2 0 6 0-17 1 6 1 12 0 16 0-30 2 18 0-23 0 36 1-27 1 1 0-4 0-25 0 12 1 18 1 2 0 23 0-34 2 9 0 5 0 31 0-41 1 2 1 8 0-7 0 27 2-13 0-26 0 19 0-31 1 31 1 16 0 4 0-32 2-9 0 38 0 9 0-49 2-29 0 44 0 23 0-13 1-4 1-11 0 11 0-14 2 29 0-38 0 66 0-56 2 36 0-34 0 6 0 37 2-44 0 55 0-55 0 38 2 16 0-31 0-19 0 60 2-26 0-28 0 16 0-14 2-22 0 49 0-47 0 32 2-27 0 29 0-22 0 63 2-26 0-41 0 7 0 12 2-7 0 9 0 29 0-41 2-3 0-8 0 15 0-5 2 28 0-17 0 1 0 26 2-54 0 7 0 37 0-34 2 15 0-17 0 44 0-26 2-27 0 38 0-31 0 21 2 7 0 12 0-43 0 40 2-36 0 34 0-26 0 28 2 3 0-36 0 41 0-21 2 37 0-70 0 14 0 32 2-31 0 16 0 4 0-7 2 15 0-22 0-1 0 16 2 14 0-28 0-1 0 10 2-22 0 45 0-31 0-10 2 4 0 23 0-33 0 31 2 0 0-27 0 10 0 62 2-14 0-49 0 38 0-44 2 18 0 21 0-11 0-29 2 38 0-35 0 27 0-33 2 86 0-76 0-10 0 21 2-25 0 43 0-13 0 8 2 12 0-28 0 19 0-25 2 13 0-13 0-1 0-4 2 6 0 18 0 5 0-16 2-10 0 11 0 8 0-26 2 57 0-45 0-13 0 41 2-18 0 23 0-30 0 33 2-11 0-21 0-9 0 21 2 3 0-26 0 24 0-21 2 6 0 14 0-13 0 39 2-28 0-20 0-4 0 26 2 18 0-26 0-12 0 33 2-15 0-12 0 4 0-6 2 8 0 9 0 15 0-35 2 2 0 37 0-33 0 30 2-27 0 22 0 5 0-34 2 19 0-13 0-1 0 14 2 2 0-10 0 29 0-38 2 0 0 41 0-3 0-30 2-19 0 47 0-37 0 15 2 6 0-24 0 3 0 52 2-14 0-29 0-6 0 18 2 20 0-32 0 5 0 28 2-10 0-18 0 21 0-26 2 21 0-19 0 28 0-30 2-9 0 29 0-32 0 32 2-36 0 44 0-29 0-11 2 46 0-35 0-17 0 31 2-16 0 26 0 9 0-33 2 36 0-48 0 12 0 13 2 14 0-29 0-1 0 28 2-1 0-41 0 19 0 41 2-21 0-25 0-1 0 30 2-14 0-5 0-26 0 49 2-4 0-24 0-15 0 27 2 11 0-19 0-12 0 42 2-27 0-14 0 2 0 21 2 3 0-29 0-9 0 30 2 19 0-38 0 12 2-8 0 27 0-12 0-23 2 26 0-15 0 4 0 14 2-16 0 26 0-37 0 61 2-65 0 62 0-55 0 21 2-17 0 16 0-20 0 44 2 0 0-52 0 38 0-18 2 10 0-24 0-2 0 18 2 0 0 12 0-4 0-11 2 4 0 20 0-33 0 42 2-15 0-25 0 25 0-25 2 18 0-18 0-3 0 33 2-6 0-27 0 20 0-13 2-8 0 30 0 20 0-47 2 65 0-68 0 4 0 20 2 34 0-51 0 30 0-36 2-7 0 49 0-18 0-34 2 38 0-16 0 1 0-12 2 30 0-28 0 2 0 37 2-21 0-22 0 3 0 47 2-13 0-24 0 5 0-17 2 17 0-13 0 32 0-35 2-10 0 46 0-2 0-45 2 28 0-15 0 35 0-25 2 24 0-49 0 35 0-23 2 35 0-31 0-5 0 39 2-10 0-21 0 44 0-55 2 46 0-57 0 46 0-25 2-11 0 30 0 8 0-41 2 15 0 36 0-40 0 28 2 9 0-43 0 40 0-29 2-5 0 33 0-39 0 34 2 7 0-18 0-31 0 50 2 3 0-39 0 27 0-20 2-11 0 48 0-25 0-19 2 40 0-45 0 7 0 17 2 2 0-24 0 6 0 34 2-11 0-15 0 29 0-37 2 45 0-46 0-3 0 29 2 17 0-41 0 17 0-23 2 50 0-42 0 20 0-36 2 11 0 31 0-2 0-35 2 9 0 43 0-33 0 18 2-1 0-35 0 48 0-35 2 20 0-24 0-4 0 31 2-16 0-22 0 12 0 42 2-6 0-61 0 10 0 44 2-35 0 37 0 9 0-46 2 17 0-25 0 48 0-38 2 0 0 26 0-4 0-34 2 9 0 38 0 9 0-36 2 27 0-33 0-4 0 53 2-16 0-25 0-10 0 28 2-2 0-32 0 7 0 47 2-61 0 43 0-30 0 23 2 5 0-32 0 2 0 25 2-25 0 26 0-17 0 41 2-44 0 24 0 12 0-45 2 33 0-40 0 53 0-40 2 33 0-36 0 4 0 34 2-29 0 17 0-25 0 37 2-35 0 32 0-36 0 33 2-26 0 47 0-55 0 56 2-54 0 27 0 27 0-53 2 3 0 43 0-41 0 29 2-6 0-28 0-6 0 38 2 2 0-23 0-1 0 28 2-22 0 15 0-29 0 34 2-27 0 23 0 9 0-40 2 32 0-28 0 35 0-42 2 43 0-39 0 39 2 3 0-41 0 8 0 27 2 10 0-45 0 29 0-27 2-6 0 44 0 2 0-37 2-15 0 48 0-1 0-39 2 40 0-38 0 32 0-28 2 27 0-41 0 80 0-68 2 24 0-34 0 21 0 40 2-58 0 31 0 12 0-40 2-7 0 67 0-48 0 35 2 7 0-53 0-8 0 44 2 1 0-31 0 1 0 36 2 8 0-41 0 22 0-21 2 19 0-30 0 28 0-38 2 49 0-37 0 1 0 31 2-28 0 39 0-10 0-31 2 38 0-39 0 46 0-41 2-5 0 39 0-50 2 14 0 29 0-29 0 28 2-30 0 36 0 9 0-59 2 11 0 45 0-42 0 24 2-25 0 41 0-27 0 31 2-21 0-33 0 61 0-66 2 15 0 42 0-17 0-18 2-16 0 61 0-53 0 35 2 5 0-27 0-7 0 29 2 15 0-58 0-5 0 56 2-44 0 29 0-36 0 64 2-63 0 40 0-28 0 42 2-3 0-42 0 36 0-40 2-6 0 55 0-47 0 34 2 7 0-46 0 48 0-44 2 40 0-33 0 53 0-60 2 7 0 56 0-66 0 41 2 22 0-59 0 36 0-30 2 58 0-63 0 35 0-35 2 41 0-38 0 33 0-43 2 55 0-65 0 63 0-40 2 35 0-34 0 39 0-44 2 3 0 20 0 19 0-39 2 40 0-54 0 57 0-53 2 10 0 30 0-26 0 25 2-26 0 35 0-5 0-45 2 57 0-47 0 5 0 33 2-37 0 38 0-33 0 26 2-38 0 55 0-5 0-37 2 44 0-53 0-2 0 31 2-30 0 38 0 8 0-51 2 54 0-42 0 60 0-63 2 44 0-44 0 2 0 36 2 0 0-47 0 8 0 34 2 26 0-58 0-7 0 65 2-69 0 35 0-28 0 39 2-32 0 48 0-53 0 55 2-26 0-24 0 25 0-33 2 10 0 40 0-11 0-24 2 37 0-55 0 41 0-31 2 52 0-53 0 48 0-60 2 52 0-50 0 4 0 30 2-25 0 47 0-61 0 49 2-2 0-27 0 33 0-39 2-3 0 43 0-36 0 32 2-38 0 55 0-57 0 44 2-11 0-41 0 18 0 41 2-62 0 64 0-10 0-44 2 13 0 39 0-10 0-35 2 32 0-36 0 40 0-39 2 46 0-45 0 43 0-45 2 35 0-28 0-1 0 32 2 8 0-44 0 59 0-47 2 34 0-46 0 2 0 39 2-43 0 51 0-49 0 35 2 19 0-50 0-6 0 49 2-51 0 44 0 14 0-45 2-6 0 45 0-6 0-32 2 34 0-33 0 36 0-40 2 46 0-56 0 57 0-58 2-4 0 52 0-44 0 44 2 12 0-54 0-10 0 60 2 1 0-46 0 39 2-6 0-34 0 50 0-46 2-9 0 49 0 17 0-55 2 38 0-45 0 40 0-46 2 55 0-46 0-6 0 62 2-23 0-46 0 45 0-42 2 48 0-39 0 34 0-29 2 0 0 28 0-39 0 44 2-11 0-30 0 6 0 27 2-41 0 45 0-39 0 54 2-64 0 56 0-36 0 29 2-32 0 42 0-5 0-45 2 0 0 40 0-37 0 39 2-36 0 40 0-35 0 56 2-10 0-43 0 33 0-44 2-1 0 45 0-6 0-33 2 40 0-45 0 5 0 32 2-33 0 36 0-46 0 77 2-24 0-38 0 28 0-34 2 44 0-51 0 52 0-42 2-11 0 49 0-6 0-35 2 1 0 45 0-47 0 43 2-44 0 42 0-42 0 38 2-41 0 55 0-64 0 66 2-46 0 43 0-53 0 73 2-66 0 39 0-39 0 39 2-43 0 48 0 6 0-46 2-11 0 47 0-39 0 52 2-60 0 39 0 5 0-40 2 1 0 52 0-55 0 50 2-43 0 46 0 2 0-55 2 58 0-54 0-4 0 45 2-6 0-32 0 40 0-42 2 55 0-63 0-7 0 56 2-46 0 46 0 4 0-46 2 5 0 40 0 5 0-48 2 2 0 44 0-47 0 38 2-32 0 44 0-10 0-41 2 7 0 28 0-37 0 44 2-2 0-46 0 10 0 33 2-40 0 54 0-5 0-43 2 38 0-42 0 47 0-43 2 34 0-29 0-8 0 50 2-1 0-40 0 38 0-45 2-5 0 41 0 11 0-52 2 12 0 48 0-53 0 43 2-8 0-34 0-6 0 43 2 4 0-50 0 6 0 56 2-53 0 38 0-1 0-45 2 8 0 33 0 3 0-38 2 37 0-49 0 12 0 43 2 1 0-47 0 51 0-53 2 4 0 54 0-6 0-55 2 47 0-44 0 7 0 48 2-48 0 60 0-25 0-37 2 2 0 56 0-68 0 64 2-56 0 40 0 11 0-55 2 6 0 47 0-53 2 5 0 42 0-2 0-40 2 9 0 49 0-61 0 48 2 4 0-44 0-3 0 41 2-43 0 45 0-46 0 46 2-42 0 59 0-55 0 34 2 18 0-52 0-12 0 41 2-37 0 53 0-1 0-48 2-6 0 47 0-39 0 42 2 4 0-52 0 62 0-64 2 3 0 50 0-44 0 41 2-7 0-42 0 7 0 49 2-54 0 56 0-51 0 45 2-42 0 41 0 6 0-58 2 48 0-43 0 8 0 40 2 7 0-56 0 59 0-54 2 43 0-46 0 58 0-61 2 1 0 50 0 4 0-50 2 47 0-43 0-6 0 68 2-25 0-41 0 38 0-36 2 4 0 49 0-56 0 54 2-56 0 55 0-4 0-57 2 3 0 47 0-43 0 42 2 7 0-48 0 41 0-43 2 11 0 53 0-15 0-42 2 37 0-43 0 2 0 53 2-56 0 77 0-29 0-44 2-1 0 57 0-64 0 45 2-40 0 48 0 16 0-68 2 9 0 59 0-15 0-48 2 60 0-51 0-3 0 46 2-4 0-48 0 56 2-50 0 42 0-50 0 55 2-53 0 48 0 2 0-50 2 51 0-48 0 46 0-56 2 58 0-46 0-2 0 43 2-47 0 41 0 15 0-52 2 4 0 40 0 7 0-58 2 10 0 61 0-67 0 55 2 1 0-55 0 57 0-55 2 38 0-34 0 48 0-53 2 1 0 48 0-4 0-47 2 11 0 51 0-24 0-37 2 1 0 39 0-42 0 47 2 13 0-58 0 46 0-44 2 37 0-35 0-5 0 70 2-14 0-62 0 56 0-50 2 49 0-51 0 6 0 57 2-55 0 46 0-51 0 54 2-12 0-40 0 1 0 54 2-3 0-48 0 37 0-40 2 0 0 45 0-47 0 49 2-54 0 57 0-50 0 51 2-13 0-44 0 9 0 41 2-41 0 38 0 10 0-50 2 57 0-59 0-2 0 53 2-48 0 49 0-62 0 50 2 12 0-57 0 64 0-56 2 39 0-38 0 50 0-50 2 52 0-58 0 6 0 43" fill="none" stroke="#EDB120" stroke-width="2.8" stroke-linejoin="round" clip-path="url(#clipA)"/>
<rect x="120" y="62.6" width="1754" height="435.3" fill="none" stroke="#262626" stroke-width="3.2"/>
<line x1="120" y1="497.9" x2="120" y2="479.9" stroke="#262626" stroke-width="3"/>
<line x1="120" y1="62.6" x2="120" y2="80.6" stroke="#262626" stroke-width="3"/>
<line x1="296" y1="497.9" x2="296" y2="488.4" stroke="#262626" stroke-width="3"/>
<line x1="296" y1="62.6" x2="296" y2="72.1" stroke="#262626" stroke-width="3"/>
<line x1="399" y1="497.9" x2="399" y2="488.4" stroke="#262626" stroke-width="3"/>
<line x1="399" y1="62.6" x2="399" y2="72.1" stroke="#262626" stroke-width="3"/>
<line x1="472" y1="497.9" x2="472" y2="488.4" stroke="#262626" stroke-width="3"/>
<line x1="472" y1="62.6" x2="472" y2="72.1" stroke="#262626" stroke-width="3"/>
<line x1="528.7" y1="497.9" x2="528.7" y2="488.4" stroke="#262626" stroke-width="3"/>
<line x1="528.7" y1="62.6" x2="528.7" y2="72.1" stroke="#262626" stroke-width="3"/>
<line x1="575" y1="497.9" x2="575" y2="488.4" stroke="#262626" stroke-width="3"/>
<line x1="575" y1="62.6" x2="575" y2="72.1" stroke="#262626" stroke-width="3"/>
<line x1="614.1" y1="497.9" x2="614.1" y2="488.4" stroke="#262626" stroke-width="3"/>
<line x1="614.1" y1="62.6" x2="614.1" y2="72.1" stroke="#262626" stroke-width="3"/>
<line x1="648" y1="497.9" x2="648" y2="488.4" stroke="#262626" stroke-width="3"/>
<line x1="648" y1="62.6" x2="648" y2="72.1" stroke="#262626" stroke-width="3"/>
<line x1="677.9" y1="497.9" x2="677.9" y2="488.4" stroke="#262626" stroke-width="3"/>
<line x1="677.9" y1="62.6" x2="677.9" y2="72.1" stroke="#262626" stroke-width="3"/>
<line x1="704.7" y1="497.9" x2="704.7" y2="479.9" stroke="#262626" stroke-width="3"/>
<line x1="704.7" y1="62.6" x2="704.7" y2="80.6" stroke="#262626" stroke-width="3"/>
<line x1="880.7" y1="497.9" x2="880.7" y2="488.4" stroke="#262626" stroke-width="3"/>
<line x1="880.7" y1="62.6" x2="880.7" y2="72.1" stroke="#262626" stroke-width="3"/>
<line x1="983.6" y1="497.9" x2="983.6" y2="488.4" stroke="#262626" stroke-width="3"/>
<line x1="983.6" y1="62.6" x2="983.6" y2="72.1" stroke="#262626" stroke-width="3"/>
<line x1="1056.7" y1="497.9" x2="1056.7" y2="488.4" stroke="#262626" stroke-width="3"/>
<line x1="1056.7" y1="62.6" x2="1056.7" y2="72.1" stroke="#262626" stroke-width="3"/>
<line x1="1113.3" y1="497.9" x2="1113.3" y2="488.4" stroke="#262626" stroke-width="3"/>
<line x1="1113.3" y1="62.6" x2="1113.3" y2="72.1" stroke="#262626" stroke-width="3"/>
<line x1="1159.6" y1="497.9" x2="1159.6" y2="488.4" stroke="#262626" stroke-width="3"/>
<line x1="1159.6" y1="62.6" x2="1159.6" y2="72.1" stroke="#262626" stroke-width="3"/>
<line x1="1198.8" y1="497.9" x2="1198.8" y2="488.4" stroke="#262626" stroke-width="3"/>
<line x1="1198.8" y1="62.6" x2="1198.8" y2="72.1" stroke="#262626" stroke-width="3"/>
<line x1="1232.7" y1="497.9" x2="1232.7" y2="488.4" stroke="#262626" stroke-width="3"/>
<line x1="1232.7" y1="62.6" x2="1232.7" y2="72.1" stroke="#262626" stroke-width="3"/>
<line x1="1262.6" y1="497.9" x2="1262.6" y2="488.4" stroke="#262626" stroke-width="3"/>
<line x1="1262.6" y1="62.6" x2="1262.6" y2="72.1" stroke="#262626" stroke-width="3"/>
<line x1="1289.3" y1="497.9" x2="1289.3" y2="479.9" stroke="#262626" stroke-width="3"/>
<line x1="1289.3" y1="62.6" x2="1289.3" y2="80.6" stroke="#262626" stroke-width="3"/>
<line x1="1465.3" y1="497.9" x2="1465.3" y2="488.4" stroke="#262626" stroke-width="3"/>
<line x1="1465.3" y1="62.6" x2="1465.3" y2="72.1" stroke="#262626" stroke-width="3"/>
<line x1="1568.3" y1="497.9" x2="1568.3" y2="488.4" stroke="#262626" stroke-width="3"/>
<line x1="1568.3" y1="62.6" x2="1568.3" y2="72.1" stroke="#262626" stroke-width="3"/>
<line x1="1641.3" y1="497.9" x2="1641.3" y2="488.4" stroke="#262626" stroke-width="3"/>
<line x1="1641.3" y1="62.6" x2="1641.3" y2="72.1" stroke="#262626" stroke-width="3"/>
<line x1="1698" y1="497.9" x2="1698" y2="488.4" stroke="#262626" stroke-width="3"/>
<line x1="1698" y1="62.6" x2="1698" y2="72.1" stroke="#262626" stroke-width="3"/>
<line x1="1744.3" y1="497.9" x2="1744.3" y2="488.4" stroke="#262626" stroke-width="3"/>
<line x1="1744.3" y1="62.6" x2="1744.3" y2="72.1" stroke="#262626" stroke-width="3"/>
<line x1="1783.4" y1="497.9" x2="1783.4" y2="488.4" stroke="#262626" stroke-width="3"/>
<line x1="1783.4" y1="62.6" x2="1783.4" y2="72.1" stroke="#262626" stroke-width="3"/>
<line x1="1817.3" y1="497.9" x2="1817.3" y2="488.4" stroke="#262626" stroke-width="3"/>
<line x1="1817.3" y1="62.6" x2="1817.3" y2="72.1" stroke="#262626" stroke-width="3"/>
<line x1="1847.2" y1="497.9" x2="1847.2" y2="488.4" stroke="#262626" stroke-width="3"/>
<line x1="1847.2" y1="62.6" x2="1847.2" y2="72.1" stroke="#262626" stroke-width="3"/>
<line x1="1874" y1="497.9" x2="1874" y2="479.9" stroke="#262626" stroke-width="3"/>
<line x1="1874" y1="62.6" x2="1874" y2="80.6" stroke="#262626" stroke-width="3"/>
<line x1="120" y1="472.4" x2="129.5" y2="472.4" stroke="#262626" stroke-width="3"/>
<line x1="1874" y1="472.4" x2="1864.5" y2="472.4" stroke="#262626" stroke-width="3"/>
<line x1="120" y1="445.7" x2="129.5" y2="445.7" stroke="#262626" stroke-width="3"/>
<line x1="1874" y1="445.7" x2="1864.5" y2="445.7" stroke="#262626" stroke-width="3"/>
<line x1="120" y1="426.7" x2="129.5" y2="426.7" stroke="#262626" stroke-width="3"/>
<line x1="1874" y1="426.7" x2="1864.5" y2="426.7" stroke="#262626" stroke-width="3"/>
<line x1="120" y1="412" x2="129.5" y2="412" stroke="#262626" stroke-width="3"/>
<line x1="1874" y1="412" x2="1864.5" y2="412" stroke="#262626" stroke-width="3"/>
<line x1="120" y1="400" x2="129.5" y2="400" stroke="#262626" stroke-width="3"/>
<line x1="1874" y1="400" x2="1864.5" y2="400" stroke="#262626" stroke-width="3"/>
<line x1="120" y1="389.8" x2="129.5" y2="389.8" stroke="#262626" stroke-width="3"/>
<line x1="1874" y1="389.8" x2="1864.5" y2="389.8" stroke="#262626" stroke-width="3"/>
<line x1="120" y1="381" x2="129.5" y2="381" stroke="#262626" stroke-width="3"/>
<line x1="1874" y1="381" x2="1864.5" y2="381" stroke="#262626" stroke-width="3"/>
<line x1="120" y1="373.2" x2="129.5" y2="373.2" stroke="#262626" stroke-width="3"/>
<line x1="1874" y1="373.2" x2="1864.5" y2="373.2" stroke="#262626" stroke-width="3"/>
<line x1="120" y1="366.3" x2="139" y2="366.3" stroke="#262626" stroke-width="3"/>
<line x1="1874" y1="366.3" x2="1855" y2="366.3" stroke="#262626" stroke-width="3"/>
<line x1="120" y1="320.6" x2="129.5" y2="320.6" stroke="#262626" stroke-width="3"/>
<line x1="1874" y1="320.6" x2="1864.5" y2="320.6" stroke="#262626" stroke-width="3"/>
<line x1="120" y1="293.8" x2="129.5" y2="293.8" stroke="#262626" stroke-width="3"/>
<line x1="1874" y1="293.8" x2="1864.5" y2="293.8" stroke="#262626" stroke-width="3"/>
<line x1="120" y1="274.9" x2="129.5" y2="274.9" stroke="#262626" stroke-width="3"/>
<line x1="1874" y1="274.9" x2="1864.5" y2="274.9" stroke="#262626" stroke-width="3"/>
<line x1="120" y1="260.2" x2="129.5" y2="260.2" stroke="#262626" stroke-width="3"/>
<line x1="1874" y1="260.2" x2="1864.5" y2="260.2" stroke="#262626" stroke-width="3"/>
<line x1="120" y1="248.1" x2="129.5" y2="248.1" stroke="#262626" stroke-width="3"/>
<line x1="1874" y1="248.1" x2="1864.5" y2="248.1" stroke="#262626" stroke-width="3"/>
<line x1="120" y1="238" x2="129.5" y2="238" stroke="#262626" stroke-width="3"/>
<line x1="1874" y1="238" x2="1864.5" y2="238" stroke="#262626" stroke-width="3"/>
<line x1="120" y1="229.2" x2="129.5" y2="229.2" stroke="#262626" stroke-width="3"/>
<line x1="1874" y1="229.2" x2="1864.5" y2="229.2" stroke="#262626" stroke-width="3"/>
<line x1="120" y1="221.4" x2="129.5" y2="221.4" stroke="#262626" stroke-width="3"/>
<line x1="1874" y1="221.4" x2="1864.5" y2="221.4" stroke="#262626" stroke-width="3"/>
<line x1="120" y1="214.5" x2="139" y2="214.5" stroke="#262626" stroke-width="3"/>
<line x1="1874" y1="214.5" x2="1855" y2="214.5" stroke="#262626" stroke-width="3"/>
<line x1="120" y1="168.7" x2="129.5" y2="168.7" stroke="#262626" stroke-width="3"/>
<line x1="1874" y1="168.7" x2="1864.5" y2="168.7" stroke="#262626" stroke-width="3"/>
<line x1="120" y1="142" x2="129.5" y2="142" stroke="#262626" stroke-width="3"/>
<line x1="1874" y1="142" x2="1864.5" y2="142" stroke="#262626" stroke-width="3"/>
<line x1="120" y1="123" x2="129.5" y2="123" stroke="#262626" stroke-width="3"/>
<line x1="1874" y1="123" x2="1864.5" y2="123" stroke="#262626" stroke-width="3"/>
<line x1="120" y1="108.3" x2="129.5" y2="108.3" stroke="#262626" stroke-width="3"/>
<line x1="1874" y1="108.3" x2="1864.5" y2="108.3" stroke="#262626" stroke-width="3"/>
<line x1="120" y1="96.3" x2="129.5" y2="96.3" stroke="#262626" stroke-width="3"/>
<line x1="1874" y1="96.3" x2="1864.5" y2="96.3" stroke="#262626" stroke-width="3"/>
<line x1="120" y1="86.1" x2="129.5" y2="86.1" stroke="#262626" stroke-width="3"/>
<line x1="1874" y1="86.1" x2="1864.5" y2="86.1" stroke="#262626" stroke-width="3"/>
<line x1="120" y1="77.3" x2="129.5" y2="77.3" stroke="#262626" stroke-width="3"/>
<line x1="1874" y1="77.3" x2="1864.5" y2="77.3" stroke="#262626" stroke-width="3"/>
<line x1="120" y1="69.5" x2="129.5" y2="69.5" stroke="#262626" stroke-width="3"/>
<line x1="1874" y1="69.5" x2="1864.5" y2="69.5" stroke="#262626" stroke-width="3"/>
<line x1="120" y1="62.6" x2="139" y2="62.6" stroke="#262626" stroke-width="3"/>
<line x1="1874" y1="62.6" x2="1855" y2="62.6" stroke="#262626" stroke-width="3"/>
<rect x="1709.5" y="81" width="146.3" height="337.5" fill="#fff" stroke="#262626" stroke-width="3.2"/>
<line x1="1715" y1="99" x2="1759.5" y2="99" stroke="#0072BD" stroke-width="3"/>
<text x="1772.3" y="108.3" font-size="23.71" textLength="61.3" lengthAdjust="spacingAndGlyphs">10nT</text>
<line x1="1715" y1="132.3" x2="1759.5" y2="132.3" stroke="#D95319" stroke-width="3"/>
<text x="1773" y="141.6" font-size="23.71" textLength="60.6" lengthAdjust="spacingAndGlyphs">20nT</text>
<line x1="1715" y1="165.6" x2="1759.5" y2="165.6" stroke="#EDB120" stroke-width="3"/>
<text x="1773.3" y="174.9" font-size="23.71" textLength="60.3" lengthAdjust="spacingAndGlyphs">30nT</text>
<line x1="1715" y1="198.9" x2="1759.5" y2="198.9" stroke="#7E2F8E" stroke-width="3"/>
<text x="1773.5" y="208.2" font-size="23.71" textLength="60.1" lengthAdjust="spacingAndGlyphs">40nT</text>
<line x1="1715" y1="232.2" x2="1759.5" y2="232.2" stroke="#77AC30" stroke-width="3"/>
<text x="1773.1" y="241.5" font-size="23.71" textLength="60.5" lengthAdjust="spacingAndGlyphs">50nT</text>
<line x1="1715" y1="265.5" x2="1759.5" y2="265.5" stroke="#4DBEEE" stroke-width="3"/>
<text x="1772.9" y="274.8" font-size="23.71" textLength="60.7" lengthAdjust="spacingAndGlyphs">60nT</text>
<line x1="1715" y1="298.8" x2="1759.5" y2="298.8" stroke="#A2142F" stroke-width="3"/>
<text x="1772.8" y="308.1" font-size="23.71" textLength="60.8" lengthAdjust="spacingAndGlyphs">70nT</text>
<line x1="1715" y1="332.1" x2="1759.5" y2="332.1" stroke="#0072BD" stroke-width="3"/>
<text x="1773.1" y="341.4" font-size="23.71" textLength="60.5" lengthAdjust="spacingAndGlyphs">80nT</text>
<line x1="1715" y1="365.4" x2="1759.5" y2="365.4" stroke="#D95319" stroke-width="3"/>
<text x="1773" y="374.7" font-size="23.71" textLength="60.6" lengthAdjust="spacingAndGlyphs">90nT</text>
<line x1="1715" y1="398.7" x2="1759.5" y2="398.7" stroke="#EDB120" stroke-width="3"/>
<text x="1772.3" y="408" font-size="23.71" textLength="75.9" lengthAdjust="spacingAndGlyphs">100nT</text>
<text x="96.3" y="530.7" font-size="31.38">10</text>
<text x="135.2" y="520.4" font-size="16.63">0</text>
<text x="678.6" y="530.7" font-size="31.38">10</text>
<text x="715" y="520.2" font-size="16.63">1</text>
<text x="1258.4" y="530.7" font-size="31.38">10</text>
<text x="1296.8" y="520.4" font-size="16.63">2</text>
<text x="1833.3" y="530.7" font-size="31.38">10</text>
<text x="1871.8" y="520.4" font-size="16.63">3</text>
<text x="67.7" y="78.7" font-size="34.35">10</text>
<text x="105" y="67.4" font-size="18.20">3</text>
<text x="67.8" y="228.3" font-size="32.08">10</text>
<text x="105.7" y="217.8" font-size="17.00">2</text>
<text x="67.9" y="379.6" font-size="31.10">10</text>
<text x="105.8" y="369.2" font-size="16.48">1</text>
<text x="793.4" y="38.9" font-size="49.45" textLength="513.6" lengthAdjust="spacingAndGlyphs">Single Channel Output</text>
<text x="3.3" y="44.5" font-size="48.29" textLength="63.4" lengthAdjust="spacingAndGlyphs">(A)</text>
<text transform="translate(39.6 506) rotate(-90)" font-size="35.49" textLength="438" lengthAdjust="spacingAndGlyphs">Single Channel Output [pT]</text>
<text x="874.5" y="552.4" font-size="34.04" textLength="245.4" lengthAdjust="spacingAndGlyphs">Frequency [Hz]</text>
<line x1="684" y1="41" x2="684" y2="59" stroke="#dedede" stroke-width="3"/>
<line x1="132.8" y1="737" x2="132.8" y2="1231" stroke="#e0e0e0" stroke-width="1.8"/>
<line x1="153.4" y1="737" x2="153.4" y2="1231" stroke="#e0e0e0" stroke-width="1.8"/>
<line x1="173.2" y1="737" x2="173.2" y2="1231" stroke="#e0e0e0" stroke-width="1.8"/>
<line x1="192.3" y1="737" x2="192.3" y2="1231" stroke="#e0e0e0" stroke-width="1.8"/>
<line x1="210.8" y1="737" x2="210.8" y2="1231" stroke="#e0e0e0" stroke-width="1.8"/>
<line x1="228.7" y1="737" x2="228.7" y2="1231" stroke="#e0e0e0" stroke-width="1.8"/>
<line x1="246" y1="737" x2="246" y2="1231" stroke="#e0e0e0" stroke-width="1.8"/>
<line x1="262.7" y1="737" x2="262.7" y2="1231" stroke="#e0e0e0" stroke-width="1.8"/>
<line x1="279" y1="737" x2="279" y2="1231" stroke="#e0e0e0" stroke-width="1.8"/>
<line x1="294.8" y1="737" x2="294.8" y2="1231" stroke="#e0e0e0" stroke-width="1.8"/>
<line x1="310.2" y1="737" x2="310.2" y2="1231" stroke="#e0e0e0" stroke-width="1.8"/>
<line x1="325.1" y1="737" x2="325.1" y2="1231" stroke="#e0e0e0" stroke-width="1.8"/>
<line x1="339.6" y1="737" x2="339.6" y2="1231" stroke="#e0e0e0" stroke-width="1.8"/>
<line x1="353.8" y1="737" x2="353.8" y2="1231" stroke="#e0e0e0" stroke-width="1.8"/>
<line x1="367.6" y1="737" x2="367.6" y2="1231" stroke="#e0e0e0" stroke-width="1.8"/>
<line x1="381.1" y1="737" x2="381.1" y2="1231" stroke="#e0e0e0" stroke-width="1.8"/>
<line x1="394.2" y1="737" x2="394.2" y2="1231" stroke="#e0e0e0" stroke-width="1.8"/>
<line x1="407" y1="737" x2="407" y2="1231" stroke="#e0e0e0" stroke-width="1.8"/>
<line x1="419.5" y1="737" x2="419.5" y2="1231" stroke="#e0e0e0" stroke-width="1.8"/>
<line x1="431.8" y1="737" x2="431.8" y2="1231" stroke="#e0e0e0" stroke-width="1.8"/>
<line x1="443.8" y1="737" x2="443.8" y2="1231" stroke="#e0e0e0" stroke-width="1.8"/>
<line x1="455.5" y1="737" x2="455.5" y2="1231" stroke="#e0e0e0" stroke-width="1.8"/>
<line x1="467" y1="737" x2="467" y2="1231" stroke="#e0e0e0" stroke-width="1.8"/>
<line x1="478.2" y1="737" x2="478.2" y2="1231" stroke="#e0e0e0" stroke-width="1.8"/>
<line x1="489.2" y1="737" x2="489.2" y2="1231" stroke="#e0e0e0" stroke-width="1.8"/>
<line x1="500" y1="737" x2="500" y2="1231" stroke="#e0e0e0" stroke-width="1.8"/>
<line x1="510.6" y1="737" x2="510.6" y2="1231" stroke="#e0e0e0" stroke-width="1.8"/>
<line x1="521" y1="737" x2="521" y2="1231" stroke="#e0e0e0" stroke-width="1.8"/>
<line x1="531.2" y1="737" x2="531.2" y2="1231" stroke="#e0e0e0" stroke-width="1.8"/>
<line x1="541.2" y1="737" x2="541.2" y2="1231" stroke="#e0e0e0" stroke-width="1.8"/>
<line x1="551" y1="737" x2="551" y2="1231" stroke="#e0e0e0" stroke-width="1.8"/>
<line x1="560.6" y1="737" x2="560.6" y2="1231" stroke="#e0e0e0" stroke-width="1.8"/>
<line x1="570.1" y1="737" x2="570.1" y2="1231" stroke="#e0e0e0" stroke-width="1.8"/>
<line x1="579.4" y1="737" x2="579.4" y2="1231" stroke="#e0e0e0" stroke-width="1.8"/>
<line x1="588.6" y1="737" x2="588.6" y2="1231" stroke="#e0e0e0" stroke-width="1.8"/>
<line x1="597.6" y1="737" x2="597.6" y2="1231" stroke="#e0e0e0" stroke-width="1.8"/>
<line x1="606.5" y1="737" x2="606.5" y2="1231" stroke="#e0e0e0" stroke-width="1.8"/>
<line x1="116.5" y1="1133" x2="609.5" y2="1133" stroke="#d6d6d6" stroke-width="2"/>
<line x1="116.5" y1="1023.1" x2="609.5" y2="1023.1" stroke="#d6d6d6" stroke-width="2"/>
<line x1="116.5" y1="945.2" x2="609.5" y2="945.2" stroke="#d6d6d6" stroke-width="2"/>
<line x1="116.5" y1="884.7" x2="609.5" y2="884.7" stroke="#d6d6d6" stroke-width="2"/>
<line x1="116.5" y1="835.3" x2="609.5" y2="835.3" stroke="#d6d6d6" stroke-width="2"/>
<line x1="116.5" y1="793.5" x2="609.5" y2="793.5" stroke="#d6d6d6" stroke-width="2"/>
<line x1="116.5" y1="757.3" x2="609.5" y2="757.3" stroke="#d6d6d6" stroke-width="2"/>
<polyline points="111.4,965.1 122.2,1014.2 132.8,1040 143.2,1017.2 153.4,967.1 163.4,948.2 173.2,948.2 182.8,962 192.3,1028.5 201.6,1103.6 210.8,1056.6 219.8,977.1 228.7,1000.6 237.4,1023.8 246,1018.4 254.4,1018.8 262.7,1050.1 270.9,1096.7 279,1090.2 287,1063 294.8,1103.9 302.5,1130.2 310.2,1061.5 317.7,1003.1 325.1,1000.7 332.4,1043.1 339.6,1079.1 346.8,1043.5 353.8,978.1 360.7,998.5 367.6,1033.4 374.4,1128.9 381.1,1132.9 387.7,1098.1 394.2,1077.1 400.6,1082.1 407,1083.3 413.3,1100.3 419.5,1124.4 425.7,1111.8 431.8,1108.1 437.8,1142.9 443.8,1121.5 449.7,1066.8 455.5,1059.9 461.3,1070 467,1108.1 472.6,1147.9 478.2,1133.5 483.7,1111.3 489.2,1117.4 494.6,1113.4 500,1086.3 505.3,1079.9 510.6,1090.1 515.8,1075 521,1074.8 526.1,1059.4 531.2,1039.8 536.2,1033.9 541.2,1042.6 546.1,1043.8 551,1067.6 555.8,1172.3 560.6,1163.7 565.4,1127.6 570.1,1187.8 574.8,1141.4 579.4,1131.1 584,1188.3 588.6,1168.3 593.1,1100 597.6,1098.6 602.1,1148.8 606.5,1172 610.8,1156.8" fill="none" stroke="#0072BD" stroke-width="1.7" opacity="0.72" stroke-linejoin="round" clip-path="url(#clipB)"/>
<polyline points="111.4,938.4 122.2,923.9 132.8,1013.8 143.2,1046.8 153.4,979.6 163.4,1011.3 173.2,1070 182.8,1059.9 192.3,1049.7 201.6,1048.9 210.8,1087 219.8,1103.5 228.7,1045.1 237.4,1017.8 246,1020.6 254.4,1023.8 262.7,1025.6 270.9,1024.4 279,1061.9 287,1090.7 294.8,1063.7 302.5,1026.8 310.2,1018.5 317.7,1003 325.1,1015.7 332.4,1082.8 339.6,1116.4 346.8,1105.5 353.8,1007.4 360.7,967.5 367.6,1001.8 374.4,1070.2 381.1,1055 387.7,1056.9 394.2,1083.6 400.6,1080 407,1063.7 413.3,1065.9 419.5,1063.1 425.7,1035.6 431.8,1003.7 437.8,997.6 443.8,1053.1 449.7,1108.1 455.5,1054.2 461.3,1062.3 467,1088 472.6,1111.9 478.2,1130.2 483.7,1061 489.2,1029.8 494.6,1050.5 500,1058.5 505.3,1082 510.6,1116.7 515.8,1113.6 521,1116.2 526.1,1165.9 531.2,1209.7 536.2,1211.4 541.2,1145.9 546.1,1093.7 551,1079.6 555.8,1053.1 560.6,1046.6 565.4,1053.1 570.1,1082 574.8,1086.9 579.4,1075.5 584,1082.6 588.6,1088.6 593.1,1066.1 597.6,1078.9 602.1,1119.3 606.5,1092.6 610.8,1129.7" fill="none" stroke="#D95319" stroke-width="1.7" opacity="0.72" stroke-linejoin="round" clip-path="url(#clipB)"/>
<polyline points="111.4,966.5 122.2,1035.9 132.8,1090.9 143.2,1072.5 153.4,1005 163.4,946.2 173.2,955.3 182.8,983.4 192.3,1013.1 201.6,1103.5 210.8,1106.7 219.8,1026.6 228.7,1023.6 237.4,1059 246,1062 254.4,1047.6 262.7,1082.6 270.9,1120.3 279,1101.3 287,1083 294.8,1067.4 302.5,1081.1 310.2,1096 317.7,1025.6 325.1,985.4 332.4,1043.6 339.6,1119.1 346.8,1065.5 353.8,1014.8 360.7,974 367.6,992.3 374.4,1077.9 381.1,1031.3 387.7,1031.7 394.2,1032.6 400.6,1045.9 407,1081.6 413.3,1093.6 419.5,1097.8 425.7,1089.1 431.8,1037.5 437.8,1026.5 443.8,1074 449.7,1112.8 455.5,1098.9 461.3,1089 467,1083.5 472.6,1049.2 478.2,1070.4 483.7,1106.5 489.2,1068.5 494.6,1049.7 500,1075.5 505.3,1095.7 510.6,1088.7 515.8,1089.9 521,1113.9 526.1,1132.8 531.2,1120.8 536.2,1082.7 541.2,1043.9 546.1,1032.3 551,1033 555.8,1045.3 560.6,1093 565.4,1075.1 570.1,1070 574.8,1094.1 579.4,1146.3 584,1124.3 588.6,1105.7 593.1,1138.5 597.6,1169.6 602.1,1210.7 606.5,1151.7 610.8,1065.1" fill="none" stroke="#EDB120" stroke-width="1.7" opacity="0.72" stroke-linejoin="round" clip-path="url(#clipB)"/>
<polyline points="111.4,956.4 122.2,953.1 132.8,920.7 143.2,906.9 153.4,913.2 163.4,917.8 173.2,916.1 182.8,928.8 192.3,983.6 201.6,999.9 210.8,961.7 219.8,959.2 228.7,979.5 237.4,1005.4 246,986.5 254.4,953 262.7,958.6 270.9,1018 279,1070.9 287,1068.1 294.8,1072.1 302.5,1057.5 310.2,1080.4 317.7,1125.8 325.1,1080 332.4,1085 339.6,1121.8 346.8,1043.2 353.8,1034.5 360.7,996.8 367.6,1016.5 374.4,1033.1 381.1,1041.2 387.7,1106 394.2,1093.8 400.6,1073.2 407,1046.9 413.3,1020 419.5,1047.5 425.7,1080.7 431.8,1065.1 437.8,1043.3 443.8,1034.6 449.7,1092.1 455.5,1135.3 461.3,1100.9 467,1112.9 472.6,1111 478.2,1109.7 483.7,1153.7 489.2,1133 494.6,1060.9 500,1051.6 505.3,1059.3 510.6,1058.2 515.8,1077.7 521,1093.2 526.1,1143.4 531.2,1140.8 536.2,1132.2 541.2,1097.2 546.1,1094 551,1164.7 555.8,1090 560.6,1034 565.4,1041.1 570.1,1116.1 574.8,1086.7 579.4,1128.4 584,1159.4 588.6,1119.7 593.1,1113.3 597.6,1080 602.1,1096.5 606.5,1091.1 610.8,1119.8" fill="none" stroke="#7E2F8E" stroke-width="1.7" opacity="0.72" stroke-linejoin="round" clip-path="url(#clipB)"/>
<polyline points="111.4,998.6 122.2,960 132.8,947.1 143.2,976.1 153.4,996.6 163.4,989.5 173.2,995.7 182.8,1014.6 192.3,1027.2 201.6,1015 210.8,989.7 219.8,990.3 228.7,1009.1 237.4,1019.1 246,1037.8 254.4,1032.1 262.7,1000.1 270.9,1023.6 279,1061 287,1063.6 294.8,1062.9 302.5,1048.6 310.2,1111.1 317.7,1181.5 325.1,1146.6 332.4,1094.6 339.6,1060.6 346.8,1002.9 353.8,1007.2 360.7,977 367.6,990.2 374.4,1039.4 381.1,1059.4 387.7,1063.7 394.2,1014.7 400.6,1011.8 407,1050.6 413.3,1072.8 419.5,1037.8 425.7,1009.2 431.8,1038.5 437.8,1099.4 443.8,1041.4 449.7,1009.8 455.5,1099.1 461.3,1176.6 467,1129.4 472.6,1114.5 478.2,1137.7 483.7,1137.8 489.2,1142.9 494.6,1134.5 500,1094.4 505.3,1075.5 510.6,1115.5 515.8,1137 521,1120.8 526.1,1098 531.2,1139 536.2,1177.6 541.2,1124.5 546.1,1072.8 551,1132.4 555.8,1145.2 560.6,1160.4 565.4,1163.8 570.1,1082 574.8,1040.1 579.4,1066.4 584,1185.1 588.6,1198.9 593.1,1123.8 597.6,1176 602.1,1256 606.5,1199.7 610.8,1064.9" fill="none" stroke="#77AC30" stroke-width="1.7" opacity="0.72" stroke-linejoin="round" clip-path="url(#clipB)"/>
<polyline points="111.4,993.9 122.2,1019.6 132.8,1038.9 143.2,1011.4 153.4,1003.9 163.4,1018.6 173.2,1028 182.8,1058.7 192.3,1037.6 201.6,1000.8 210.8,1034.4 219.8,1073.7 228.7,1040.5 237.4,1009.9 246,1020.4 254.4,993.5 262.7,995.8 270.9,1053.5 279,1071.5 287,1078.6 294.8,1113.4 302.5,1089.7 310.2,1037.4 317.7,1046.3 325.1,1034 332.4,1012.1 339.6,1017.4 346.8,1030.1 353.8,1016.1 360.7,944.2 367.6,987.3 374.4,1093.6 381.1,1106.5 387.7,1111.7 394.2,1105.7 400.6,1077.1 407,1066.3 413.3,1062.7 419.5,1043.6 425.7,1047.5 431.8,1098.8 437.8,1093 443.8,1062.6 449.7,1118.5 455.5,1161 461.3,1149.4 467,1092.4 472.6,1025.2 478.2,1033.9 483.7,1076.1 489.2,1076.6 494.6,1076.7 500,1068.8 505.3,1064.4 510.6,1064.4 515.8,1053 521,1026.2 526.1,1047.1 531.2,1099.4 536.2,1110 541.2,1127 546.1,1148.9 551,1153.6 555.8,1081.6 560.6,1053.5 565.4,1050.1 570.1,1044.9 574.8,1057.8 579.4,1103.5 584,1090.5 588.6,1089.3 593.1,1128.3 597.6,1165.1 602.1,1192.4 606.5,1102 610.8,1090.8" fill="none" stroke="#4DBEEE" stroke-width="1.7" opacity="0.72" stroke-linejoin="round" clip-path="url(#clipB)"/>
<polyline points="111.4,997.4 122.2,1007.7 132.8,968.9 143.2,991.5 153.4,1026.2 163.4,989.1 173.2,976.5 182.8,980.9 192.3,978.9 201.6,981.7 210.8,963 219.8,960.8 228.7,1038 237.4,1075.8 246,997.8 254.4,976.6 262.7,1011.2 270.9,1017.4 279,1017.3 287,1044.4 294.8,1056.6 302.5,1078.1 310.2,1081.1 317.7,1003.1 325.1,977.2 332.4,1015.5 339.6,1087.3 346.8,1112.1 353.8,969.9 360.7,872.8 367.6,949.9 374.4,1106.1 381.1,1086.3 387.7,1066.5 394.2,1070.8 400.6,1101.8 407,1102.1 413.3,1105 419.5,1115.5 425.7,1121 431.8,1106.1 437.8,1044.5 443.8,1052.5 449.7,1108.1 455.5,1104.9 461.3,1094.3 467,1108.1 472.6,1112.5 478.2,1070.5 483.7,1047.2 489.2,1061.4 494.6,1074.6 500,1089.4 505.3,1085.2 510.6,1096.2 515.8,1081.1 521,1069.6 526.1,1087 531.2,1123.6 536.2,1158.4 541.2,1087.2 546.1,1081.7 551,1164.4 555.8,1129.6 560.6,1074 565.4,1077.3 570.1,1115.1 574.8,1133.2 579.4,1171.2 584,1147.3 588.6,1080.7 593.1,1071.2 597.6,1073.5 602.1,1106.4 606.5,1111.6 610.8,1103.6" fill="none" stroke="#A2142F" stroke-width="1.7" opacity="0.72" stroke-linejoin="round" clip-path="url(#clipB)"/>
<polyline points="111.4,998.2 122.2,1040.2 132.8,1058.1 143.2,1030.7 153.4,985.1 163.4,996.8 173.2,1049 182.8,1018.1 192.3,941.5 201.6,970.6 210.8,1050.2 219.8,1021.2 228.7,1016.2 237.4,1073.8 246,1100 254.4,1042.5 262.7,986.5 270.9,1003.5 279,1028.3 287,1010.3 294.8,997.4 302.5,1031.2 310.2,1052.9 317.7,1011.7 325.1,1065.3 332.4,1169.6 339.6,1131.1 346.8,1071.6 353.8,1016.9 360.7,943.1 367.6,981.2 374.4,1120.3 381.1,1100.4 387.7,1089.5 394.2,1140.3 400.6,1126.1 407,1043.8 413.3,1045.5 419.5,1085.4 425.7,1066.2 431.8,1037.6 437.8,1056.9 443.8,1068.9 449.7,1042.8 455.5,1031.4 461.3,1016.7 467,1021.7 472.6,1046.6 478.2,1067.5 483.7,1121.9 489.2,1109.5 494.6,1056.1 500,1085.6 505.3,1120.6 510.6,1105.2 515.8,1127.8 521,1160.2 526.1,1130.5 531.2,1107.4 536.2,1066.6 541.2,1104.6 546.1,1155.7 551,1144.5 555.8,1094.4 560.6,1050.1 565.4,1110.3 570.1,1134.5 574.8,1135.1 579.4,1080.9 584,1049.7 588.6,1051.9 593.1,1073.9 597.6,1146.9 602.1,1089.4 606.5,1097.5 610.8,1170.2" fill="none" stroke="#0072BD" stroke-width="1.7" opacity="0.72" stroke-linejoin="round" clip-path="url(#clipB)"/>
<polyline points="111.4,937.6 122.2,918.9 132.8,960.9 143.2,1089.3 153.4,1120.4 163.4,1078.7 173.2,1005.9 182.8,945.4 192.3,952.6 201.6,1024.4 210.8,1091.8 219.8,1116 228.7,1080.5 237.4,985.7 246,988.2 254.4,1109.6 262.7,1115.1 270.9,1045.6 279,1083 287,1096.6 294.8,1087.9 302.5,1146.2 310.2,1138.3 317.7,1051.4 325.1,1039.8 332.4,1064 339.6,1045.3 346.8,1060.7 353.8,1019.1 360.7,948.2 367.6,1034.4 374.4,1152.4 381.1,1076.5 387.7,1027.6 394.2,1036.9 400.6,1065.2 407,1105.1 413.3,1142.1 419.5,1132.1 425.7,1079.1 431.8,1048.3 437.8,1045.3 443.8,1038.2 449.7,1021.5 455.5,1020.7 461.3,1040 467,1045.8 472.6,1037.6 478.2,1055 483.7,1107.1 489.2,1128.4 494.6,1109.4 500,1105.1 505.3,1114.7 510.6,1097.8 515.8,1062 521,1081.3 526.1,1115 531.2,1072.3 536.2,1055.5 541.2,1069.9 546.1,1152.5 551,1149.7 555.8,1133.2 560.6,1137.1 565.4,1102.4 570.1,1092.3 574.8,1076.6 579.4,1081.7 584,1113.7 588.6,1115.1 593.1,1135.6 597.6,1135.6 602.1,1080.5 606.5,1136.6 610.8,1091.7" fill="none" stroke="#D95319" stroke-width="1.7" opacity="0.72" stroke-linejoin="round" clip-path="url(#clipB)"/>
<polyline points="111.4,981.5 122.2,1002.3 132.8,989.1 143.2,955.7 153.4,961 163.4,986.8 173.2,988.3 182.8,995.7 192.3,991 201.6,959.1 210.8,949.6 219.8,970.7 228.7,1045 237.4,1108.3 246,1084 254.4,1007.6 262.7,983.6 270.9,976.7 279,975.3 287,994.4 294.8,1070.7 302.5,1141.6 310.2,1117.1 317.7,1045.5 325.1,1002.1 332.4,1020.3 339.6,1075.8 346.8,1084.2 353.8,1006.3 360.7,955.6 367.6,1019.7 374.4,1018.5 381.1,1013 387.7,1015.3 394.2,1014.1 400.6,1055.3 407,1149.7 413.3,1135.2 419.5,1069.5 425.7,1093.2 431.8,1127 437.8,1110.3 443.8,1088.7 449.7,1080.9 455.5,1076.1 461.3,1085.1 467,1106.4 472.6,1145.3 478.2,1145.4 483.7,1119.4 489.2,1159.3 494.6,1170.9 500,1101.4 505.3,1046.7 510.6,1044.1 515.8,1080.4 521,1119.4 526.1,1082.5 531.2,1081.9 536.2,1101.4 541.2,1084.9 546.1,1103.6 551,1126.1 555.8,1105.1 560.6,1121.9 565.4,1115.5 570.1,1111.7 574.8,1171.6 579.4,1204.6 584,1214.5 588.6,1165.5 593.1,1139.9 597.6,1113.8 602.1,1133.7 606.5,1123.8 610.8,1158.3" fill="none" stroke="#EDB120" stroke-width="1.7" opacity="0.72" stroke-linejoin="round" clip-path="url(#clipB)"/>
<rect x="116.5" y="737" width="493" height="494" fill="none" stroke="#333" stroke-width="2.2"/>
<line x1="210.8" y1="1231" x2="210.8" y2="1225" stroke="#333" stroke-width="2"/>
<line x1="210.8" y1="737" x2="210.8" y2="743" stroke="#333" stroke-width="2"/>
<line x1="294.8" y1="1231" x2="294.8" y2="1225" stroke="#333" stroke-width="2"/>
<line x1="294.8" y1="737" x2="294.8" y2="743" stroke="#333" stroke-width="2"/>
<line x1="367.6" y1="1231" x2="367.6" y2="1225" stroke="#333" stroke-width="2"/>
<line x1="367.6" y1="737" x2="367.6" y2="743" stroke="#333" stroke-width="2"/>
<line x1="431.8" y1="1231" x2="431.8" y2="1225" stroke="#333" stroke-width="2"/>
<line x1="431.8" y1="737" x2="431.8" y2="743" stroke="#333" stroke-width="2"/>
<line x1="489.2" y1="1231" x2="489.2" y2="1225" stroke="#333" stroke-width="2"/>
<line x1="489.2" y1="737" x2="489.2" y2="743" stroke="#333" stroke-width="2"/>
<line x1="541.2" y1="1231" x2="541.2" y2="1225" stroke="#333" stroke-width="2"/>
<line x1="541.2" y1="737" x2="541.2" y2="743" stroke="#333" stroke-width="2"/>
<line x1="588.6" y1="1231" x2="588.6" y2="1225" stroke="#333" stroke-width="2"/>
<line x1="588.6" y1="737" x2="588.6" y2="743" stroke="#333" stroke-width="2"/>
<line x1="116.5" y1="1133" x2="122.5" y2="1133" stroke="#333" stroke-width="2"/>
<line x1="609.5" y1="1133" x2="603.5" y2="1133" stroke="#333" stroke-width="2"/>
<line x1="116.5" y1="1023.1" x2="122.5" y2="1023.1" stroke="#333" stroke-width="2"/>
<line x1="609.5" y1="1023.1" x2="603.5" y2="1023.1" stroke="#333" stroke-width="2"/>
<line x1="116.5" y1="945.2" x2="122.5" y2="945.2" stroke="#333" stroke-width="2"/>
<line x1="609.5" y1="945.2" x2="603.5" y2="945.2" stroke="#333" stroke-width="2"/>
<line x1="116.5" y1="884.7" x2="122.5" y2="884.7" stroke="#333" stroke-width="2"/>
<line x1="609.5" y1="884.7" x2="603.5" y2="884.7" stroke="#333" stroke-width="2"/>
<line x1="116.5" y1="835.3" x2="122.5" y2="835.3" stroke="#333" stroke-width="2"/>
<line x1="609.5" y1="835.3" x2="603.5" y2="835.3" stroke="#333" stroke-width="2"/>
<line x1="116.5" y1="793.5" x2="122.5" y2="793.5" stroke="#333" stroke-width="2"/>
<line x1="609.5" y1="793.5" x2="603.5" y2="793.5" stroke="#333" stroke-width="2"/>
<line x1="116.5" y1="757.3" x2="122.5" y2="757.3" stroke="#333" stroke-width="2"/>
<line x1="609.5" y1="757.3" x2="603.5" y2="757.3" stroke="#333" stroke-width="2"/>
<rect x="505.5" y="748" width="95.5" height="247.5" fill="#fff" stroke="#444" stroke-width="2.6"/>
<line x1="509.5" y1="760" x2="530" y2="760" stroke="#0072BD" stroke-width="1.8" opacity="0.75"/>
<text x="539" y="768.9" font-size="17.16" textLength="46" lengthAdjust="spacingAndGlyphs">10nT</text>
<line x1="509.5" y1="784.7" x2="530" y2="784.7" stroke="#D95319" stroke-width="1.8" opacity="0.75"/>
<text x="539.5" y="793.6" font-size="17.16" textLength="45.4" lengthAdjust="spacingAndGlyphs">20nT</text>
<line x1="509.5" y1="809.4" x2="530" y2="809.4" stroke="#EDB120" stroke-width="1.8" opacity="0.75"/>
<text x="539.8" y="818.3" font-size="17.16" textLength="45.2" lengthAdjust="spacingAndGlyphs">30nT</text>
<line x1="509.5" y1="834.1" x2="530" y2="834.1" stroke="#7E2F8E" stroke-width="1.8" opacity="0.75"/>
<text x="539.9" y="843" font-size="17.16" textLength="45" lengthAdjust="spacingAndGlyphs">40nT</text>
<line x1="509.5" y1="858.8" x2="530" y2="858.8" stroke="#77AC30" stroke-width="1.8" opacity="0.75"/>
<text x="539.6" y="867.7" font-size="17.16" textLength="45.3" lengthAdjust="spacingAndGlyphs">50nT</text>
<line x1="509.5" y1="883.5" x2="530" y2="883.5" stroke="#4DBEEE" stroke-width="1.8" opacity="0.75"/>
<text x="539.5" y="892.4" font-size="17.16" textLength="45.5" lengthAdjust="spacingAndGlyphs">60nT</text>
<line x1="509.5" y1="908.2" x2="530" y2="908.2" stroke="#A2142F" stroke-width="1.8" opacity="0.75"/>
<text x="539.4" y="917.1" font-size="17.16" textLength="45.6" lengthAdjust="spacingAndGlyphs">70nT</text>
<line x1="509.5" y1="932.9" x2="530" y2="932.9" stroke="#0072BD" stroke-width="1.8" opacity="0.75"/>
<text x="539.6" y="941.8" font-size="17.16" textLength="45.4" lengthAdjust="spacingAndGlyphs">80nT</text>
<line x1="509.5" y1="957.6" x2="530" y2="957.6" stroke="#D95319" stroke-width="1.8" opacity="0.75"/>
<text x="539.5" y="966.5" font-size="17.16" textLength="45.4" lengthAdjust="spacingAndGlyphs">90nT</text>
<line x1="509.5" y1="982.3" x2="530" y2="982.3" stroke="#EDB120" stroke-width="1.8" opacity="0.75"/>
<text x="539" y="991.2" font-size="17.16" textLength="57.7" lengthAdjust="spacingAndGlyphs">100nT</text>
<text x="99.5" y="1268.3" font-size="33.26">5</text>
<text x="201" y="1268.3" font-size="32.79">6</text>
<text x="285.1" y="1268.6" font-size="33.75">7</text>
<text x="356.7" y="1268.3" font-size="32.79">8</text>
<text x="420.4" y="1268.3" font-size="32.79">9</text>
<text x="468.1" y="1268.3" font-size="32.79">10</text>
<text x="522.8" y="1268.6" font-size="33.75">11</text>
<text x="573.2" y="1268.6" font-size="33.26">12</text>
<text x="70.5" y="773.5" font-size="33.36">80</text>
<text x="70.5" y="811.5" font-size="33.36">70</text>
<text x="70.5" y="848.8" font-size="33.36">60</text>
<text x="70.5" y="898.5" font-size="33.36">50</text>
<text x="70.5" y="958.5" font-size="33.36">40</text>
<text x="70.6" y="1037.4" font-size="33.24">30</text>
<text x="70.5" y="1147.5" font-size="33.36">20</text>
<text x="118.7" y="719.7" font-size="32.00" textLength="487.2" lengthAdjust="spacingAndGlyphs">Single Channel Output at 8 Hz</text>
<text x="4.8" y="728.7" font-size="43.78" textLength="63.8" lengthAdjust="spacingAndGlyphs">(B)</text>
<text transform="translate(36.2 1218.6) rotate(-90)" font-size="34.76" textLength="448.8" lengthAdjust="spacingAndGlyphs">Single Channel Output [pT]</text>
<text x="186.7" y="1325" font-size="34.04" textLength="246.2" lengthAdjust="spacingAndGlyphs">Frequency [Hz]</text>
<line x1="782.6" y1="738.3" x2="782.6" y2="1229.7" stroke="#e6e6e6" stroke-width="2.4"/>
<line x1="782.6" y1="738.3" x2="782.6" y2="1229.7" stroke="#b2b2b2" stroke-width="1.4" stroke-dasharray="1.6 2.4"/>
<line x1="804.9" y1="738.3" x2="804.9" y2="1229.7" stroke="#e6e6e6" stroke-width="2.4"/>
<line x1="804.9" y1="738.3" x2="804.9" y2="1229.7" stroke="#b2b2b2" stroke-width="1.4" stroke-dasharray="1.6 2.4"/>
<line x1="827.1" y1="738.3" x2="827.1" y2="1229.7" stroke="#e6e6e6" stroke-width="2.4"/>
<line x1="827.1" y1="738.3" x2="827.1" y2="1229.7" stroke="#b2b2b2" stroke-width="1.4" stroke-dasharray="1.6 2.4"/>
<line x1="871.6" y1="738.3" x2="871.6" y2="1229.7" stroke="#e6e6e6" stroke-width="2.4"/>
<line x1="871.6" y1="738.3" x2="871.6" y2="1229.7" stroke="#b2b2b2" stroke-width="1.4" stroke-dasharray="1.6 2.4"/>
<line x1="893.9" y1="738.3" x2="893.9" y2="1229.7" stroke="#e6e6e6" stroke-width="2.4"/>
<line x1="893.9" y1="738.3" x2="893.9" y2="1229.7" stroke="#b2b2b2" stroke-width="1.4" stroke-dasharray="1.6 2.4"/>
<line x1="916.1" y1="738.3" x2="916.1" y2="1229.7" stroke="#e6e6e6" stroke-width="2.4"/>
<line x1="916.1" y1="738.3" x2="916.1" y2="1229.7" stroke="#b2b2b2" stroke-width="1.4" stroke-dasharray="1.6 2.4"/>
<line x1="960.6" y1="738.3" x2="960.6" y2="1229.7" stroke="#e6e6e6" stroke-width="2.4"/>
<line x1="960.6" y1="738.3" x2="960.6" y2="1229.7" stroke="#b2b2b2" stroke-width="1.4" stroke-dasharray="1.6 2.4"/>
<line x1="982.9" y1="738.3" x2="982.9" y2="1229.7" stroke="#e6e6e6" stroke-width="2.4"/>
<line x1="982.9" y1="738.3" x2="982.9" y2="1229.7" stroke="#b2b2b2" stroke-width="1.4" stroke-dasharray="1.6 2.4"/>
<line x1="1005.1" y1="738.3" x2="1005.1" y2="1229.7" stroke="#e6e6e6" stroke-width="2.4"/>
<line x1="1005.1" y1="738.3" x2="1005.1" y2="1229.7" stroke="#b2b2b2" stroke-width="1.4" stroke-dasharray="1.6 2.4"/>
<line x1="1049.7" y1="738.3" x2="1049.7" y2="1229.7" stroke="#e6e6e6" stroke-width="2.4"/>
<line x1="1049.7" y1="738.3" x2="1049.7" y2="1229.7" stroke="#b2b2b2" stroke-width="1.4" stroke-dasharray="1.6 2.4"/>
<line x1="1071.9" y1="738.3" x2="1071.9" y2="1229.7" stroke="#e6e6e6" stroke-width="2.4"/>
<line x1="1071.9" y1="738.3" x2="1071.9" y2="1229.7" stroke="#b2b2b2" stroke-width="1.4" stroke-dasharray="1.6 2.4"/>
<line x1="1094.2" y1="738.3" x2="1094.2" y2="1229.7" stroke="#e6e6e6" stroke-width="2.4"/>
<line x1="1094.2" y1="738.3" x2="1094.2" y2="1229.7" stroke="#b2b2b2" stroke-width="1.4" stroke-dasharray="1.6 2.4"/>
<line x1="1138.7" y1="738.3" x2="1138.7" y2="1229.7" stroke="#e6e6e6" stroke-width="2.4"/>
<line x1="1138.7" y1="738.3" x2="1138.7" y2="1229.7" stroke="#b2b2b2" stroke-width="1.4" stroke-dasharray="1.6 2.4"/>
<line x1="1160.9" y1="738.3" x2="1160.9" y2="1229.7" stroke="#e6e6e6" stroke-width="2.4"/>
<line x1="1160.9" y1="738.3" x2="1160.9" y2="1229.7" stroke="#b2b2b2" stroke-width="1.4" stroke-dasharray="1.6 2.4"/>
<line x1="1183.2" y1="738.3" x2="1183.2" y2="1229.7" stroke="#e6e6e6" stroke-width="2.4"/>
<line x1="1183.2" y1="738.3" x2="1183.2" y2="1229.7" stroke="#b2b2b2" stroke-width="1.4" stroke-dasharray="1.6 2.4"/>
<line x1="1227.7" y1="738.3" x2="1227.7" y2="1229.7" stroke="#e6e6e6" stroke-width="2.4"/>
<line x1="1227.7" y1="738.3" x2="1227.7" y2="1229.7" stroke="#b2b2b2" stroke-width="1.4" stroke-dasharray="1.6 2.4"/>
<line x1="760.4" y1="1210" x2="1250.3" y2="1210" stroke="#e6e6e6" stroke-width="2.4"/>
<line x1="760.4" y1="1210" x2="1250.3" y2="1210" stroke="#b2b2b2" stroke-width="1.4" stroke-dasharray="1.6 2.4"/>
<line x1="760.4" y1="1190.4" x2="1250.3" y2="1190.4" stroke="#e6e6e6" stroke-width="2.4"/>
<line x1="760.4" y1="1190.4" x2="1250.3" y2="1190.4" stroke="#b2b2b2" stroke-width="1.4" stroke-dasharray="1.6 2.4"/>
<line x1="760.4" y1="1170.7" x2="1250.3" y2="1170.7" stroke="#e6e6e6" stroke-width="2.4"/>
<line x1="760.4" y1="1170.7" x2="1250.3" y2="1170.7" stroke="#b2b2b2" stroke-width="1.4" stroke-dasharray="1.6 2.4"/>
<line x1="760.4" y1="1151.1" x2="1250.3" y2="1151.1" stroke="#e6e6e6" stroke-width="2.4"/>
<line x1="760.4" y1="1151.1" x2="1250.3" y2="1151.1" stroke="#b2b2b2" stroke-width="1.4" stroke-dasharray="1.6 2.4"/>
<line x1="760.4" y1="1111.8" x2="1250.3" y2="1111.8" stroke="#e6e6e6" stroke-width="2.4"/>
<line x1="760.4" y1="1111.8" x2="1250.3" y2="1111.8" stroke="#b2b2b2" stroke-width="1.4" stroke-dasharray="1.6 2.4"/>
<line x1="760.4" y1="1092.1" x2="1250.3" y2="1092.1" stroke="#e6e6e6" stroke-width="2.4"/>
<line x1="760.4" y1="1092.1" x2="1250.3" y2="1092.1" stroke="#b2b2b2" stroke-width="1.4" stroke-dasharray="1.6 2.4"/>
<line x1="760.4" y1="1072.5" x2="1250.3" y2="1072.5" stroke="#e6e6e6" stroke-width="2.4"/>
<line x1="760.4" y1="1072.5" x2="1250.3" y2="1072.5" stroke="#b2b2b2" stroke-width="1.4" stroke-dasharray="1.6 2.4"/>
<line x1="760.4" y1="1052.8" x2="1250.3" y2="1052.8" stroke="#e6e6e6" stroke-width="2.4"/>
<line x1="760.4" y1="1052.8" x2="1250.3" y2="1052.8" stroke="#b2b2b2" stroke-width="1.4" stroke-dasharray="1.6 2.4"/>
<line x1="760.4" y1="1013.5" x2="1250.3" y2="1013.5" stroke="#e6e6e6" stroke-width="2.4"/>
<line x1="760.4" y1="1013.5" x2="1250.3" y2="1013.5" stroke="#b2b2b2" stroke-width="1.4" stroke-dasharray="1.6 2.4"/>
<line x1="760.4" y1="993.8" x2="1250.3" y2="993.8" stroke="#e6e6e6" stroke-width="2.4"/>
<line x1="760.4" y1="993.8" x2="1250.3" y2="993.8" stroke="#b2b2b2" stroke-width="1.4" stroke-dasharray="1.6 2.4"/>
<line x1="760.4" y1="974.2" x2="1250.3" y2="974.2" stroke="#e6e6e6" stroke-width="2.4"/>
<line x1="760.4" y1="974.2" x2="1250.3" y2="974.2" stroke="#b2b2b2" stroke-width="1.4" stroke-dasharray="1.6 2.4"/>
<line x1="760.4" y1="954.5" x2="1250.3" y2="954.5" stroke="#e6e6e6" stroke-width="2.4"/>
<line x1="760.4" y1="954.5" x2="1250.3" y2="954.5" stroke="#b2b2b2" stroke-width="1.4" stroke-dasharray="1.6 2.4"/>
<line x1="760.4" y1="915.2" x2="1250.3" y2="915.2" stroke="#e6e6e6" stroke-width="2.4"/>
<line x1="760.4" y1="915.2" x2="1250.3" y2="915.2" stroke="#b2b2b2" stroke-width="1.4" stroke-dasharray="1.6 2.4"/>
<line x1="760.4" y1="895.5" x2="1250.3" y2="895.5" stroke="#e6e6e6" stroke-width="2.4"/>
<line x1="760.4" y1="895.5" x2="1250.3" y2="895.5" stroke="#b2b2b2" stroke-width="1.4" stroke-dasharray="1.6 2.4"/>
<line x1="760.4" y1="875.9" x2="1250.3" y2="875.9" stroke="#e6e6e6" stroke-width="2.4"/>
<line x1="760.4" y1="875.9" x2="1250.3" y2="875.9" stroke="#b2b2b2" stroke-width="1.4" stroke-dasharray="1.6 2.4"/>
<line x1="760.4" y1="856.2" x2="1250.3" y2="856.2" stroke="#e6e6e6" stroke-width="2.4"/>
<line x1="760.4" y1="856.2" x2="1250.3" y2="856.2" stroke="#b2b2b2" stroke-width="1.4" stroke-dasharray="1.6 2.4"/>
<line x1="760.4" y1="816.9" x2="1250.3" y2="816.9" stroke="#e6e6e6" stroke-width="2.4"/>
<line x1="760.4" y1="816.9" x2="1250.3" y2="816.9" stroke="#b2b2b2" stroke-width="1.4" stroke-dasharray="1.6 2.4"/>
<line x1="760.4" y1="797.3" x2="1250.3" y2="797.3" stroke="#e6e6e6" stroke-width="2.4"/>
<line x1="760.4" y1="797.3" x2="1250.3" y2="797.3" stroke="#b2b2b2" stroke-width="1.4" stroke-dasharray="1.6 2.4"/>
<line x1="760.4" y1="777.6" x2="1250.3" y2="777.6" stroke="#e6e6e6" stroke-width="2.4"/>
<line x1="760.4" y1="777.6" x2="1250.3" y2="777.6" stroke="#b2b2b2" stroke-width="1.4" stroke-dasharray="1.6 2.4"/>
<line x1="760.4" y1="758" x2="1250.3" y2="758" stroke="#e6e6e6" stroke-width="2.4"/>
<line x1="760.4" y1="758" x2="1250.3" y2="758" stroke="#b2b2b2" stroke-width="1.4" stroke-dasharray="1.6 2.4"/>
<line x1="849.4" y1="738.3" x2="849.4" y2="1229.7" stroke="#d0d0d0" stroke-width="2.2"/>
<line x1="938.4" y1="738.3" x2="938.4" y2="1229.7" stroke="#d0d0d0" stroke-width="2.2"/>
<line x1="1027.4" y1="738.3" x2="1027.4" y2="1229.7" stroke="#d0d0d0" stroke-width="2.2"/>
<line x1="1116.4" y1="738.3" x2="1116.4" y2="1229.7" stroke="#d0d0d0" stroke-width="2.2"/>
<line x1="1205.4" y1="738.3" x2="1205.4" y2="1229.7" stroke="#d0d0d0" stroke-width="2.2"/>
<line x1="760.4" y1="1131.4" x2="1250.3" y2="1131.4" stroke="#d0d0d0" stroke-width="2.2"/>
<line x1="760.4" y1="1033.1" x2="1250.3" y2="1033.1" stroke="#d0d0d0" stroke-width="2.2"/>
<line x1="760.4" y1="934.9" x2="1250.3" y2="934.9" stroke="#d0d0d0" stroke-width="2.2"/>
<line x1="760.4" y1="836.6" x2="1250.3" y2="836.6" stroke="#d0d0d0" stroke-width="2.2"/>
<rect x="760.4" y="738.3" width="489.9" height="491.4" fill="none" stroke="#333" stroke-width="2.4"/>
<line x1="760.4" y1="1229.7" x2="760.4" y2="1223.7" stroke="#333" stroke-width="2"/>
<line x1="760.4" y1="738.3" x2="760.4" y2="744.3" stroke="#333" stroke-width="2"/>
<line x1="849.4" y1="1229.7" x2="849.4" y2="1223.7" stroke="#333" stroke-width="2"/>
<line x1="849.4" y1="738.3" x2="849.4" y2="744.3" stroke="#333" stroke-width="2"/>
<line x1="938.4" y1="1229.7" x2="938.4" y2="1223.7" stroke="#333" stroke-width="2"/>
<line x1="938.4" y1="738.3" x2="938.4" y2="744.3" stroke="#333" stroke-width="2"/>
<line x1="1027.4" y1="1229.7" x2="1027.4" y2="1223.7" stroke="#333" stroke-width="2"/>
<line x1="1027.4" y1="738.3" x2="1027.4" y2="744.3" stroke="#333" stroke-width="2"/>
<line x1="1116.4" y1="1229.7" x2="1116.4" y2="1223.7" stroke="#333" stroke-width="2"/>
<line x1="1116.4" y1="738.3" x2="1116.4" y2="744.3" stroke="#333" stroke-width="2"/>
<line x1="1205.4" y1="1229.7" x2="1205.4" y2="1223.7" stroke="#333" stroke-width="2"/>
<line x1="1205.4" y1="738.3" x2="1205.4" y2="744.3" stroke="#333" stroke-width="2"/>
<line x1="760.4" y1="1229.7" x2="766.4" y2="1229.7" stroke="#333" stroke-width="2"/>
<line x1="1250.3" y1="1229.7" x2="1244.3" y2="1229.7" stroke="#333" stroke-width="2"/>
<line x1="760.4" y1="1131.4" x2="766.4" y2="1131.4" stroke="#333" stroke-width="2"/>
<line x1="1250.3" y1="1131.4" x2="1244.3" y2="1131.4" stroke="#333" stroke-width="2"/>
<line x1="760.4" y1="1033.1" x2="766.4" y2="1033.1" stroke="#333" stroke-width="2"/>
<line x1="1250.3" y1="1033.1" x2="1244.3" y2="1033.1" stroke="#333" stroke-width="2"/>
<line x1="760.4" y1="934.9" x2="766.4" y2="934.9" stroke="#333" stroke-width="2"/>
<line x1="1250.3" y1="934.9" x2="1244.3" y2="934.9" stroke="#333" stroke-width="2"/>
<line x1="760.4" y1="836.6" x2="766.4" y2="836.6" stroke="#333" stroke-width="2"/>
<line x1="1250.3" y1="836.6" x2="1244.3" y2="836.6" stroke="#333" stroke-width="2"/>
<line x1="760.4" y1="738.3" x2="766.4" y2="738.3" stroke="#333" stroke-width="2"/>
<line x1="1250.3" y1="738.3" x2="1244.3" y2="738.3" stroke="#333" stroke-width="2"/>
<path d="M794.6 886.3L815.2 886.3M797.6 879L812.2 893.6M804.9 876L804.9 896.6M812.2 879L797.6 893.6" stroke="#A2142F" stroke-width="2.8" fill="none"/>
<path d="M839.1 803.8L859.7 803.8M842.1 796.5L856.7 811M849.4 793.5L849.4 814.1M856.7 796.5L842.1 811" stroke="#A2142F" stroke-width="2.8" fill="none"/>
<path d="M883.6 1002.3L904.2 1002.3M886.6 995L901.2 1009.6M893.9 992L893.9 1012.6M901.2 995L886.6 1009.6" stroke="#A2142F" stroke-width="2.8" fill="none"/>
<path d="M928.1 1143.8L948.7 1143.8M931.1 1136.5L945.7 1151.1M938.4 1133.5L938.4 1154.1M945.7 1136.5L931.1 1151.1" stroke="#A2142F" stroke-width="2.8" fill="none"/>
<path d="M972.6 1167.4L993.2 1167.4M975.6 1160.1L990.2 1174.7M982.9 1157.1L982.9 1177.7M990.2 1160.1L975.6 1174.7" stroke="#A2142F" stroke-width="2.8" fill="none"/>
<path d="M1017.1 847L1037.7 847M1020.1 839.7L1034.7 854.3M1027.4 836.7L1027.4 857.3M1034.7 839.7L1020.1 854.3" stroke="#A2142F" stroke-width="2.8" fill="none"/>
<path d="M1061.6 835.2L1082.2 835.2M1064.6 827.9L1079.2 842.5M1071.9 824.9L1071.9 845.5M1079.2 827.9L1064.6 842.5" stroke="#A2142F" stroke-width="2.8" fill="none"/>
<path d="M1106.1 1002.3L1126.7 1002.3M1109.1 995L1123.7 1009.6M1116.4 992L1116.4 1012.6M1123.7 995L1109.1 1009.6" stroke="#A2142F" stroke-width="2.8" fill="none"/>
<path d="M1150.6 886.3L1171.2 886.3M1153.6 879L1168.2 893.6M1160.9 876L1160.9 896.6M1168.2 879L1153.6 893.6" stroke="#A2142F" stroke-width="2.8" fill="none"/>
<path d="M1195.1 1069.1L1215.7 1069.1M1198.1 1061.8L1212.7 1076.4M1205.4 1058.8L1205.4 1079.4M1212.7 1061.8L1198.1 1076.4" stroke="#A2142F" stroke-width="2.8" fill="none"/>
<rect x="771.3" y="744" width="182.3" height="40.4" fill="#fff" stroke="#111" stroke-width="3"/>
<path d="M775.7 763.6L795.7 763.6M778.6 756.5L792.8 770.7M785.7 753.6L785.7 773.6M792.8 756.5L778.6 770.7" stroke="#A2142F" stroke-width="2.8" fill="none"/>
<text x="805.4" y="773.7" font-size="26.47" textLength="134.1" lengthAdjust="spacingAndGlyphs">Data Point</text>
<text x="756.1" y="1267.3" font-size="33.50">0</text>
<text x="830.1" y="1267.3" font-size="33.50">20</text>
<text x="918.7" y="1267.3" font-size="33.50">40</text>
<text x="1009" y="1267.3" font-size="33.50">60</text>
<text x="1099.4" y="1267.3" font-size="33.50">80</text>
<text x="1178" y="1267.3" font-size="33.50">100</text>
<text x="717.4" y="758" font-size="33.26">55</text>
<text x="718.3" y="851.8" font-size="32.79">50</text>
<text x="717.4" y="950.3" font-size="33.26">45</text>
<text x="718.3" y="1047.8" font-size="32.79">40</text>
<text x="718" y="1144.9" font-size="32.68">35</text>
<text x="718.4" y="1241.7" font-size="32.68">30</text>
<text x="758" y="721.7" font-size="32.15" textLength="486.8" lengthAdjust="spacingAndGlyphs">Single Channel Output at 8 Hz</text>
<text x="651.5" y="727.1" font-size="43.58" textLength="66.1" lengthAdjust="spacingAndGlyphs">(C)</text>
<text transform="translate(691.9 1206.1) rotate(-90)" font-size="34.62" textLength="438.1" lengthAdjust="spacingAndGlyphs">Single Channel Output [pT]</text>
<text x="698.5" y="1323.6" font-size="33.02" textLength="607.6" lengthAdjust="spacingAndGlyphs">Homogeneous Background Field [nT]</text>
<line x1="1429.5" y1="736.3" x2="1429.5" y2="1228.5" stroke="#e6e6e6" stroke-width="2.4"/>
<line x1="1429.5" y1="736.3" x2="1429.5" y2="1228.5" stroke="#b2b2b2" stroke-width="1.4" stroke-dasharray="1.6 2.4"/>
<line x1="1458.4" y1="736.3" x2="1458.4" y2="1228.5" stroke="#e6e6e6" stroke-width="2.4"/>
<line x1="1458.4" y1="736.3" x2="1458.4" y2="1228.5" stroke="#b2b2b2" stroke-width="1.4" stroke-dasharray="1.6 2.4"/>
<line x1="1478.9" y1="736.3" x2="1478.9" y2="1228.5" stroke="#e6e6e6" stroke-width="2.4"/>
<line x1="1478.9" y1="736.3" x2="1478.9" y2="1228.5" stroke="#b2b2b2" stroke-width="1.4" stroke-dasharray="1.6 2.4"/>
<line x1="1494.8" y1="736.3" x2="1494.8" y2="1228.5" stroke="#e6e6e6" stroke-width="2.4"/>
<line x1="1494.8" y1="736.3" x2="1494.8" y2="1228.5" stroke="#b2b2b2" stroke-width="1.4" stroke-dasharray="1.6 2.4"/>
<line x1="1507.9" y1="736.3" x2="1507.9" y2="1228.5" stroke="#e6e6e6" stroke-width="2.4"/>
<line x1="1507.9" y1="736.3" x2="1507.9" y2="1228.5" stroke="#b2b2b2" stroke-width="1.4" stroke-dasharray="1.6 2.4"/>
<line x1="1518.8" y1="736.3" x2="1518.8" y2="1228.5" stroke="#e6e6e6" stroke-width="2.4"/>
<line x1="1518.8" y1="736.3" x2="1518.8" y2="1228.5" stroke="#b2b2b2" stroke-width="1.4" stroke-dasharray="1.6 2.4"/>
<line x1="1528.4" y1="736.3" x2="1528.4" y2="1228.5" stroke="#e6e6e6" stroke-width="2.4"/>
<line x1="1528.4" y1="736.3" x2="1528.4" y2="1228.5" stroke="#b2b2b2" stroke-width="1.4" stroke-dasharray="1.6 2.4"/>
<line x1="1536.8" y1="736.3" x2="1536.8" y2="1228.5" stroke="#e6e6e6" stroke-width="2.4"/>
<line x1="1536.8" y1="736.3" x2="1536.8" y2="1228.5" stroke="#b2b2b2" stroke-width="1.4" stroke-dasharray="1.6 2.4"/>
<line x1="1593.8" y1="736.3" x2="1593.8" y2="1228.5" stroke="#e6e6e6" stroke-width="2.4"/>
<line x1="1593.8" y1="736.3" x2="1593.8" y2="1228.5" stroke="#b2b2b2" stroke-width="1.4" stroke-dasharray="1.6 2.4"/>
<line x1="1622.7" y1="736.3" x2="1622.7" y2="1228.5" stroke="#e6e6e6" stroke-width="2.4"/>
<line x1="1622.7" y1="736.3" x2="1622.7" y2="1228.5" stroke="#b2b2b2" stroke-width="1.4" stroke-dasharray="1.6 2.4"/>
<line x1="1643.2" y1="736.3" x2="1643.2" y2="1228.5" stroke="#e6e6e6" stroke-width="2.4"/>
<line x1="1643.2" y1="736.3" x2="1643.2" y2="1228.5" stroke="#b2b2b2" stroke-width="1.4" stroke-dasharray="1.6 2.4"/>
<line x1="1659.1" y1="736.3" x2="1659.1" y2="1228.5" stroke="#e6e6e6" stroke-width="2.4"/>
<line x1="1659.1" y1="736.3" x2="1659.1" y2="1228.5" stroke="#b2b2b2" stroke-width="1.4" stroke-dasharray="1.6 2.4"/>
<line x1="1672.2" y1="736.3" x2="1672.2" y2="1228.5" stroke="#e6e6e6" stroke-width="2.4"/>
<line x1="1672.2" y1="736.3" x2="1672.2" y2="1228.5" stroke="#b2b2b2" stroke-width="1.4" stroke-dasharray="1.6 2.4"/>
<line x1="1683.1" y1="736.3" x2="1683.1" y2="1228.5" stroke="#e6e6e6" stroke-width="2.4"/>
<line x1="1683.1" y1="736.3" x2="1683.1" y2="1228.5" stroke="#b2b2b2" stroke-width="1.4" stroke-dasharray="1.6 2.4"/>
<line x1="1692.7" y1="736.3" x2="1692.7" y2="1228.5" stroke="#e6e6e6" stroke-width="2.4"/>
<line x1="1692.7" y1="736.3" x2="1692.7" y2="1228.5" stroke="#b2b2b2" stroke-width="1.4" stroke-dasharray="1.6 2.4"/>
<line x1="1701.1" y1="736.3" x2="1701.1" y2="1228.5" stroke="#e6e6e6" stroke-width="2.4"/>
<line x1="1701.1" y1="736.3" x2="1701.1" y2="1228.5" stroke="#b2b2b2" stroke-width="1.4" stroke-dasharray="1.6 2.4"/>
<line x1="1758.1" y1="736.3" x2="1758.1" y2="1228.5" stroke="#e6e6e6" stroke-width="2.4"/>
<line x1="1758.1" y1="736.3" x2="1758.1" y2="1228.5" stroke="#b2b2b2" stroke-width="1.4" stroke-dasharray="1.6 2.4"/>
<line x1="1787" y1="736.3" x2="1787" y2="1228.5" stroke="#e6e6e6" stroke-width="2.4"/>
<line x1="1787" y1="736.3" x2="1787" y2="1228.5" stroke="#b2b2b2" stroke-width="1.4" stroke-dasharray="1.6 2.4"/>
<line x1="1807.5" y1="736.3" x2="1807.5" y2="1228.5" stroke="#e6e6e6" stroke-width="2.4"/>
<line x1="1807.5" y1="736.3" x2="1807.5" y2="1228.5" stroke="#b2b2b2" stroke-width="1.4" stroke-dasharray="1.6 2.4"/>
<line x1="1823.4" y1="736.3" x2="1823.4" y2="1228.5" stroke="#e6e6e6" stroke-width="2.4"/>
<line x1="1823.4" y1="736.3" x2="1823.4" y2="1228.5" stroke="#b2b2b2" stroke-width="1.4" stroke-dasharray="1.6 2.4"/>
<line x1="1836.5" y1="736.3" x2="1836.5" y2="1228.5" stroke="#e6e6e6" stroke-width="2.4"/>
<line x1="1836.5" y1="736.3" x2="1836.5" y2="1228.5" stroke="#b2b2b2" stroke-width="1.4" stroke-dasharray="1.6 2.4"/>
<line x1="1847.4" y1="736.3" x2="1847.4" y2="1228.5" stroke="#e6e6e6" stroke-width="2.4"/>
<line x1="1847.4" y1="736.3" x2="1847.4" y2="1228.5" stroke="#b2b2b2" stroke-width="1.4" stroke-dasharray="1.6 2.4"/>
<line x1="1857" y1="736.3" x2="1857" y2="1228.5" stroke="#e6e6e6" stroke-width="2.4"/>
<line x1="1857" y1="736.3" x2="1857" y2="1228.5" stroke="#b2b2b2" stroke-width="1.4" stroke-dasharray="1.6 2.4"/>
<line x1="1865.4" y1="736.3" x2="1865.4" y2="1228.5" stroke="#e6e6e6" stroke-width="2.4"/>
<line x1="1865.4" y1="736.3" x2="1865.4" y2="1228.5" stroke="#b2b2b2" stroke-width="1.4" stroke-dasharray="1.6 2.4"/>
<line x1="1380" y1="1226.7" x2="1872.9" y2="1226.7" stroke="#e6e6e6" stroke-width="2.4"/>
<line x1="1380" y1="1226.7" x2="1872.9" y2="1226.7" stroke="#b2b2b2" stroke-width="1.4" stroke-dasharray="1.6 2.4"/>
<line x1="1380" y1="1192.4" x2="1872.9" y2="1192.4" stroke="#e6e6e6" stroke-width="2.4"/>
<line x1="1380" y1="1192.4" x2="1872.9" y2="1192.4" stroke="#b2b2b2" stroke-width="1.4" stroke-dasharray="1.6 2.4"/>
<line x1="1380" y1="1165.7" x2="1872.9" y2="1165.7" stroke="#e6e6e6" stroke-width="2.4"/>
<line x1="1380" y1="1165.7" x2="1872.9" y2="1165.7" stroke="#b2b2b2" stroke-width="1.4" stroke-dasharray="1.6 2.4"/>
<line x1="1380" y1="1144" x2="1872.9" y2="1144" stroke="#e6e6e6" stroke-width="2.4"/>
<line x1="1380" y1="1144" x2="1872.9" y2="1144" stroke="#b2b2b2" stroke-width="1.4" stroke-dasharray="1.6 2.4"/>
<line x1="1380" y1="1125.6" x2="1872.9" y2="1125.6" stroke="#e6e6e6" stroke-width="2.4"/>
<line x1="1380" y1="1125.6" x2="1872.9" y2="1125.6" stroke="#b2b2b2" stroke-width="1.4" stroke-dasharray="1.6 2.4"/>
<line x1="1380" y1="1109.6" x2="1872.9" y2="1109.6" stroke="#e6e6e6" stroke-width="2.4"/>
<line x1="1380" y1="1109.6" x2="1872.9" y2="1109.6" stroke="#b2b2b2" stroke-width="1.4" stroke-dasharray="1.6 2.4"/>
<line x1="1380" y1="1095.6" x2="1872.9" y2="1095.6" stroke="#e6e6e6" stroke-width="2.4"/>
<line x1="1380" y1="1095.6" x2="1872.9" y2="1095.6" stroke="#b2b2b2" stroke-width="1.4" stroke-dasharray="1.6 2.4"/>
<line x1="1380" y1="1000.3" x2="1872.9" y2="1000.3" stroke="#e6e6e6" stroke-width="2.4"/>
<line x1="1380" y1="1000.3" x2="1872.9" y2="1000.3" stroke="#b2b2b2" stroke-width="1.4" stroke-dasharray="1.6 2.4"/>
<line x1="1380" y1="951.9" x2="1872.9" y2="951.9" stroke="#e6e6e6" stroke-width="2.4"/>
<line x1="1380" y1="951.9" x2="1872.9" y2="951.9" stroke="#b2b2b2" stroke-width="1.4" stroke-dasharray="1.6 2.4"/>
<line x1="1380" y1="917.6" x2="1872.9" y2="917.6" stroke="#e6e6e6" stroke-width="2.4"/>
<line x1="1380" y1="917.6" x2="1872.9" y2="917.6" stroke="#b2b2b2" stroke-width="1.4" stroke-dasharray="1.6 2.4"/>
<line x1="1380" y1="890.9" x2="1872.9" y2="890.9" stroke="#e6e6e6" stroke-width="2.4"/>
<line x1="1380" y1="890.9" x2="1872.9" y2="890.9" stroke="#b2b2b2" stroke-width="1.4" stroke-dasharray="1.6 2.4"/>
<line x1="1380" y1="869.2" x2="1872.9" y2="869.2" stroke="#e6e6e6" stroke-width="2.4"/>
<line x1="1380" y1="869.2" x2="1872.9" y2="869.2" stroke="#b2b2b2" stroke-width="1.4" stroke-dasharray="1.6 2.4"/>
<line x1="1380" y1="850.8" x2="1872.9" y2="850.8" stroke="#e6e6e6" stroke-width="2.4"/>
<line x1="1380" y1="850.8" x2="1872.9" y2="850.8" stroke="#b2b2b2" stroke-width="1.4" stroke-dasharray="1.6 2.4"/>
<line x1="1380" y1="834.8" x2="1872.9" y2="834.8" stroke="#e6e6e6" stroke-width="2.4"/>
<line x1="1380" y1="834.8" x2="1872.9" y2="834.8" stroke="#b2b2b2" stroke-width="1.4" stroke-dasharray="1.6 2.4"/>
<line x1="1380" y1="820.8" x2="1872.9" y2="820.8" stroke="#e6e6e6" stroke-width="2.4"/>
<line x1="1380" y1="820.8" x2="1872.9" y2="820.8" stroke="#b2b2b2" stroke-width="1.4" stroke-dasharray="1.6 2.4"/>
<line x1="1544.3" y1="736.3" x2="1544.3" y2="1228.5" stroke="#d0d0d0" stroke-width="2.2"/>
<line x1="1708.6" y1="736.3" x2="1708.6" y2="1228.5" stroke="#d0d0d0" stroke-width="2.2"/>
<line x1="1380" y1="1083" x2="1872.9" y2="1083" stroke="#d0d0d0" stroke-width="2.2"/>
<line x1="1380" y1="808.2" x2="1872.9" y2="808.2" stroke="#d0d0d0" stroke-width="2.2"/>
<path d="M1380 741l10 45 7 4 6-34 9 59 9 22 9-5 14 42 7-21 10 59 5-44 6 36 6-29 3 49 6 36 4-42 4 14 3-26 9 44 5-24 6 46 6-34 3 32 7-28 5 43 5-38 3 46 8-34 1 21" fill="none" stroke="#A2142F" stroke-width="1.7" stroke-linejoin="round" opacity="0.8" clip-path="url(#clipD)"/>
<path d="M1556 980l1-5 0-13 1 17 0-13 1 5 1 14 0-12 1 4 0 6 1 2 0-6 1-4 0 22 1-6 1 4 0-13 1 11 0 2 1-13 0-9 1 34 0-10 1-11 0 4 1-12 0 3 1 12 0-17 1-9 0 16 1 15 0-19 1 12 0-3 1 8 1-9 0 22 0-22 1 20 0-13 1 18 1-12 1 1 0 20 0-15 1 1 0 4 1-9 0 1 0-14 1 27 1-10 0 8 0-7 1-16 1 16 0 14 0-11 1-6 1-1 0 4 0-1 1 11 1-9 0-11 0 30 2-6 0-19 0 20 0-6 1-3 1 19 0 6 0-26 2 1 0 35 0-24 0-21 2 31 0-13 0 1 2-13 0 32 0 10 0-23 2 3 0-18 0 13 0 13 2-7 0-14 0 39 0-36 2 22 0-15 0 11 0-19 2 27 0-20 0 11 0-13 2-3 0 16 0 6 0-20 2-5 0 19 0-13 0 38 2-26 0 12 0-19 0 18 2-20 0 19 0-27 0 35 2 0 0-24 0 5 0 19 2 1 0-31 0 7 0 14 2 14 0-18 0 8 0-10 2 1 0 34 0-29 0-9 2 19 0-25 0 5 0 23 2-27 0 33 0-26 0 12 2-15 0 19 0 13 0-20 2-10 0 20 0-26 0 27 2 0 0-24 0 24 0-12 2 16 0-17 0 12 0-16 2 30 0-26 0 19 0-13 2 23 0-37 0 41 0-24 2-10 0 35 0-3 0-28 2-6 0 54 0-42 0 21 2 11 0-33 0 21 0-24 2-8 0 28 0-19 0 10 2 16 0-34 0 27 0-18 2 13 0-9 0 2 0 16 2-23 0 31 0 3 0-26 2-9 0 27 0 5 0-30 2 20 0-22 0 31 0-28 2-74 0 113 0-26 0 18 2-1 0-29 0 29 0-21 2-12 0 30 0-23 0 37 2-39 0 40 0-32 0 37 2-53 0 43 0 7 0-38 2 1 0 32 0-34 0 30 2 6 0-27 0-4 0 33 2-33 0 25 0-16 0 14 2-25 0 40 0-33 0 18 2-21 0 29 0 2 0-39 2 33 0-25 0 8 0 30 2-41 0 24 0 3 0-21 2 0 0 34 0-3 0-33 2 3 0 49 0-46 0 29 2-4 0-22 0 27 0-22 2 30 0-35 0 32 0-37 2 33 0-30 0 5 0 30 2-44 0 44 0 1 0-39 2 8 0 30 0-38 0 26 2-13 0 35 0-39 0 42 2-50 0 45 0 4 0-52 2 63 0-46 0 31 0-26 2 29 0-40 0 26 0-33 2 5 0 36 0-28 2 0 0 30 0-2 0-36 2 36 0-31 0 37 2 7 0-41 0 4 0 38 2-33 0 24 0-27 0 35 2-7 0-28 0-12 0 61 2-52 0 44 0-6 0-36 2-10 0 57 0-43 0 48 2-2 0-52 0 35 0-37 2-5 0 61 0-52 0 49 2 0 0-46 0 44 0-46 2 2 0 52 0-45 0 36 2-46 0 44 0-32 0 36 2-1 0-42 0 62 0-56 2 37 0-33 0 27 0-34 2 1 0 48 0-34 0 35 2-51 0 45 0-38 0 58 2-25 0-29 0 47 0-51 2-1 0 58 0-51 0 37 2-35 0 32 0-40 0 47 2-42 0 65 0-65 0 43 2-39 0 62 0-70 0 58 2 9 0-61 0 1 0 50 2-51 0 58 0-56 0 45 2-4 0-45 0 47 0-41 2-5 0 45 0-47 0 49 2-42 0 47 0 9 0-62 2 66 0-63 0 63 0-65 2 0 0 56 0-4 0-55 2 14 0 52 0-46 0 53 2-9 0-51 0 52 0-57 2 57 0-53 0 47 0-46 2-13 0 86 0-9 0-62 2 6 0 49 0 8 0-60 2 54 0-58 0 3 0 43 2-40 0 53 0-62 0 65 2-54 0 55 0-2 0-63 2 9 0 45 0-54 0 61 2-54 0 71 0-22 0-49 2 51 0-44 0-1 0 40 2-43 0 54 0 5 0-66 2 7 0 67 0-13 0-65 2 66 0-53 0 44 0-44 2-5 0 65 0-57 0 59 2 13 0-92 0 15 0 67 2-17 0-49 0 63 0-65 2-4 0 75 0-16 0-49 2 55 0-55 0 67 0-70 2 65 0-58 0 49 0-51 2 47 0-54 0 9 0 51 2-55 0 67 0-70 0 63 2 1 0-68 0 59 0-64 2 70 0-73 0 73 0-58 2 68 0-69 0 64 0-67 2 64 0-59 0 59 0-59 2-4 0 58 0 32 0-92 2 78 0-78 0 71 0-67 2 67 0-61 0 60 0-59 2 58 0-69 0 7 0 59 2-7 0-52 0 1 0 61 2-55 0 57 0 1 0-67 2 64 0-57 0-4 0 65 2-64 0 75 0-70 0 53 2-55 0 62 0-68 0 71 2-65 0 62 0 12 0-75 2-7 0 74 0 2 0-67 2-4 0 82 0-7 0-64 2 54 0-58 0-13 0 67 2 27 0-85 0 62 0-71 2 11 0 81 0-25 0-62 2 80 0-74 0-2 0 79 2-14 0-63 0 77 0-77 2 82 0-88 0 7 0 83 2-82 0 78 0-84 2 72 0-63 0 62 0-61 2 0 0 78 0-86 0 76 2-68 0 73 0-81 0 85 2-7 0-82 0 75 0-65 2-2 0 77 0 5 0-82 2 82 0-78 0 73 0-73 2 62 0-67 0-2 0 85 2-6 0-67 0 4 0 69 2 0 0-85 0 85 0-79 2 74 0-72 0 6 0 71" fill="none" stroke="#A2142F" stroke-width="2.3" stroke-linejoin="round" clip-path="url(#clipD)"/>
<rect x="1380" y="736.3" width="492.9" height="492.2" fill="none" stroke="#333" stroke-width="2.4"/>
<line x1="1380" y1="1228.5" x2="1380" y2="1221.5" stroke="#333" stroke-width="2"/>
<line x1="1380" y1="736.3" x2="1380" y2="743.3" stroke="#333" stroke-width="2"/>
<line x1="1429.5" y1="1228.5" x2="1429.5" y2="1224.5" stroke="#333" stroke-width="2"/>
<line x1="1429.5" y1="736.3" x2="1429.5" y2="740.3" stroke="#333" stroke-width="2"/>
<line x1="1458.4" y1="1228.5" x2="1458.4" y2="1224.5" stroke="#333" stroke-width="2"/>
<line x1="1458.4" y1="736.3" x2="1458.4" y2="740.3" stroke="#333" stroke-width="2"/>
<line x1="1478.9" y1="1228.5" x2="1478.9" y2="1224.5" stroke="#333" stroke-width="2"/>
<line x1="1478.9" y1="736.3" x2="1478.9" y2="740.3" stroke="#333" stroke-width="2"/>
<line x1="1494.8" y1="1228.5" x2="1494.8" y2="1224.5" stroke="#333" stroke-width="2"/>
<line x1="1494.8" y1="736.3" x2="1494.8" y2="740.3" stroke="#333" stroke-width="2"/>
<line x1="1507.9" y1="1228.5" x2="1507.9" y2="1224.5" stroke="#333" stroke-width="2"/>
<line x1="1507.9" y1="736.3" x2="1507.9" y2="740.3" stroke="#333" stroke-width="2"/>
<line x1="1518.8" y1="1228.5" x2="1518.8" y2="1224.5" stroke="#333" stroke-width="2"/>
<line x1="1518.8" y1="736.3" x2="1518.8" y2="740.3" stroke="#333" stroke-width="2"/>
<line x1="1528.4" y1="1228.5" x2="1528.4" y2="1224.5" stroke="#333" stroke-width="2"/>
<line x1="1528.4" y1="736.3" x2="1528.4" y2="740.3" stroke="#333" stroke-width="2"/>
<line x1="1536.8" y1="1228.5" x2="1536.8" y2="1224.5" stroke="#333" stroke-width="2"/>
<line x1="1536.8" y1="736.3" x2="1536.8" y2="740.3" stroke="#333" stroke-width="2"/>
<line x1="1544.3" y1="1228.5" x2="1544.3" y2="1221.5" stroke="#333" stroke-width="2"/>
<line x1="1544.3" y1="736.3" x2="1544.3" y2="743.3" stroke="#333" stroke-width="2"/>
<line x1="1593.8" y1="1228.5" x2="1593.8" y2="1224.5" stroke="#333" stroke-width="2"/>
<line x1="1593.8" y1="736.3" x2="1593.8" y2="740.3" stroke="#333" stroke-width="2"/>
<line x1="1622.7" y1="1228.5" x2="1622.7" y2="1224.5" stroke="#333" stroke-width="2"/>
<line x1="1622.7" y1="736.3" x2="1622.7" y2="740.3" stroke="#333" stroke-width="2"/>
<line x1="1643.2" y1="1228.5" x2="1643.2" y2="1224.5" stroke="#333" stroke-width="2"/>
<line x1="1643.2" y1="736.3" x2="1643.2" y2="740.3" stroke="#333" stroke-width="2"/>
<line x1="1659.1" y1="1228.5" x2="1659.1" y2="1224.5" stroke="#333" stroke-width="2"/>
<line x1="1659.1" y1="736.3" x2="1659.1" y2="740.3" stroke="#333" stroke-width="2"/>
<line x1="1672.2" y1="1228.5" x2="1672.2" y2="1224.5" stroke="#333" stroke-width="2"/>
<line x1="1672.2" y1="736.3" x2="1672.2" y2="740.3" stroke="#333" stroke-width="2"/>
<line x1="1683.1" y1="1228.5" x2="1683.1" y2="1224.5" stroke="#333" stroke-width="2"/>
<line x1="1683.1" y1="736.3" x2="1683.1" y2="740.3" stroke="#333" stroke-width="2"/>
<line x1="1692.7" y1="1228.5" x2="1692.7" y2="1224.5" stroke="#333" stroke-width="2"/>
<line x1="1692.7" y1="736.3" x2="1692.7" y2="740.3" stroke="#333" stroke-width="2"/>
<line x1="1701.1" y1="1228.5" x2="1701.1" y2="1224.5" stroke="#333" stroke-width="2"/>
<line x1="1701.1" y1="736.3" x2="1701.1" y2="740.3" stroke="#333" stroke-width="2"/>
<line x1="1708.6" y1="1228.5" x2="1708.6" y2="1221.5" stroke="#333" stroke-width="2"/>
<line x1="1708.6" y1="736.3" x2="1708.6" y2="743.3" stroke="#333" stroke-width="2"/>
<line x1="1758.1" y1="1228.5" x2="1758.1" y2="1224.5" stroke="#333" stroke-width="2"/>
<line x1="1758.1" y1="736.3" x2="1758.1" y2="740.3" stroke="#333" stroke-width="2"/>
<line x1="1787" y1="1228.5" x2="1787" y2="1224.5" stroke="#333" stroke-width="2"/>
<line x1="1787" y1="736.3" x2="1787" y2="740.3" stroke="#333" stroke-width="2"/>
<line x1="1807.5" y1="1228.5" x2="1807.5" y2="1224.5" stroke="#333" stroke-width="2"/>
<line x1="1807.5" y1="736.3" x2="1807.5" y2="740.3" stroke="#333" stroke-width="2"/>
<line x1="1823.4" y1="1228.5" x2="1823.4" y2="1224.5" stroke="#333" stroke-width="2"/>
<line x1="1823.4" y1="736.3" x2="1823.4" y2="740.3" stroke="#333" stroke-width="2"/>
<line x1="1836.5" y1="1228.5" x2="1836.5" y2="1224.5" stroke="#333" stroke-width="2"/>
<line x1="1836.5" y1="736.3" x2="1836.5" y2="740.3" stroke="#333" stroke-width="2"/>
<line x1="1847.4" y1="1228.5" x2="1847.4" y2="1224.5" stroke="#333" stroke-width="2"/>
<line x1="1847.4" y1="736.3" x2="1847.4" y2="740.3" stroke="#333" stroke-width="2"/>
<line x1="1857" y1="1228.5" x2="1857" y2="1224.5" stroke="#333" stroke-width="2"/>
<line x1="1857" y1="736.3" x2="1857" y2="740.3" stroke="#333" stroke-width="2"/>
<line x1="1865.4" y1="1228.5" x2="1865.4" y2="1224.5" stroke="#333" stroke-width="2"/>
<line x1="1865.4" y1="736.3" x2="1865.4" y2="740.3" stroke="#333" stroke-width="2"/>
<line x1="1872.9" y1="1228.5" x2="1872.9" y2="1221.5" stroke="#333" stroke-width="2"/>
<line x1="1872.9" y1="736.3" x2="1872.9" y2="743.3" stroke="#333" stroke-width="2"/>
<line x1="1380" y1="1226.7" x2="1384" y2="1226.7" stroke="#333" stroke-width="2"/>
<line x1="1872.9" y1="1226.7" x2="1868.9" y2="1226.7" stroke="#333" stroke-width="2"/>
<line x1="1380" y1="1192.4" x2="1384" y2="1192.4" stroke="#333" stroke-width="2"/>
<line x1="1872.9" y1="1192.4" x2="1868.9" y2="1192.4" stroke="#333" stroke-width="2"/>
<line x1="1380" y1="1165.7" x2="1384" y2="1165.7" stroke="#333" stroke-width="2"/>
<line x1="1872.9" y1="1165.7" x2="1868.9" y2="1165.7" stroke="#333" stroke-width="2"/>
<line x1="1380" y1="1144" x2="1384" y2="1144" stroke="#333" stroke-width="2"/>
<line x1="1872.9" y1="1144" x2="1868.9" y2="1144" stroke="#333" stroke-width="2"/>
<line x1="1380" y1="1125.6" x2="1384" y2="1125.6" stroke="#333" stroke-width="2"/>
<line x1="1872.9" y1="1125.6" x2="1868.9" y2="1125.6" stroke="#333" stroke-width="2"/>
<line x1="1380" y1="1109.6" x2="1384" y2="1109.6" stroke="#333" stroke-width="2"/>
<line x1="1872.9" y1="1109.6" x2="1868.9" y2="1109.6" stroke="#333" stroke-width="2"/>
<line x1="1380" y1="1095.6" x2="1384" y2="1095.6" stroke="#333" stroke-width="2"/>
<line x1="1872.9" y1="1095.6" x2="1868.9" y2="1095.6" stroke="#333" stroke-width="2"/>
<line x1="1380" y1="1083" x2="1387" y2="1083" stroke="#333" stroke-width="2"/>
<line x1="1872.9" y1="1083" x2="1865.9" y2="1083" stroke="#333" stroke-width="2"/>
<line x1="1380" y1="1000.3" x2="1384" y2="1000.3" stroke="#333" stroke-width="2"/>
<line x1="1872.9" y1="1000.3" x2="1868.9" y2="1000.3" stroke="#333" stroke-width="2"/>
<line x1="1380" y1="951.9" x2="1384" y2="951.9" stroke="#333" stroke-width="2"/>
<line x1="1872.9" y1="951.9" x2="1868.9" y2="951.9" stroke="#333" stroke-width="2"/>
<line x1="1380" y1="917.6" x2="1384" y2="917.6" stroke="#333" stroke-width="2"/>
<line x1="1872.9" y1="917.6" x2="1868.9" y2="917.6" stroke="#333" stroke-width="2"/>
<line x1="1380" y1="890.9" x2="1384" y2="890.9" stroke="#333" stroke-width="2"/>
<line x1="1872.9" y1="890.9" x2="1868.9" y2="890.9" stroke="#333" stroke-width="2"/>
<line x1="1380" y1="869.2" x2="1384" y2="869.2" stroke="#333" stroke-width="2"/>
<line x1="1872.9" y1="869.2" x2="1868.9" y2="869.2" stroke="#333" stroke-width="2"/>
<line x1="1380" y1="850.8" x2="1384" y2="850.8" stroke="#333" stroke-width="2"/>
<line x1="1872.9" y1="850.8" x2="1868.9" y2="850.8" stroke="#333" stroke-width="2"/>
<line x1="1380" y1="834.8" x2="1384" y2="834.8" stroke="#333" stroke-width="2"/>
<line x1="1872.9" y1="834.8" x2="1868.9" y2="834.8" stroke="#333" stroke-width="2"/>
<line x1="1380" y1="820.8" x2="1384" y2="820.8" stroke="#333" stroke-width="2"/>
<line x1="1872.9" y1="820.8" x2="1868.9" y2="820.8" stroke="#333" stroke-width="2"/>
<line x1="1380" y1="808.2" x2="1387" y2="808.2" stroke="#333" stroke-width="2"/>
<line x1="1872.9" y1="808.2" x2="1865.9" y2="808.2" stroke="#333" stroke-width="2"/>
<text x="1358.7" y="1270" font-size="30.39">10</text>
<text x="1393.7" y="1260" font-size="16.11">0</text>
<text x="1513.6" y="1270" font-size="30.39">10</text>
<text x="1551.2" y="1259.9" font-size="16.11">1</text>
<text x="1678.4" y="1270" font-size="30.39">10</text>
<text x="1714.8" y="1260" font-size="16.11">2</text>
<text x="1841.7" y="1270" font-size="30.39">10</text>
<text x="1880" y="1260" font-size="16.11">3</text>
<text x="1325.7" y="833.6" font-size="33.22">10</text>
<text x="1363.7" y="822.7" font-size="17.60">2</text>
<text x="1326.2" y="1096.8" font-size="32.51">10</text>
<text x="1361.5" y="1085.9" font-size="17.23">1</text>
<text x="1401.8" y="714.6" font-size="31.85" textLength="444.9" lengthAdjust="spacingAndGlyphs">Single Channel Noise Level</text>
<text x="1275.3" y="727.8" font-size="43.05" textLength="64.5" lengthAdjust="spacingAndGlyphs">(D)</text>
<text transform="translate(1307.2 1193.2) rotate(-90)" font-size="33.45" textLength="418.7" lengthAdjust="spacingAndGlyphs">Magnetic Noise Level [pT]</text>
<text x="1516" y="1318.3" font-size="31.85" textLength="246.1" lengthAdjust="spacingAndGlyphs">Frequency [Hz]</text>
</svg>
</body></html>
